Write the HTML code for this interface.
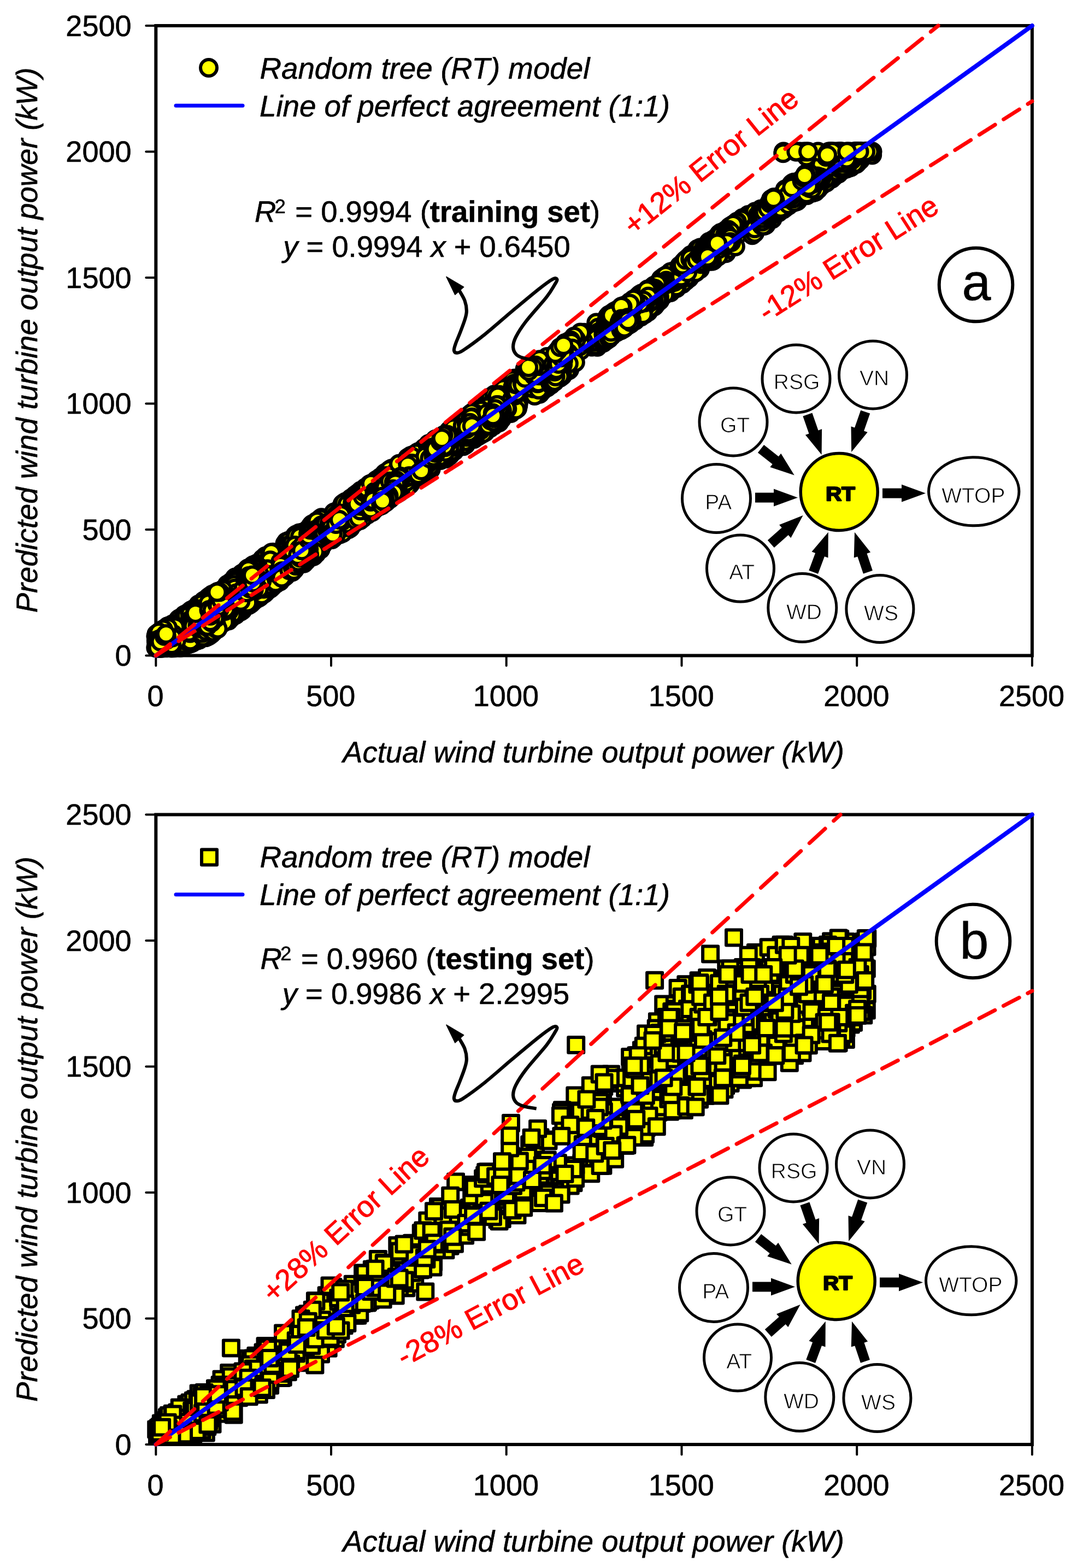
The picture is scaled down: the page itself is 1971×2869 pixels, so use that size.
<!DOCTYPE html><html><head><meta charset="utf-8"><style>html,body{margin:0;padding:0;background:#fff;}svg{display:block;text-rendering:geometricPrecision} .tk{font-family:'Liberation Sans', Arial, sans-serif;font-size:54px;fill:#000;stroke:#000;stroke-width:0.6px;stroke-linejoin:round} .tt{font-family:'Liberation Sans', Arial, sans-serif;font-size:54px;font-style:italic;fill:#000;stroke:#000;stroke-width:0.6px;stroke-linejoin:round} .rt{font-family:'Liberation Sans', Arial, sans-serif;font-size:54px;fill:#f00;stroke:#f00;stroke-width:1px;stroke-linejoin:round} .dg{font-family:'Liberation Sans', Arial, sans-serif;font-size:39px;fill:#000;stroke:#fff;stroke-width:0.8px} .dgb{font-family:'Liberation Sans', Arial, sans-serif;font-size:36px;font-weight:bold;fill:#000;stroke:#000;stroke-width:2.4px;stroke-linejoin:round} .rd{stroke:#f00;stroke-width:6;stroke-dasharray:32.5 17.5;stroke-linecap:round;fill:none} .pt{fill:#ff0;stroke:#000;stroke-width:6} g.pt circle{r:15px} .sq{fill:#ff0;stroke:#000;stroke-width:6;stroke-linejoin:round} g.sq rect{width:28px;height:28px}</style></head><body>
<svg xmlns="http://www.w3.org/2000/svg" width="1971" height="2869" viewBox="0 0 1971 2869">
<rect width="1971" height="2869" fill="#fff"/>
<rect x="285.3" y="47.0" width="1603.6" height="1152.5" fill="none" stroke="#000" stroke-width="6"/>
<line x1="285.3" y1="1199.5" x2="285.3" y2="1218.0" stroke="#000" stroke-width="4" stroke-linecap="round"/>
<line x1="267.3" y1="1199.5" x2="285.3" y2="1199.5" stroke="#000" stroke-width="4" stroke-linecap="round"/>
<text x="284.5" y="1292.2" text-anchor="middle" class="tk">0</text>
<text x="240.5" y="1218.2" text-anchor="end" class="tk">0</text>
<line x1="606.0" y1="1199.5" x2="606.0" y2="1218.0" stroke="#000" stroke-width="4" stroke-linecap="round"/>
<line x1="267.3" y1="969.0" x2="285.3" y2="969.0" stroke="#000" stroke-width="4" stroke-linecap="round"/>
<text x="605.2" y="1292.2" text-anchor="middle" class="tk">500</text>
<text x="240.5" y="987.7" text-anchor="end" class="tk">500</text>
<line x1="926.7" y1="1199.5" x2="926.7" y2="1218.0" stroke="#000" stroke-width="4" stroke-linecap="round"/>
<line x1="267.3" y1="738.5" x2="285.3" y2="738.5" stroke="#000" stroke-width="4" stroke-linecap="round"/>
<text x="925.9" y="1292.2" text-anchor="middle" class="tk">1000</text>
<text x="240.5" y="757.2" text-anchor="end" class="tk">1000</text>
<line x1="1247.5" y1="1199.5" x2="1247.5" y2="1218.0" stroke="#000" stroke-width="4" stroke-linecap="round"/>
<line x1="267.3" y1="508.0" x2="285.3" y2="508.0" stroke="#000" stroke-width="4" stroke-linecap="round"/>
<text x="1246.7" y="1292.2" text-anchor="middle" class="tk">1500</text>
<text x="240.5" y="526.7" text-anchor="end" class="tk">1500</text>
<line x1="1568.2" y1="1199.5" x2="1568.2" y2="1218.0" stroke="#000" stroke-width="4" stroke-linecap="round"/>
<line x1="267.3" y1="277.5" x2="285.3" y2="277.5" stroke="#000" stroke-width="4" stroke-linecap="round"/>
<text x="1567.4" y="1292.2" text-anchor="middle" class="tk">2000</text>
<text x="240.5" y="296.2" text-anchor="end" class="tk">2000</text>
<line x1="1888.9" y1="1199.5" x2="1888.9" y2="1218.0" stroke="#000" stroke-width="4" stroke-linecap="round"/>
<line x1="267.3" y1="47.0" x2="285.3" y2="47.0" stroke="#000" stroke-width="4" stroke-linecap="round"/>
<text x="1888.1" y="1292.2" text-anchor="middle" class="tk">2500</text>
<text x="240.5" y="65.7" text-anchor="end" class="tk">2500</text>
<text x="1086" y="1395.0" text-anchor="middle" class="tt" style="font-size:54.3px">Actual wind turbine output power (kW)</text>
<text transform="translate(68,622.5) rotate(-90)" x="0" y="0" text-anchor="middle" class="tt" style="font-size:54.4px">Predicted wind turbine output power (kW)</text>
<g class="pt"><circle cx="358.0" cy="1157.1"/><circle cx="357.0" cy="1160.2"/><circle cx="355.8" cy="1160.7"/><circle cx="354.2" cy="1163.0"/><circle cx="358.2" cy="1167.0"/><circle cx="359.2" cy="1161.8"/><circle cx="360.3" cy="1170.3"/><circle cx="365.9" cy="1163.4"/><circle cx="356.1" cy="1164.8"/><circle cx="364.6" cy="1167.0"/><circle cx="364.0" cy="1170.0"/><circle cx="366.8" cy="1165.6"/><circle cx="368.0" cy="1158.9"/><circle cx="362.4" cy="1154.1"/><circle cx="358.4" cy="1165.4"/><circle cx="359.9" cy="1166.1"/><circle cx="361.8" cy="1164.2"/><circle cx="358.3" cy="1169.7"/><circle cx="354.0" cy="1165.9"/><circle cx="351.6" cy="1169.2"/><circle cx="350.5" cy="1162.7"/><circle cx="345.6" cy="1159.8"/><circle cx="350.7" cy="1145.8"/><circle cx="347.8" cy="1174.0"/><circle cx="351.2" cy="1173.8"/><circle cx="351.3" cy="1168.1"/><circle cx="350.1" cy="1168.8"/><circle cx="346.3" cy="1156.2"/><circle cx="338.1" cy="1152.2"/><circle cx="335.4" cy="1166.7"/><circle cx="330.5" cy="1162.6"/><circle cx="322.2" cy="1171.6"/><circle cx="327.0" cy="1165.7"/><circle cx="326.2" cy="1163.5"/><circle cx="324.2" cy="1152.9"/><circle cx="332.6" cy="1147.0"/><circle cx="331.6" cy="1156.1"/><circle cx="331.2" cy="1154.8"/><circle cx="328.5" cy="1157.6"/><circle cx="329.7" cy="1159.0"/><circle cx="329.9" cy="1154.2"/><circle cx="330.0" cy="1162.9"/><circle cx="331.3" cy="1159.6"/><circle cx="325.9" cy="1166.0"/><circle cx="332.1" cy="1151.7"/><circle cx="334.5" cy="1144.7"/><circle cx="330.8" cy="1151.3"/><circle cx="339.2" cy="1130.6"/><circle cx="340.9" cy="1134.2"/><circle cx="341.2" cy="1140.8"/><circle cx="1060.9" cy="623.4"/><circle cx="1056.9" cy="634.4"/><circle cx="1063.5" cy="626.0"/><circle cx="1057.3" cy="629.0"/><circle cx="1056.6" cy="626.8"/><circle cx="1062.9" cy="613.7"/><circle cx="1068.6" cy="608.8"/><circle cx="1065.1" cy="616.4"/><circle cx="1070.1" cy="620.4"/><circle cx="1071.7" cy="620.6"/><circle cx="1072.4" cy="625.0"/><circle cx="1071.6" cy="627.8"/><circle cx="1074.1" cy="626.0"/><circle cx="1077.6" cy="628.3"/><circle cx="1086.6" cy="624.3"/><circle cx="1084.7" cy="622.7"/><circle cx="1084.6" cy="630.1"/><circle cx="1083.1" cy="634.4"/><circle cx="1091.4" cy="608.1"/><circle cx="1086.3" cy="613.5"/><circle cx="1088.1" cy="614.1"/><circle cx="1086.2" cy="620.7"/><circle cx="1087.4" cy="615.7"/><circle cx="1098.3" cy="610.7"/><circle cx="1095.9" cy="611.7"/><circle cx="1094.8" cy="611.9"/><circle cx="1082.6" cy="616.7"/><circle cx="1087.1" cy="604.3"/><circle cx="1086.8" cy="612.1"/><circle cx="1090.7" cy="621.0"/><circle cx="1083.0" cy="623.8"/><circle cx="1081.5" cy="630.0"/><circle cx="1086.4" cy="605.0"/><circle cx="1091.3" cy="590.5"/><circle cx="1094.4" cy="599.5"/><circle cx="1095.1" cy="608.1"/><circle cx="1094.5" cy="610.0"/><circle cx="1098.1" cy="608.6"/><circle cx="1097.7" cy="620.5"/><circle cx="1102.4" cy="614.7"/><circle cx="1114.7" cy="597.5"/><circle cx="1118.8" cy="592.7"/><circle cx="1119.4" cy="597.2"/><circle cx="1120.4" cy="600.9"/><circle cx="1113.5" cy="595.3"/><circle cx="1116.3" cy="586.6"/><circle cx="1111.7" cy="579.2"/><circle cx="1117.4" cy="580.9"/><circle cx="1124.0" cy="570.0"/><circle cx="1124.0" cy="577.7"/><circle cx="643.4" cy="914.1"/><circle cx="639.8" cy="922.2"/><circle cx="646.6" cy="912.6"/><circle cx="647.7" cy="915.8"/><circle cx="653.4" cy="927.1"/><circle cx="654.3" cy="921.9"/><circle cx="660.1" cy="900.1"/><circle cx="657.8" cy="904.3"/><circle cx="655.5" cy="904.5"/><circle cx="667.4" cy="897.9"/><circle cx="664.2" cy="898.3"/><circle cx="668.6" cy="892.2"/><circle cx="674.4" cy="898.9"/><circle cx="675.2" cy="904.8"/><circle cx="674.3" cy="911.7"/><circle cx="671.3" cy="910.4"/><circle cx="669.3" cy="914.2"/><circle cx="672.8" cy="907.2"/><circle cx="667.1" cy="914.4"/><circle cx="670.9" cy="906.4"/><circle cx="675.5" cy="897.9"/><circle cx="670.2" cy="899.7"/><circle cx="675.0" cy="897.3"/><circle cx="675.1" cy="897.9"/><circle cx="676.0" cy="892.1"/><circle cx="668.9" cy="899.6"/><circle cx="665.1" cy="899.6"/><circle cx="659.5" cy="902.5"/><circle cx="659.9" cy="898.1"/><circle cx="656.8" cy="902.8"/><circle cx="655.5" cy="918.6"/><circle cx="649.7" cy="922.3"/><circle cx="650.3" cy="907.6"/><circle cx="644.5" cy="916.1"/><circle cx="639.1" cy="919.6"/><circle cx="637.4" cy="917.0"/><circle cx="632.4" cy="918.2"/><circle cx="638.9" cy="917.8"/><circle cx="646.5" cy="918.1"/><circle cx="646.2" cy="929.6"/><circle cx="654.3" cy="917.8"/><circle cx="655.7" cy="920.2"/><circle cx="654.1" cy="922.6"/><circle cx="654.2" cy="925.9"/><circle cx="650.4" cy="915.2"/><circle cx="652.5" cy="910.6"/><circle cx="651.1" cy="909.9"/><circle cx="656.9" cy="920.0"/><circle cx="660.0" cy="916.5"/><circle cx="664.3" cy="910.7"/><circle cx="1583.1" cy="280.5"/><circle cx="1579.0" cy="285.6"/><circle cx="1580.4" cy="282.5"/><circle cx="1580.2" cy="281.9"/><circle cx="1575.6" cy="286.1"/><circle cx="1579.6" cy="281.6"/><circle cx="1575.8" cy="282.7"/><circle cx="1587.8" cy="277.5"/><circle cx="1590.6" cy="277.5"/><circle cx="1593.4" cy="277.5"/><circle cx="1593.1" cy="277.5"/><circle cx="1592.8" cy="277.5"/><circle cx="1584.1" cy="277.5"/><circle cx="1585.5" cy="277.5"/><circle cx="1591.5" cy="277.5"/><circle cx="1585.2" cy="277.5"/><circle cx="1586.5" cy="277.5"/><circle cx="1584.7" cy="277.5"/><circle cx="1594.2" cy="277.5"/><circle cx="1588.9" cy="277.5"/><circle cx="1596.5" cy="277.5"/><circle cx="1589.4" cy="277.5"/><circle cx="1585.5" cy="277.5"/><circle cx="1575.8" cy="287.4"/><circle cx="1575.5" cy="290.1"/><circle cx="1572.3" cy="293.9"/><circle cx="1574.3" cy="292.9"/><circle cx="1577.2" cy="288.4"/><circle cx="1575.7" cy="288.4"/><circle cx="1576.0" cy="284.4"/><circle cx="1573.1" cy="287.8"/><circle cx="1572.7" cy="289.1"/><circle cx="1572.7" cy="290.0"/><circle cx="1572.1" cy="284.5"/><circle cx="1573.9" cy="287.4"/><circle cx="1575.9" cy="284.2"/><circle cx="1577.9" cy="277.9"/><circle cx="1569.4" cy="287.1"/><circle cx="1565.2" cy="293.9"/><circle cx="1560.3" cy="281.9"/><circle cx="1555.7" cy="292.8"/><circle cx="1554.0" cy="286.1"/><circle cx="1550.5" cy="290.6"/><circle cx="1552.8" cy="290.5"/><circle cx="1559.4" cy="291.2"/><circle cx="1559.3" cy="294.5"/><circle cx="1566.8" cy="296.1"/><circle cx="1571.4" cy="286.1"/><circle cx="1570.7" cy="290.5"/><circle cx="1569.4" cy="297.8"/><circle cx="497.2" cy="1020.1"/><circle cx="494.0" cy="1020.0"/><circle cx="497.7" cy="1015.4"/><circle cx="497.6" cy="1015.8"/><circle cx="493.9" cy="1026.7"/><circle cx="490.9" cy="1028.7"/><circle cx="490.4" cy="1029.0"/><circle cx="490.2" cy="1033.8"/><circle cx="489.2" cy="1036.4"/><circle cx="493.0" cy="1035.0"/><circle cx="493.6" cy="1048.7"/><circle cx="486.2" cy="1050.8"/><circle cx="482.3" cy="1039.2"/><circle cx="485.6" cy="1029.5"/><circle cx="479.6" cy="1061.7"/><circle cx="483.8" cy="1072.5"/><circle cx="483.0" cy="1070.6"/><circle cx="487.8" cy="1047.5"/><circle cx="482.8" cy="1038.5"/><circle cx="483.7" cy="1032.4"/><circle cx="478.4" cy="1034.2"/><circle cx="482.6" cy="1024.6"/><circle cx="485.3" cy="1025.2"/><circle cx="490.6" cy="1016.4"/><circle cx="489.5" cy="1019.4"/><circle cx="491.9" cy="1018.8"/><circle cx="490.5" cy="1023.7"/><circle cx="493.4" cy="1014.0"/><circle cx="489.1" cy="1023.7"/><circle cx="486.9" cy="1019.0"/><circle cx="494.9" cy="1013.8"/><circle cx="494.8" cy="1020.7"/><circle cx="488.4" cy="1021.8"/><circle cx="495.1" cy="1024.1"/><circle cx="495.1" cy="1028.3"/><circle cx="494.4" cy="1046.1"/><circle cx="496.4" cy="1061.4"/><circle cx="501.6" cy="1055.7"/><circle cx="497.8" cy="1066.7"/><circle cx="494.7" cy="1052.3"/><circle cx="489.9" cy="1045.5"/><circle cx="492.2" cy="1046.7"/><circle cx="492.0" cy="1064.5"/><circle cx="490.1" cy="1079.1"/><circle cx="491.6" cy="1078.2"/><circle cx="490.8" cy="1067.0"/><circle cx="488.5" cy="1053.7"/><circle cx="487.1" cy="1067.3"/><circle cx="482.2" cy="1073.6"/><circle cx="489.2" cy="1080.5"/><circle cx="729.4" cy="899.9"/><circle cx="734.4" cy="875.4"/><circle cx="731.1" cy="880.0"/><circle cx="733.8" cy="898.6"/><circle cx="735.2" cy="887.5"/><circle cx="738.7" cy="893.3"/><circle cx="741.0" cy="890.3"/><circle cx="743.2" cy="879.3"/><circle cx="748.5" cy="866.8"/><circle cx="749.7" cy="884.2"/><circle cx="748.7" cy="885.1"/><circle cx="753.9" cy="881.6"/><circle cx="750.3" cy="886.4"/><circle cx="752.9" cy="880.0"/><circle cx="749.4" cy="878.1"/><circle cx="756.9" cy="872.9"/><circle cx="758.1" cy="868.4"/><circle cx="764.4" cy="858.0"/><circle cx="767.5" cy="851.8"/><circle cx="764.4" cy="860.0"/><circle cx="770.3" cy="855.7"/><circle cx="767.3" cy="864.7"/><circle cx="767.1" cy="867.4"/><circle cx="773.9" cy="868.0"/><circle cx="771.6" cy="854.6"/><circle cx="771.6" cy="861.1"/><circle cx="768.7" cy="862.8"/><circle cx="760.8" cy="875.4"/><circle cx="767.0" cy="860.8"/><circle cx="760.2" cy="851.9"/><circle cx="765.5" cy="844.4"/><circle cx="765.2" cy="842.0"/><circle cx="764.7" cy="833.2"/><circle cx="764.8" cy="827.2"/><circle cx="764.5" cy="830.0"/><circle cx="766.6" cy="826.7"/><circle cx="762.5" cy="830.7"/><circle cx="760.3" cy="845.3"/><circle cx="763.8" cy="842.0"/><circle cx="761.7" cy="837.5"/><circle cx="757.4" cy="837.3"/><circle cx="758.8" cy="840.8"/><circle cx="761.3" cy="856.8"/><circle cx="758.2" cy="859.1"/><circle cx="770.7" cy="834.9"/><circle cx="768.4" cy="837.9"/><circle cx="769.1" cy="840.8"/><circle cx="768.0" cy="844.6"/><circle cx="768.2" cy="850.9"/><circle cx="759.7" cy="849.3"/><circle cx="821.1" cy="806.4"/><circle cx="820.3" cy="809.3"/><circle cx="818.3" cy="830.5"/><circle cx="822.0" cy="834.2"/><circle cx="815.8" cy="827.5"/><circle cx="816.6" cy="833.0"/><circle cx="816.6" cy="836.8"/><circle cx="806.1" cy="841.9"/><circle cx="811.4" cy="825.2"/><circle cx="812.6" cy="824.7"/><circle cx="810.2" cy="810.4"/><circle cx="804.3" cy="816.1"/><circle cx="808.8" cy="813.1"/><circle cx="816.3" cy="801.6"/><circle cx="823.7" cy="791.5"/><circle cx="823.7" cy="795.2"/><circle cx="826.8" cy="800.7"/><circle cx="822.4" cy="787.2"/><circle cx="821.2" cy="798.3"/><circle cx="821.7" cy="789.6"/><circle cx="820.5" cy="789.7"/><circle cx="821.1" cy="791.6"/><circle cx="826.8" cy="785.4"/><circle cx="826.0" cy="789.7"/><circle cx="825.9" cy="800.5"/><circle cx="825.2" cy="797.5"/><circle cx="830.2" cy="798.1"/><circle cx="826.3" cy="796.9"/><circle cx="827.3" cy="806.4"/><circle cx="831.1" cy="804.2"/><circle cx="820.1" cy="816.5"/><circle cx="814.4" cy="807.8"/><circle cx="811.2" cy="810.9"/><circle cx="811.4" cy="830.5"/><circle cx="810.3" cy="824.9"/><circle cx="815.5" cy="822.5"/><circle cx="813.4" cy="816.8"/><circle cx="813.1" cy="828.5"/><circle cx="815.9" cy="823.9"/><circle cx="819.9" cy="822.6"/><circle cx="814.0" cy="832.4"/><circle cx="816.5" cy="834.1"/><circle cx="816.2" cy="825.2"/><circle cx="819.5" cy="831.0"/><circle cx="816.3" cy="831.5"/><circle cx="816.7" cy="836.6"/><circle cx="816.9" cy="830.0"/><circle cx="822.0" cy="823.8"/><circle cx="823.2" cy="827.9"/><circle cx="817.4" cy="837.7"/><circle cx="479.6" cy="1076.8"/><circle cx="480.6" cy="1078.9"/><circle cx="484.7" cy="1079.7"/><circle cx="492.2" cy="1060.8"/><circle cx="490.5" cy="1025.0"/><circle cx="494.2" cy="1018.4"/><circle cx="498.3" cy="1038.5"/><circle cx="498.3" cy="1035.8"/><circle cx="496.1" cy="1028.5"/><circle cx="493.2" cy="1037.3"/><circle cx="493.4" cy="1037.9"/><circle cx="492.6" cy="1048.3"/><circle cx="494.8" cy="1045.2"/><circle cx="497.8" cy="1041.4"/><circle cx="492.6" cy="1060.8"/><circle cx="494.7" cy="1049.0"/><circle cx="499.6" cy="1049.1"/><circle cx="492.5" cy="1071.5"/><circle cx="494.0" cy="1077.0"/><circle cx="494.9" cy="1074.7"/><circle cx="488.0" cy="1075.7"/><circle cx="488.1" cy="1072.5"/><circle cx="489.7" cy="1072.2"/><circle cx="492.7" cy="1065.9"/><circle cx="492.6" cy="1043.1"/><circle cx="490.7" cy="1051.7"/><circle cx="496.7" cy="1043.4"/><circle cx="496.1" cy="1060.8"/><circle cx="494.7" cy="1069.7"/><circle cx="502.2" cy="1064.5"/><circle cx="507.7" cy="1052.8"/><circle cx="508.6" cy="1051.3"/><circle cx="509.1" cy="1062.9"/><circle cx="519.9" cy="1047.8"/><circle cx="517.3" cy="1054.9"/><circle cx="512.6" cy="1063.7"/><circle cx="515.1" cy="1058.9"/><circle cx="517.5" cy="1040.8"/><circle cx="520.9" cy="1022.2"/><circle cx="517.8" cy="1018.6"/><circle cx="516.0" cy="1028.9"/><circle cx="516.4" cy="1024.5"/><circle cx="518.8" cy="1039.3"/><circle cx="518.8" cy="1043.1"/><circle cx="524.4" cy="1041.7"/><circle cx="518.6" cy="1047.4"/><circle cx="528.5" cy="1019.4"/><circle cx="528.4" cy="1023.9"/><circle cx="532.7" cy="1027.6"/><circle cx="531.5" cy="1017.6"/><circle cx="469.0" cy="1055.3"/><circle cx="472.8" cy="1039.3"/><circle cx="479.1" cy="1049.2"/><circle cx="477.5" cy="1063.9"/><circle cx="472.4" cy="1080.5"/><circle cx="473.4" cy="1087.5"/><circle cx="473.5" cy="1093.8"/><circle cx="477.9" cy="1080.9"/><circle cx="475.8" cy="1092.2"/><circle cx="481.2" cy="1087.5"/><circle cx="482.1" cy="1068.7"/><circle cx="474.3" cy="1047.0"/><circle cx="478.3" cy="1051.5"/><circle cx="482.0" cy="1030.0"/><circle cx="483.1" cy="1027.7"/><circle cx="482.4" cy="1033.4"/><circle cx="486.9" cy="1057.1"/><circle cx="477.9" cy="1051.2"/><circle cx="471.7" cy="1071.5"/><circle cx="468.4" cy="1076.6"/><circle cx="470.3" cy="1049.2"/><circle cx="475.0" cy="1054.8"/><circle cx="472.7" cy="1051.2"/><circle cx="471.0" cy="1056.9"/><circle cx="472.0" cy="1064.2"/><circle cx="466.7" cy="1058.8"/><circle cx="466.9" cy="1060.2"/><circle cx="463.8" cy="1077.2"/><circle cx="465.3" cy="1084.8"/><circle cx="467.6" cy="1095.3"/><circle cx="466.1" cy="1095.3"/><circle cx="469.7" cy="1094.8"/><circle cx="463.6" cy="1094.6"/><circle cx="465.9" cy="1096.5"/><circle cx="464.3" cy="1087.0"/><circle cx="463.5" cy="1096.8"/><circle cx="467.2" cy="1091.3"/><circle cx="463.4" cy="1090.0"/><circle cx="455.6" cy="1106.9"/><circle cx="459.9" cy="1103.4"/><circle cx="462.2" cy="1086.8"/><circle cx="462.4" cy="1087.9"/><circle cx="466.2" cy="1078.3"/><circle cx="468.2" cy="1066.7"/><circle cx="471.9" cy="1055.9"/><circle cx="472.3" cy="1057.2"/><circle cx="466.2" cy="1056.6"/><circle cx="467.8" cy="1052.9"/><circle cx="464.7" cy="1047.7"/><circle cx="462.2" cy="1049.4"/><circle cx="523.3" cy="1053.4"/><circle cx="527.3" cy="1024.9"/><circle cx="528.1" cy="1029.4"/><circle cx="539.5" cy="1011.2"/><circle cx="538.0" cy="1012.6"/><circle cx="542.0" cy="1005.2"/><circle cx="547.2" cy="993.5"/><circle cx="548.4" cy="987.4"/><circle cx="549.1" cy="979.9"/><circle cx="541.9" cy="995.9"/><circle cx="543.3" cy="989.3"/><circle cx="544.2" cy="998.8"/><circle cx="539.8" cy="1000.7"/><circle cx="542.2" cy="1004.4"/><circle cx="540.7" cy="983.9"/><circle cx="546.3" cy="983.4"/><circle cx="546.3" cy="980.5"/><circle cx="547.5" cy="975.4"/><circle cx="542.9" cy="983.9"/><circle cx="540.2" cy="979.4"/><circle cx="535.0" cy="989.6"/><circle cx="529.2" cy="1000.6"/><circle cx="524.6" cy="1007.5"/><circle cx="530.8" cy="1005.2"/><circle cx="527.5" cy="1008.1"/><circle cx="528.2" cy="989.6"/><circle cx="525.4" cy="993.2"/><circle cx="523.3" cy="995.5"/><circle cx="526.6" cy="1001.2"/><circle cx="530.7" cy="1004.4"/><circle cx="529.4" cy="1005.1"/><circle cx="528.2" cy="1002.7"/><circle cx="527.4" cy="991.1"/><circle cx="525.9" cy="991.9"/><circle cx="521.5" cy="994.7"/><circle cx="523.8" cy="991.3"/><circle cx="533.1" cy="1010.5"/><circle cx="532.2" cy="992.3"/><circle cx="536.6" cy="1016.5"/><circle cx="525.4" cy="1026.1"/><circle cx="527.7" cy="1021.2"/><circle cx="530.2" cy="996.2"/><circle cx="534.0" cy="997.3"/><circle cx="534.1" cy="991.2"/><circle cx="537.0" cy="984.2"/><circle cx="538.0" cy="983.4"/><circle cx="527.9" cy="990.2"/><circle cx="528.8" cy="997.3"/><circle cx="524.9" cy="999.8"/><circle cx="527.6" cy="999.3"/><circle cx="707.9" cy="897.2"/><circle cx="708.4" cy="892.6"/><circle cx="702.1" cy="894.7"/><circle cx="696.3" cy="912.7"/><circle cx="690.8" cy="912.9"/><circle cx="692.3" cy="908.9"/><circle cx="698.6" cy="903.8"/><circle cx="692.3" cy="918.1"/><circle cx="691.1" cy="914.9"/><circle cx="687.3" cy="913.8"/><circle cx="687.8" cy="904.0"/><circle cx="691.0" cy="914.6"/><circle cx="699.0" cy="913.7"/><circle cx="698.8" cy="923.0"/><circle cx="704.8" cy="917.5"/><circle cx="702.8" cy="912.4"/><circle cx="703.9" cy="911.6"/><circle cx="707.6" cy="917.8"/><circle cx="702.7" cy="918.0"/><circle cx="704.6" cy="913.7"/><circle cx="705.5" cy="913.8"/><circle cx="705.8" cy="913.7"/><circle cx="704.5" cy="917.9"/><circle cx="702.5" cy="919.6"/><circle cx="697.4" cy="917.5"/><circle cx="699.1" cy="920.9"/><circle cx="696.8" cy="923.3"/><circle cx="699.9" cy="918.5"/><circle cx="701.0" cy="920.9"/><circle cx="695.2" cy="911.5"/><circle cx="696.1" cy="902.1"/><circle cx="696.0" cy="903.5"/><circle cx="692.5" cy="897.1"/><circle cx="688.7" cy="910.2"/><circle cx="678.8" cy="924.6"/><circle cx="678.4" cy="918.2"/><circle cx="679.5" cy="915.9"/><circle cx="675.0" cy="917.4"/><circle cx="675.1" cy="920.3"/><circle cx="675.3" cy="918.9"/><circle cx="665.1" cy="919.7"/><circle cx="667.0" cy="922.9"/><circle cx="662.9" cy="919.4"/><circle cx="657.7" cy="910.6"/><circle cx="659.4" cy="916.1"/><circle cx="659.0" cy="919.0"/><circle cx="665.0" cy="904.8"/><circle cx="664.9" cy="903.9"/><circle cx="669.1" cy="893.9"/><circle cx="661.9" cy="902.3"/><circle cx="581.1" cy="961.0"/><circle cx="577.3" cy="977.5"/><circle cx="574.3" cy="961.8"/><circle cx="573.5" cy="959.1"/><circle cx="569.0" cy="961.4"/><circle cx="570.3" cy="969.4"/><circle cx="569.7" cy="983.8"/><circle cx="572.7" cy="980.2"/><circle cx="573.3" cy="978.6"/><circle cx="573.1" cy="985.9"/><circle cx="572.7" cy="962.7"/><circle cx="572.6" cy="961.2"/><circle cx="575.5" cy="958.1"/><circle cx="576.2" cy="978.8"/><circle cx="571.5" cy="971.1"/><circle cx="565.1" cy="973.5"/><circle cx="556.7" cy="982.9"/><circle cx="553.8" cy="974.2"/><circle cx="547.2" cy="985.0"/><circle cx="543.7" cy="983.6"/><circle cx="545.2" cy="996.4"/><circle cx="553.9" cy="1000.7"/><circle cx="554.5" cy="1002.1"/><circle cx="562.6" cy="1010.5"/><circle cx="561.2" cy="1016.1"/><circle cx="562.5" cy="1015.7"/><circle cx="560.3" cy="1004.1"/><circle cx="557.9" cy="990.4"/><circle cx="563.4" cy="991.9"/><circle cx="558.0" cy="1009.7"/><circle cx="562.0" cy="987.8"/><circle cx="570.2" cy="989.9"/><circle cx="579.5" cy="971.4"/><circle cx="581.9" cy="973.8"/><circle cx="582.8" cy="974.8"/><circle cx="587.5" cy="957.2"/><circle cx="581.9" cy="955.2"/><circle cx="579.4" cy="955.1"/><circle cx="581.1" cy="956.6"/><circle cx="581.2" cy="953.8"/><circle cx="579.2" cy="964.3"/><circle cx="582.7" cy="963.0"/><circle cx="581.2" cy="978.9"/><circle cx="578.5" cy="987.1"/><circle cx="583.7" cy="980.8"/><circle cx="587.4" cy="967.5"/><circle cx="592.0" cy="966.3"/><circle cx="584.9" cy="977.7"/><circle cx="580.9" cy="992.9"/><circle cx="577.8" cy="993.5"/><circle cx="404.3" cy="1134.5"/><circle cx="406.6" cy="1139.0"/><circle cx="407.0" cy="1138.6"/><circle cx="401.8" cy="1143.3"/><circle cx="402.6" cy="1135.7"/><circle cx="398.5" cy="1139.2"/><circle cx="400.2" cy="1130.2"/><circle cx="403.6" cy="1124.3"/><circle cx="405.2" cy="1140.4"/><circle cx="403.0" cy="1142.1"/><circle cx="401.8" cy="1139.5"/><circle cx="403.4" cy="1121.1"/><circle cx="404.9" cy="1104.4"/><circle cx="402.1" cy="1115.6"/><circle cx="394.6" cy="1136.0"/><circle cx="402.7" cy="1142.3"/><circle cx="405.7" cy="1141.2"/><circle cx="404.9" cy="1126.6"/><circle cx="400.5" cy="1129.9"/><circle cx="403.0" cy="1122.5"/><circle cx="397.6" cy="1129.9"/><circle cx="397.8" cy="1110.7"/><circle cx="395.3" cy="1104.1"/><circle cx="394.1" cy="1110.9"/><circle cx="397.7" cy="1094.1"/><circle cx="397.6" cy="1087.3"/><circle cx="390.4" cy="1100.0"/><circle cx="388.4" cy="1098.7"/><circle cx="379.3" cy="1110.9"/><circle cx="379.5" cy="1118.1"/><circle cx="377.3" cy="1136.2"/><circle cx="378.8" cy="1129.9"/><circle cx="380.6" cy="1136.1"/><circle cx="378.1" cy="1149.6"/><circle cx="380.2" cy="1157.3"/><circle cx="384.8" cy="1140.5"/><circle cx="384.5" cy="1135.4"/><circle cx="386.5" cy="1132.6"/><circle cx="376.9" cy="1160.4"/><circle cx="378.9" cy="1141.7"/><circle cx="376.2" cy="1146.1"/><circle cx="374.8" cy="1142.7"/><circle cx="376.0" cy="1152.8"/><circle cx="380.5" cy="1153.2"/><circle cx="382.2" cy="1135.1"/><circle cx="375.9" cy="1138.6"/><circle cx="373.4" cy="1141.3"/><circle cx="369.8" cy="1136.5"/><circle cx="369.3" cy="1113.1"/><circle cx="363.9" cy="1122.6"/><circle cx="834.8" cy="782.7"/><circle cx="835.8" cy="784.4"/><circle cx="839.9" cy="776.0"/><circle cx="836.8" cy="780.9"/><circle cx="834.4" cy="792.8"/><circle cx="838.2" cy="794.5"/><circle cx="839.6" cy="781.4"/><circle cx="837.3" cy="779.0"/><circle cx="832.9" cy="786.5"/><circle cx="829.6" cy="783.6"/><circle cx="824.9" cy="799.5"/><circle cx="827.5" cy="807.8"/><circle cx="828.3" cy="799.9"/><circle cx="816.2" cy="809.4"/><circle cx="821.6" cy="808.0"/><circle cx="825.8" cy="816.4"/><circle cx="830.9" cy="809.5"/><circle cx="835.6" cy="812.0"/><circle cx="828.7" cy="813.8"/><circle cx="822.3" cy="817.5"/><circle cx="824.9" cy="807.5"/><circle cx="815.7" cy="823.9"/><circle cx="817.4" cy="834.0"/><circle cx="811.4" cy="838.6"/><circle cx="820.7" cy="824.3"/><circle cx="819.8" cy="827.1"/><circle cx="819.1" cy="835.2"/><circle cx="823.8" cy="832.5"/><circle cx="817.6" cy="833.4"/><circle cx="815.5" cy="839.3"/><circle cx="816.7" cy="826.4"/><circle cx="821.8" cy="819.4"/><circle cx="823.4" cy="831.7"/><circle cx="821.0" cy="834.4"/><circle cx="826.3" cy="823.3"/><circle cx="828.7" cy="811.7"/><circle cx="823.0" cy="817.5"/><circle cx="824.7" cy="830.1"/><circle cx="820.9" cy="829.8"/><circle cx="824.3" cy="814.6"/><circle cx="820.7" cy="818.5"/><circle cx="818.4" cy="818.8"/><circle cx="820.5" cy="811.2"/><circle cx="822.6" cy="804.9"/><circle cx="820.2" cy="810.6"/><circle cx="817.6" cy="814.6"/><circle cx="824.8" cy="809.9"/><circle cx="824.1" cy="815.9"/><circle cx="822.5" cy="825.3"/><circle cx="816.7" cy="834.2"/><circle cx="760.5" cy="873.6"/><circle cx="765.1" cy="854.2"/><circle cx="765.6" cy="849.4"/><circle cx="768.7" cy="836.9"/><circle cx="769.4" cy="836.6"/><circle cx="775.7" cy="828.8"/><circle cx="775.7" cy="832.6"/><circle cx="777.7" cy="835.9"/><circle cx="778.4" cy="828.0"/><circle cx="784.0" cy="838.7"/><circle cx="784.7" cy="833.5"/><circle cx="789.4" cy="823.2"/><circle cx="790.7" cy="810.6"/><circle cx="797.0" cy="808.8"/><circle cx="798.5" cy="803.3"/><circle cx="796.6" cy="811.8"/><circle cx="796.3" cy="804.1"/><circle cx="800.6" cy="807.4"/><circle cx="800.3" cy="813.4"/><circle cx="803.6" cy="818.2"/><circle cx="808.3" cy="818.2"/><circle cx="811.5" cy="823.1"/><circle cx="806.0" cy="827.1"/><circle cx="806.3" cy="826.2"/><circle cx="809.0" cy="816.9"/><circle cx="802.9" cy="816.6"/><circle cx="805.2" cy="808.6"/><circle cx="795.3" cy="825.2"/><circle cx="800.9" cy="826.4"/><circle cx="800.2" cy="825.5"/><circle cx="795.0" cy="821.4"/><circle cx="798.6" cy="816.0"/><circle cx="804.0" cy="811.3"/><circle cx="794.4" cy="819.3"/><circle cx="801.4" cy="817.3"/><circle cx="798.5" cy="814.1"/><circle cx="801.3" cy="806.5"/><circle cx="795.9" cy="811.6"/><circle cx="796.3" cy="805.9"/><circle cx="792.0" cy="812.1"/><circle cx="784.0" cy="812.2"/><circle cx="781.8" cy="828.4"/><circle cx="777.4" cy="836.9"/><circle cx="776.7" cy="847.1"/><circle cx="783.2" cy="840.7"/><circle cx="784.2" cy="832.9"/><circle cx="782.7" cy="840.3"/><circle cx="777.2" cy="838.0"/><circle cx="777.5" cy="835.5"/><circle cx="775.9" cy="819.7"/><circle cx="353.2" cy="1132.2"/><circle cx="358.7" cy="1122.1"/><circle cx="354.3" cy="1114.6"/><circle cx="359.5" cy="1113.9"/><circle cx="354.9" cy="1116.3"/><circle cx="352.9" cy="1121.9"/><circle cx="351.6" cy="1116.6"/><circle cx="349.1" cy="1123.5"/><circle cx="349.2" cy="1118.8"/><circle cx="349.8" cy="1120.9"/><circle cx="351.3" cy="1131.1"/><circle cx="348.9" cy="1124.8"/><circle cx="352.4" cy="1120.9"/><circle cx="349.2" cy="1120.3"/><circle cx="347.6" cy="1131.0"/><circle cx="345.7" cy="1141.6"/><circle cx="339.1" cy="1128.8"/><circle cx="344.6" cy="1129.1"/><circle cx="346.7" cy="1128.8"/><circle cx="348.9" cy="1117.3"/><circle cx="353.2" cy="1117.6"/><circle cx="357.6" cy="1115.4"/><circle cx="348.7" cy="1123.9"/><circle cx="353.8" cy="1119.0"/><circle cx="352.0" cy="1122.7"/><circle cx="350.1" cy="1118.6"/><circle cx="350.6" cy="1119.7"/><circle cx="357.4" cy="1115.4"/><circle cx="365.8" cy="1128.6"/><circle cx="373.5" cy="1135.7"/><circle cx="374.1" cy="1136.9"/><circle cx="373.5" cy="1129.1"/><circle cx="373.2" cy="1122.2"/><circle cx="380.5" cy="1123.8"/><circle cx="378.5" cy="1103.2"/><circle cx="378.3" cy="1098.6"/><circle cx="373.4" cy="1107.1"/><circle cx="363.3" cy="1120.1"/><circle cx="363.0" cy="1147.5"/><circle cx="362.9" cy="1146.0"/><circle cx="369.4" cy="1144.0"/><circle cx="370.1" cy="1139.6"/><circle cx="367.4" cy="1157.2"/><circle cx="371.9" cy="1162.5"/><circle cx="370.3" cy="1163.5"/><circle cx="366.4" cy="1165.4"/><circle cx="360.1" cy="1172.1"/><circle cx="365.0" cy="1157.0"/><circle cx="360.8" cy="1170.4"/><circle cx="357.6" cy="1163.9"/><circle cx="1315.4" cy="460.3"/><circle cx="1315.0" cy="463.0"/><circle cx="1321.9" cy="456.8"/><circle cx="1323.8" cy="450.0"/><circle cx="1314.0" cy="444.4"/><circle cx="1317.0" cy="434.2"/><circle cx="1315.3" cy="442.2"/><circle cx="1318.6" cy="435.6"/><circle cx="1316.2" cy="428.5"/><circle cx="1322.7" cy="429.5"/><circle cx="1322.6" cy="430.0"/><circle cx="1322.2" cy="437.6"/><circle cx="1315.2" cy="435.6"/><circle cx="1316.2" cy="433.6"/><circle cx="1320.3" cy="429.4"/><circle cx="1324.2" cy="423.9"/><circle cx="1322.9" cy="438.3"/><circle cx="1325.3" cy="426.7"/><circle cx="1328.8" cy="421.0"/><circle cx="1333.7" cy="422.3"/><circle cx="1334.6" cy="417.2"/><circle cx="1334.6" cy="429.2"/><circle cx="1335.2" cy="438.5"/><circle cx="1333.0" cy="432.8"/><circle cx="1334.0" cy="437.4"/><circle cx="1334.0" cy="424.8"/><circle cx="1332.2" cy="426.8"/><circle cx="1334.8" cy="416.1"/><circle cx="1335.5" cy="425.0"/><circle cx="1342.9" cy="411.0"/><circle cx="1337.9" cy="413.3"/><circle cx="1335.4" cy="416.3"/><circle cx="1336.4" cy="419.9"/><circle cx="1335.1" cy="414.9"/><circle cx="1330.9" cy="419.9"/><circle cx="1328.4" cy="421.2"/><circle cx="1343.2" cy="418.1"/><circle cx="1341.7" cy="421.5"/><circle cx="1336.4" cy="415.7"/><circle cx="1339.7" cy="421.5"/><circle cx="1336.7" cy="430.7"/><circle cx="1337.8" cy="430.1"/><circle cx="1346.8" cy="423.3"/><circle cx="1341.0" cy="428.0"/><circle cx="1340.5" cy="440.8"/><circle cx="1330.8" cy="454.7"/><circle cx="1331.7" cy="441.1"/><circle cx="1335.0" cy="437.7"/><circle cx="1337.9" cy="436.9"/><circle cx="1338.7" cy="439.1"/><circle cx="328.4" cy="1184.4"/><circle cx="329.8" cy="1182.1"/><circle cx="326.1" cy="1178.7"/><circle cx="334.4" cy="1176.5"/><circle cx="334.1" cy="1179.0"/><circle cx="327.0" cy="1165.4"/><circle cx="324.8" cy="1159.0"/><circle cx="322.3" cy="1162.1"/><circle cx="335.9" cy="1148.3"/><circle cx="336.1" cy="1150.7"/><circle cx="336.0" cy="1159.3"/><circle cx="343.9" cy="1143.1"/><circle cx="344.7" cy="1140.1"/><circle cx="346.3" cy="1124.3"/><circle cx="338.4" cy="1139.8"/><circle cx="340.7" cy="1140.1"/><circle cx="341.1" cy="1126.6"/><circle cx="339.4" cy="1125.9"/><circle cx="333.0" cy="1133.8"/><circle cx="336.2" cy="1136.5"/><circle cx="336.1" cy="1141.3"/><circle cx="333.4" cy="1143.7"/><circle cx="333.5" cy="1148.6"/><circle cx="333.2" cy="1147.5"/><circle cx="332.6" cy="1142.1"/><circle cx="342.7" cy="1140.4"/><circle cx="344.6" cy="1161.1"/><circle cx="350.9" cy="1142.5"/><circle cx="354.0" cy="1149.1"/><circle cx="362.5" cy="1158.3"/><circle cx="365.9" cy="1144.1"/><circle cx="362.0" cy="1149.0"/><circle cx="364.3" cy="1137.0"/><circle cx="362.6" cy="1133.7"/><circle cx="362.8" cy="1137.1"/><circle cx="361.5" cy="1124.9"/><circle cx="367.1" cy="1138.5"/><circle cx="366.6" cy="1149.8"/><circle cx="368.6" cy="1155.9"/><circle cx="370.8" cy="1146.5"/><circle cx="373.4" cy="1156.4"/><circle cx="369.3" cy="1159.0"/><circle cx="378.7" cy="1155.6"/><circle cx="387.7" cy="1158.2"/><circle cx="386.1" cy="1152.4"/><circle cx="382.5" cy="1156.5"/><circle cx="382.3" cy="1163.1"/><circle cx="373.3" cy="1142.7"/><circle cx="383.5" cy="1136.6"/><circle cx="386.5" cy="1139.7"/><circle cx="357.2" cy="1164.4"/><circle cx="365.3" cy="1162.7"/><circle cx="363.9" cy="1168.2"/><circle cx="372.4" cy="1164.8"/><circle cx="369.6" cy="1164.9"/><circle cx="360.5" cy="1168.0"/><circle cx="361.6" cy="1164.0"/><circle cx="363.5" cy="1168.3"/><circle cx="364.4" cy="1151.3"/><circle cx="365.0" cy="1155.1"/><circle cx="370.2" cy="1160.3"/><circle cx="366.6" cy="1162.2"/><circle cx="368.3" cy="1163.7"/><circle cx="366.2" cy="1145.7"/><circle cx="363.5" cy="1143.6"/><circle cx="370.2" cy="1147.0"/><circle cx="364.2" cy="1159.4"/><circle cx="371.9" cy="1162.6"/><circle cx="367.5" cy="1157.7"/><circle cx="371.0" cy="1146.5"/><circle cx="380.8" cy="1143.9"/><circle cx="371.8" cy="1151.7"/><circle cx="371.5" cy="1158.9"/><circle cx="373.6" cy="1148.7"/><circle cx="375.8" cy="1156.8"/><circle cx="375.5" cy="1156.4"/><circle cx="370.6" cy="1157.1"/><circle cx="368.3" cy="1157.6"/><circle cx="366.5" cy="1139.2"/><circle cx="369.1" cy="1130.6"/><circle cx="368.1" cy="1120.9"/><circle cx="368.1" cy="1117.1"/><circle cx="375.9" cy="1101.1"/><circle cx="370.5" cy="1105.4"/><circle cx="365.0" cy="1106.7"/><circle cx="376.7" cy="1102.1"/><circle cx="377.1" cy="1108.9"/><circle cx="379.9" cy="1112.2"/><circle cx="380.3" cy="1109.4"/><circle cx="386.0" cy="1115.4"/><circle cx="386.3" cy="1117.2"/><circle cx="381.5" cy="1111.9"/><circle cx="374.6" cy="1113.9"/><circle cx="381.8" cy="1123.1"/><circle cx="381.6" cy="1119.9"/><circle cx="385.3" cy="1126.5"/><circle cx="381.7" cy="1129.2"/><circle cx="385.0" cy="1134.8"/><circle cx="388.9" cy="1143.5"/><circle cx="390.5" cy="1137.3"/><circle cx="1267.1" cy="470.6"/><circle cx="1263.5" cy="478.2"/><circle cx="1266.4" cy="468.8"/><circle cx="1258.0" cy="486.0"/><circle cx="1258.6" cy="479.6"/><circle cx="1258.9" cy="485.2"/><circle cx="1247.2" cy="502.6"/><circle cx="1250.6" cy="486.6"/><circle cx="1254.0" cy="479.6"/><circle cx="1259.1" cy="477.4"/><circle cx="1269.3" cy="464.0"/><circle cx="1269.3" cy="470.9"/><circle cx="1266.4" cy="468.9"/><circle cx="1264.7" cy="470.0"/><circle cx="1259.9" cy="477.6"/><circle cx="1262.3" cy="475.8"/><circle cx="1270.0" cy="466.7"/><circle cx="1275.8" cy="457.6"/><circle cx="1279.2" cy="463.0"/><circle cx="1280.1" cy="461.2"/><circle cx="1277.9" cy="459.0"/><circle cx="1276.3" cy="455.6"/><circle cx="1266.5" cy="467.4"/><circle cx="1264.0" cy="466.7"/><circle cx="1259.3" cy="471.6"/><circle cx="1262.8" cy="468.6"/><circle cx="1260.6" cy="479.4"/><circle cx="1265.0" cy="481.4"/><circle cx="1270.1" cy="474.5"/><circle cx="1269.6" cy="482.4"/><circle cx="1267.1" cy="483.8"/><circle cx="1268.8" cy="484.7"/><circle cx="1267.5" cy="492.3"/><circle cx="1266.7" cy="497.7"/><circle cx="1271.5" cy="497.9"/><circle cx="1274.8" cy="487.4"/><circle cx="1268.9" cy="488.5"/><circle cx="1271.1" cy="496.5"/><circle cx="1265.6" cy="503.2"/><circle cx="1261.8" cy="501.7"/><circle cx="1260.5" cy="507.2"/><circle cx="1261.5" cy="504.4"/><circle cx="1257.0" cy="512.0"/><circle cx="1261.2" cy="508.9"/><circle cx="1263.4" cy="503.5"/><circle cx="1258.5" cy="505.1"/><circle cx="1255.6" cy="502.4"/><circle cx="1253.4" cy="514.7"/><circle cx="1254.3" cy="514.5"/><circle cx="1257.6" cy="506.7"/><circle cx="322.4" cy="1154.9"/><circle cx="324.2" cy="1175.1"/><circle cx="324.0" cy="1170.3"/><circle cx="321.8" cy="1178.2"/><circle cx="319.0" cy="1169.4"/><circle cx="323.9" cy="1153.9"/><circle cx="316.6" cy="1156.7"/><circle cx="316.3" cy="1142.8"/><circle cx="308.5" cy="1150.0"/><circle cx="305.9" cy="1158.4"/><circle cx="312.3" cy="1166.4"/><circle cx="319.9" cy="1162.4"/><circle cx="315.4" cy="1160.0"/><circle cx="321.1" cy="1154.1"/><circle cx="314.3" cy="1165.3"/><circle cx="318.5" cy="1154.6"/><circle cx="314.9" cy="1163.0"/><circle cx="308.0" cy="1170.5"/><circle cx="306.8" cy="1179.0"/><circle cx="302.7" cy="1178.6"/><circle cx="299.2" cy="1181.0"/><circle cx="294.3" cy="1184.7"/><circle cx="293.5" cy="1182.5"/><circle cx="291.8" cy="1180.6"/><circle cx="288.0" cy="1181.0"/><circle cx="290.9" cy="1183.3"/><circle cx="291.4" cy="1185.4"/><circle cx="286.6" cy="1180.6"/><circle cx="287.4" cy="1182.6"/><circle cx="292.8" cy="1179.4"/><circle cx="286.1" cy="1182.0"/><circle cx="287.8" cy="1182.4"/><circle cx="289.3" cy="1181.9"/><circle cx="287.3" cy="1183.6"/><circle cx="288.0" cy="1182.5"/><circle cx="296.5" cy="1183.0"/><circle cx="290.6" cy="1180.2"/><circle cx="287.6" cy="1181.2"/><circle cx="289.4" cy="1180.3"/><circle cx="291.9" cy="1185.1"/><circle cx="297.3" cy="1181.4"/><circle cx="303.2" cy="1155.9"/><circle cx="306.8" cy="1148.2"/><circle cx="308.8" cy="1152.5"/><circle cx="303.5" cy="1155.1"/><circle cx="304.6" cy="1159.2"/><circle cx="300.4" cy="1153.8"/><circle cx="291.8" cy="1179.1"/><circle cx="290.9" cy="1177.9"/><circle cx="286.4" cy="1184.0"/><circle cx="293.7" cy="1160.3"/><circle cx="292.2" cy="1156.7"/><circle cx="286.5" cy="1160.5"/><circle cx="285.9" cy="1172.0"/><circle cx="299.8" cy="1158.2"/><circle cx="295.7" cy="1157.1"/><circle cx="297.6" cy="1159.1"/><circle cx="297.7" cy="1155.2"/><circle cx="299.9" cy="1156.7"/><circle cx="291.6" cy="1159.8"/><circle cx="285.5" cy="1164.2"/><circle cx="286.1" cy="1164.2"/><circle cx="286.6" cy="1160.1"/><circle cx="285.7" cy="1164.8"/><circle cx="287.4" cy="1169.0"/><circle cx="295.3" cy="1174.2"/><circle cx="291.7" cy="1172.7"/><circle cx="287.5" cy="1177.6"/><circle cx="296.4" cy="1178.0"/><circle cx="286.5" cy="1173.9"/><circle cx="289.9" cy="1175.9"/><circle cx="289.9" cy="1178.2"/><circle cx="297.9" cy="1167.0"/><circle cx="294.1" cy="1184.7"/><circle cx="295.6" cy="1177.7"/><circle cx="286.5" cy="1171.2"/><circle cx="295.0" cy="1166.6"/><circle cx="295.2" cy="1174.3"/><circle cx="294.6" cy="1169.2"/><circle cx="291.3" cy="1183.0"/><circle cx="292.2" cy="1179.9"/><circle cx="294.1" cy="1185.4"/><circle cx="298.8" cy="1184.1"/><circle cx="296.7" cy="1182.7"/><circle cx="293.3" cy="1185.3"/><circle cx="299.3" cy="1183.7"/><circle cx="299.4" cy="1184.1"/><circle cx="299.5" cy="1182.0"/><circle cx="298.1" cy="1181.8"/><circle cx="301.0" cy="1181.1"/><circle cx="304.4" cy="1181.0"/><circle cx="305.3" cy="1183.7"/><circle cx="304.6" cy="1179.7"/><circle cx="307.5" cy="1176.7"/><circle cx="312.6" cy="1170.8"/><circle cx="313.3" cy="1179.4"/><circle cx="318.1" cy="1184.2"/><circle cx="322.9" cy="1177.3"/><circle cx="320.6" cy="1183.1"/><circle cx="318.2" cy="1180.8"/><circle cx="442.5" cy="1081.2"/><circle cx="443.1" cy="1069.7"/><circle cx="439.9" cy="1060.0"/><circle cx="438.3" cy="1071.6"/><circle cx="440.7" cy="1073.4"/><circle cx="443.0" cy="1063.7"/><circle cx="441.9" cy="1059.9"/><circle cx="438.0" cy="1058.8"/><circle cx="434.2" cy="1061.6"/><circle cx="437.8" cy="1062.8"/><circle cx="438.1" cy="1068.4"/><circle cx="437.3" cy="1060.0"/><circle cx="429.3" cy="1080.0"/><circle cx="430.7" cy="1056.6"/><circle cx="432.3" cy="1059.3"/><circle cx="432.1" cy="1062.2"/><circle cx="429.2" cy="1065.4"/><circle cx="426.5" cy="1076.8"/><circle cx="422.7" cy="1064.8"/><circle cx="422.8" cy="1086.7"/><circle cx="419.0" cy="1102.3"/><circle cx="419.9" cy="1106.7"/><circle cx="426.2" cy="1092.4"/><circle cx="425.9" cy="1089.5"/><circle cx="428.5" cy="1089.2"/><circle cx="429.7" cy="1097.4"/><circle cx="428.8" cy="1100.2"/><circle cx="426.4" cy="1117.0"/><circle cx="430.0" cy="1120.7"/><circle cx="423.6" cy="1118.0"/><circle cx="423.4" cy="1130.2"/><circle cx="421.8" cy="1121.8"/><circle cx="430.3" cy="1115.5"/><circle cx="430.9" cy="1105.9"/><circle cx="439.4" cy="1105.3"/><circle cx="438.3" cy="1104.0"/><circle cx="438.4" cy="1109.4"/><circle cx="439.2" cy="1101.3"/><circle cx="445.6" cy="1086.9"/><circle cx="451.5" cy="1091.4"/><circle cx="445.7" cy="1107.3"/><circle cx="447.4" cy="1098.0"/><circle cx="456.6" cy="1105.5"/><circle cx="447.4" cy="1103.6"/><circle cx="444.7" cy="1088.4"/><circle cx="447.8" cy="1072.4"/><circle cx="446.3" cy="1074.5"/><circle cx="444.8" cy="1064.4"/><circle cx="434.6" cy="1070.1"/><circle cx="439.8" cy="1079.9"/><circle cx="352.5" cy="1175.7"/><circle cx="358.8" cy="1170.4"/><circle cx="355.5" cy="1169.7"/><circle cx="359.5" cy="1171.5"/><circle cx="356.9" cy="1172.5"/><circle cx="356.0" cy="1171.4"/><circle cx="354.2" cy="1157.7"/><circle cx="354.5" cy="1165.1"/><circle cx="349.6" cy="1166.3"/><circle cx="353.5" cy="1160.8"/><circle cx="350.6" cy="1172.1"/><circle cx="354.2" cy="1170.3"/><circle cx="350.1" cy="1166.5"/><circle cx="342.9" cy="1165.1"/><circle cx="346.1" cy="1176.0"/><circle cx="342.0" cy="1171.6"/><circle cx="342.9" cy="1153.4"/><circle cx="345.7" cy="1157.1"/><circle cx="343.7" cy="1163.1"/><circle cx="347.1" cy="1164.3"/><circle cx="349.4" cy="1177.2"/><circle cx="347.3" cy="1177.0"/><circle cx="345.0" cy="1170.8"/><circle cx="343.3" cy="1176.0"/><circle cx="343.8" cy="1176.4"/><circle cx="351.3" cy="1172.4"/><circle cx="357.5" cy="1170.3"/><circle cx="363.2" cy="1166.2"/><circle cx="367.3" cy="1168.0"/><circle cx="364.6" cy="1170.6"/><circle cx="364.0" cy="1170.5"/><circle cx="369.7" cy="1160.6"/><circle cx="362.4" cy="1146.2"/><circle cx="360.4" cy="1140.7"/><circle cx="360.5" cy="1146.4"/><circle cx="368.1" cy="1145.5"/><circle cx="370.1" cy="1136.7"/><circle cx="372.6" cy="1149.8"/><circle cx="378.4" cy="1125.5"/><circle cx="382.3" cy="1140.7"/><circle cx="385.9" cy="1121.4"/><circle cx="384.6" cy="1128.9"/><circle cx="386.3" cy="1118.5"/><circle cx="382.5" cy="1132.1"/><circle cx="376.7" cy="1151.1"/><circle cx="376.8" cy="1154.3"/><circle cx="371.0" cy="1150.7"/><circle cx="374.0" cy="1133.5"/><circle cx="383.0" cy="1112.6"/><circle cx="377.7" cy="1116.6"/><circle cx="425.8" cy="1109.2"/><circle cx="428.3" cy="1117.8"/><circle cx="430.2" cy="1115.4"/><circle cx="434.9" cy="1114.8"/><circle cx="437.5" cy="1113.3"/><circle cx="446.1" cy="1107.2"/><circle cx="451.0" cy="1088.0"/><circle cx="447.7" cy="1094.6"/><circle cx="444.9" cy="1085.3"/><circle cx="441.3" cy="1092.8"/><circle cx="435.1" cy="1103.7"/><circle cx="439.6" cy="1078.7"/><circle cx="441.5" cy="1085.4"/><circle cx="436.1" cy="1094.5"/><circle cx="434.4" cy="1101.9"/><circle cx="437.8" cy="1104.3"/><circle cx="426.2" cy="1120.5"/><circle cx="433.8" cy="1102.5"/><circle cx="445.1" cy="1089.4"/><circle cx="439.1" cy="1079.9"/><circle cx="445.4" cy="1081.4"/><circle cx="442.5" cy="1077.6"/><circle cx="432.4" cy="1073.1"/><circle cx="426.0" cy="1079.8"/><circle cx="424.8" cy="1090.6"/><circle cx="425.6" cy="1088.2"/><circle cx="428.1" cy="1102.1"/><circle cx="426.3" cy="1105.0"/><circle cx="424.0" cy="1097.5"/><circle cx="419.9" cy="1094.9"/><circle cx="414.2" cy="1096.4"/><circle cx="412.5" cy="1101.1"/><circle cx="416.5" cy="1119.7"/><circle cx="414.4" cy="1119.6"/><circle cx="416.6" cy="1111.3"/><circle cx="421.2" cy="1115.7"/><circle cx="421.1" cy="1128.9"/><circle cx="418.1" cy="1128.5"/><circle cx="416.1" cy="1127.5"/><circle cx="410.1" cy="1130.8"/><circle cx="414.2" cy="1133.4"/><circle cx="418.5" cy="1135.5"/><circle cx="422.2" cy="1121.9"/><circle cx="420.5" cy="1104.5"/><circle cx="430.9" cy="1119.5"/><circle cx="430.5" cy="1114.6"/><circle cx="432.7" cy="1103.2"/><circle cx="438.1" cy="1118.0"/><circle cx="430.9" cy="1115.9"/><circle cx="436.0" cy="1118.5"/><circle cx="314.1" cy="1161.4"/><circle cx="315.0" cy="1167.7"/><circle cx="313.7" cy="1160.0"/><circle cx="318.5" cy="1149.6"/><circle cx="322.5" cy="1139.4"/><circle cx="330.4" cy="1135.0"/><circle cx="334.1" cy="1145.4"/><circle cx="329.9" cy="1160.5"/><circle cx="326.4" cy="1147.9"/><circle cx="329.5" cy="1151.8"/><circle cx="328.6" cy="1131.4"/><circle cx="328.4" cy="1133.9"/><circle cx="326.7" cy="1132.7"/><circle cx="319.0" cy="1142.4"/><circle cx="326.8" cy="1150.1"/><circle cx="325.2" cy="1145.3"/><circle cx="326.9" cy="1153.0"/><circle cx="330.0" cy="1141.2"/><circle cx="330.7" cy="1141.9"/><circle cx="336.9" cy="1148.3"/><circle cx="339.2" cy="1157.8"/><circle cx="337.5" cy="1172.3"/><circle cx="335.7" cy="1176.6"/><circle cx="339.6" cy="1166.7"/><circle cx="336.6" cy="1152.7"/><circle cx="337.3" cy="1151.8"/><circle cx="335.9" cy="1157.0"/><circle cx="326.8" cy="1161.9"/><circle cx="327.2" cy="1159.5"/><circle cx="330.6" cy="1172.4"/><circle cx="328.7" cy="1165.4"/><circle cx="326.0" cy="1167.6"/><circle cx="328.6" cy="1159.0"/><circle cx="332.9" cy="1147.8"/><circle cx="336.4" cy="1149.3"/><circle cx="338.4" cy="1167.3"/><circle cx="337.3" cy="1166.4"/><circle cx="339.4" cy="1173.1"/><circle cx="333.6" cy="1178.1"/><circle cx="330.4" cy="1184.8"/><circle cx="336.3" cy="1182.7"/><circle cx="335.8" cy="1181.4"/><circle cx="323.1" cy="1183.3"/><circle cx="325.5" cy="1183.6"/><circle cx="323.8" cy="1178.4"/><circle cx="323.0" cy="1184.2"/><circle cx="318.0" cy="1180.4"/><circle cx="319.2" cy="1185.3"/><circle cx="312.1" cy="1183.8"/><circle cx="317.5" cy="1170.6"/><circle cx="1114.2" cy="604.5"/><circle cx="1121.5" cy="587.5"/><circle cx="1120.0" cy="583.3"/><circle cx="1120.6" cy="572.8"/><circle cx="1114.2" cy="576.3"/><circle cx="1110.8" cy="585.6"/><circle cx="1109.5" cy="587.9"/><circle cx="1107.5" cy="594.7"/><circle cx="1112.6" cy="590.7"/><circle cx="1110.3" cy="596.1"/><circle cx="1110.7" cy="602.5"/><circle cx="1111.1" cy="602.9"/><circle cx="1114.5" cy="594.8"/><circle cx="1109.0" cy="601.8"/><circle cx="1108.1" cy="606.6"/><circle cx="1111.6" cy="606.5"/><circle cx="1109.0" cy="619.2"/><circle cx="1099.0" cy="621.5"/><circle cx="1093.5" cy="633.7"/><circle cx="1091.9" cy="633.4"/><circle cx="1094.5" cy="632.0"/><circle cx="1098.7" cy="628.1"/><circle cx="1099.4" cy="619.6"/><circle cx="1100.6" cy="616.7"/><circle cx="1091.0" cy="625.5"/><circle cx="1090.4" cy="631.9"/><circle cx="1093.1" cy="630.5"/><circle cx="1092.3" cy="632.9"/><circle cx="1093.2" cy="634.7"/><circle cx="1095.1" cy="628.4"/><circle cx="1099.3" cy="616.9"/><circle cx="1101.7" cy="626.5"/><circle cx="1107.7" cy="619.6"/><circle cx="1114.9" cy="619.4"/><circle cx="1117.8" cy="612.6"/><circle cx="1119.7" cy="614.5"/><circle cx="1110.7" cy="618.3"/><circle cx="1104.3" cy="610.5"/><circle cx="1105.2" cy="616.2"/><circle cx="1105.2" cy="605.6"/><circle cx="1099.6" cy="616.0"/><circle cx="1098.8" cy="618.8"/><circle cx="1097.6" cy="620.8"/><circle cx="1094.7" cy="618.1"/><circle cx="1088.7" cy="622.9"/><circle cx="1088.5" cy="631.8"/><circle cx="1098.6" cy="625.4"/><circle cx="1086.4" cy="625.7"/><circle cx="1092.2" cy="625.1"/><circle cx="1091.6" cy="618.7"/><circle cx="355.6" cy="1116.1"/><circle cx="357.5" cy="1115.2"/><circle cx="351.7" cy="1116.1"/><circle cx="345.5" cy="1121.9"/><circle cx="342.3" cy="1123.3"/><circle cx="342.1" cy="1126.6"/><circle cx="340.2" cy="1133.0"/><circle cx="340.9" cy="1124.6"/><circle cx="342.6" cy="1144.4"/><circle cx="339.1" cy="1148.7"/><circle cx="328.6" cy="1151.9"/><circle cx="329.0" cy="1152.5"/><circle cx="322.5" cy="1158.3"/><circle cx="323.2" cy="1150.0"/><circle cx="326.4" cy="1147.5"/><circle cx="326.5" cy="1143.8"/><circle cx="328.8" cy="1143.0"/><circle cx="333.8" cy="1143.6"/><circle cx="331.1" cy="1143.4"/><circle cx="335.1" cy="1137.6"/><circle cx="336.7" cy="1141.1"/><circle cx="335.9" cy="1130.6"/><circle cx="336.5" cy="1132.1"/><circle cx="337.1" cy="1125.1"/><circle cx="342.4" cy="1122.3"/><circle cx="339.6" cy="1128.5"/><circle cx="341.2" cy="1126.6"/><circle cx="336.9" cy="1147.4"/><circle cx="342.5" cy="1153.6"/><circle cx="348.5" cy="1155.9"/><circle cx="341.2" cy="1170.6"/><circle cx="346.5" cy="1172.7"/><circle cx="338.0" cy="1176.5"/><circle cx="344.0" cy="1169.4"/><circle cx="344.5" cy="1176.3"/><circle cx="344.2" cy="1172.5"/><circle cx="344.5" cy="1178.7"/><circle cx="344.9" cy="1164.8"/><circle cx="340.6" cy="1166.4"/><circle cx="341.8" cy="1177.8"/><circle cx="346.7" cy="1165.2"/><circle cx="349.1" cy="1158.4"/><circle cx="349.2" cy="1140.1"/><circle cx="348.4" cy="1149.2"/><circle cx="339.0" cy="1156.3"/><circle cx="342.6" cy="1166.5"/><circle cx="338.5" cy="1162.6"/><circle cx="330.4" cy="1158.1"/><circle cx="332.7" cy="1174.7"/><circle cx="327.7" cy="1183.9"/><circle cx="527.6" cy="1043.8"/><circle cx="529.8" cy="1043.0"/><circle cx="530.4" cy="1042.3"/><circle cx="532.6" cy="1037.5"/><circle cx="532.4" cy="1033.0"/><circle cx="535.7" cy="1044.1"/><circle cx="539.2" cy="1041.8"/><circle cx="545.4" cy="1029.1"/><circle cx="554.6" cy="1003.3"/><circle cx="557.8" cy="1002.5"/><circle cx="559.6" cy="986.5"/><circle cx="564.8" cy="985.7"/><circle cx="565.3" cy="995.7"/><circle cx="566.1" cy="996.4"/><circle cx="570.0" cy="993.1"/><circle cx="571.6" cy="988.5"/><circle cx="569.2" cy="990.6"/><circle cx="566.7" cy="995.1"/><circle cx="565.7" cy="990.7"/><circle cx="565.3" cy="979.4"/><circle cx="568.5" cy="983.1"/><circle cx="558.4" cy="990.7"/><circle cx="556.6" cy="997.6"/><circle cx="565.7" cy="987.0"/><circle cx="565.3" cy="979.5"/><circle cx="566.8" cy="985.3"/><circle cx="568.0" cy="985.7"/><circle cx="563.4" cy="988.4"/><circle cx="559.4" cy="987.9"/><circle cx="566.3" cy="984.1"/><circle cx="563.1" cy="976.2"/><circle cx="556.5" cy="976.0"/><circle cx="565.6" cy="967.6"/><circle cx="564.7" cy="967.3"/><circle cx="562.7" cy="978.1"/><circle cx="567.1" cy="973.4"/><circle cx="563.6" cy="982.5"/><circle cx="573.7" cy="1002.9"/><circle cx="579.8" cy="998.8"/><circle cx="582.9" cy="993.2"/><circle cx="579.5" cy="989.6"/><circle cx="579.7" cy="995.9"/><circle cx="586.1" cy="1003.5"/><circle cx="588.2" cy="981.5"/><circle cx="594.8" cy="981.2"/><circle cx="591.9" cy="995.6"/><circle cx="588.2" cy="995.8"/><circle cx="588.3" cy="995.6"/><circle cx="588.1" cy="977.1"/><circle cx="582.1" cy="980.5"/><circle cx="591.9" cy="972.8"/><circle cx="590.8" cy="964.4"/><circle cx="584.7" cy="966.4"/><circle cx="583.0" cy="960.0"/><circle cx="579.1" cy="953.9"/><circle cx="580.1" cy="966.3"/><circle cx="579.2" cy="988.1"/><circle cx="572.1" cy="995.8"/><circle cx="567.1" cy="997.9"/><circle cx="567.5" cy="1002.9"/><circle cx="572.5" cy="994.0"/><circle cx="567.0" cy="996.2"/><circle cx="568.3" cy="988.5"/><circle cx="572.2" cy="1001.8"/><circle cx="566.0" cy="1009.9"/><circle cx="570.4" cy="988.2"/><circle cx="571.3" cy="985.4"/><circle cx="565.1" cy="1002.5"/><circle cx="566.1" cy="997.2"/><circle cx="568.0" cy="1002.0"/><circle cx="571.4" cy="1005.1"/><circle cx="573.2" cy="992.5"/><circle cx="571.3" cy="995.1"/><circle cx="559.2" cy="1024.6"/><circle cx="557.6" cy="1015.5"/><circle cx="549.6" cy="1023.9"/><circle cx="549.7" cy="1018.0"/><circle cx="547.9" cy="1010.6"/><circle cx="544.6" cy="1012.0"/><circle cx="541.8" cy="1020.8"/><circle cx="541.2" cy="1022.5"/><circle cx="543.0" cy="1033.9"/><circle cx="545.6" cy="1034.2"/><circle cx="544.9" cy="1026.7"/><circle cx="543.4" cy="1034.6"/><circle cx="544.4" cy="1030.0"/><circle cx="538.5" cy="1019.0"/><circle cx="540.0" cy="1028.3"/><circle cx="541.6" cy="1013.3"/><circle cx="540.7" cy="1016.2"/><circle cx="536.6" cy="1022.7"/><circle cx="535.8" cy="1014.9"/><circle cx="530.3" cy="1027.1"/><circle cx="531.9" cy="1017.0"/><circle cx="527.5" cy="1029.2"/><circle cx="530.1" cy="1024.2"/><circle cx="537.0" cy="1016.2"/><circle cx="532.4" cy="1030.6"/><circle cx="531.6" cy="1034.7"/><circle cx="531.8" cy="1024.5"/><circle cx="935.2" cy="750.7"/><circle cx="931.0" cy="747.4"/><circle cx="922.6" cy="757.8"/><circle cx="918.3" cy="766.5"/><circle cx="922.0" cy="757.2"/><circle cx="916.6" cy="761.5"/><circle cx="919.6" cy="746.4"/><circle cx="919.4" cy="736.6"/><circle cx="925.9" cy="735.5"/><circle cx="918.7" cy="735.3"/><circle cx="919.0" cy="730.2"/><circle cx="919.3" cy="733.8"/><circle cx="920.1" cy="729.0"/><circle cx="926.5" cy="732.9"/><circle cx="925.1" cy="732.6"/><circle cx="922.2" cy="720.7"/><circle cx="920.7" cy="722.2"/><circle cx="919.0" cy="714.0"/><circle cx="905.2" cy="731.8"/><circle cx="909.0" cy="722.7"/><circle cx="911.4" cy="727.6"/><circle cx="910.9" cy="727.9"/><circle cx="914.5" cy="724.5"/><circle cx="914.2" cy="733.2"/><circle cx="914.0" cy="752.6"/><circle cx="908.9" cy="752.3"/><circle cx="907.6" cy="754.7"/><circle cx="904.6" cy="774.9"/><circle cx="907.4" cy="755.1"/><circle cx="907.3" cy="761.6"/><circle cx="912.6" cy="761.7"/><circle cx="909.1" cy="771.8"/><circle cx="903.1" cy="776.8"/><circle cx="897.8" cy="776.0"/><circle cx="900.9" cy="770.8"/><circle cx="899.5" cy="770.8"/><circle cx="897.3" cy="782.9"/><circle cx="892.4" cy="783.4"/><circle cx="890.8" cy="787.0"/><circle cx="891.9" cy="779.0"/><circle cx="889.9" cy="764.4"/><circle cx="885.8" cy="762.0"/><circle cx="890.3" cy="754.7"/><circle cx="891.4" cy="751.6"/><circle cx="885.5" cy="761.4"/><circle cx="894.0" cy="760.5"/><circle cx="899.5" cy="762.1"/><circle cx="903.8" cy="778.4"/><circle cx="896.3" cy="777.2"/><circle cx="889.6" cy="781.9"/><circle cx="672.5" cy="896.3"/><circle cx="675.2" cy="891.4"/><circle cx="676.8" cy="892.5"/><circle cx="679.1" cy="898.3"/><circle cx="673.5" cy="909.1"/><circle cx="673.0" cy="928.5"/><circle cx="672.0" cy="924.6"/><circle cx="678.5" cy="924.6"/><circle cx="686.7" cy="922.9"/><circle cx="685.8" cy="929.7"/><circle cx="682.4" cy="928.4"/><circle cx="680.0" cy="928.3"/><circle cx="683.4" cy="921.7"/><circle cx="684.8" cy="916.4"/><circle cx="688.6" cy="890.2"/><circle cx="687.7" cy="892.3"/><circle cx="683.0" cy="904.3"/><circle cx="684.0" cy="914.5"/><circle cx="688.2" cy="916.9"/><circle cx="687.5" cy="908.2"/><circle cx="686.6" cy="905.0"/><circle cx="687.6" cy="900.2"/><circle cx="700.9" cy="876.9"/><circle cx="706.0" cy="869.2"/><circle cx="704.9" cy="877.9"/><circle cx="705.0" cy="867.6"/><circle cx="706.8" cy="864.6"/><circle cx="697.8" cy="872.8"/><circle cx="693.2" cy="877.7"/><circle cx="695.3" cy="878.7"/><circle cx="694.1" cy="898.1"/><circle cx="695.9" cy="891.5"/><circle cx="696.9" cy="889.7"/><circle cx="687.4" cy="883.3"/><circle cx="681.3" cy="905.3"/><circle cx="680.5" cy="903.5"/><circle cx="678.1" cy="913.6"/><circle cx="678.2" cy="928.0"/><circle cx="681.6" cy="934.9"/><circle cx="681.1" cy="936.7"/><circle cx="679.2" cy="936.6"/><circle cx="671.8" cy="937.2"/><circle cx="667.6" cy="934.6"/><circle cx="672.9" cy="933.0"/><circle cx="678.2" cy="936.4"/><circle cx="682.2" cy="931.6"/><circle cx="679.6" cy="937.1"/><circle cx="678.2" cy="933.7"/><circle cx="683.3" cy="923.7"/><circle cx="679.1" cy="936.6"/><circle cx="921.4" cy="727.4"/><circle cx="925.3" cy="732.2"/><circle cx="923.1" cy="732.7"/><circle cx="920.5" cy="735.9"/><circle cx="915.3" cy="737.2"/><circle cx="913.3" cy="743.5"/><circle cx="910.8" cy="749.1"/><circle cx="913.1" cy="752.5"/><circle cx="916.8" cy="741.5"/><circle cx="917.4" cy="740.0"/><circle cx="922.2" cy="732.4"/><circle cx="923.7" cy="718.8"/><circle cx="922.5" cy="713.1"/><circle cx="922.5" cy="707.4"/><circle cx="922.4" cy="709.9"/><circle cx="918.2" cy="720.7"/><circle cx="915.7" cy="742.4"/><circle cx="920.8" cy="745.2"/><circle cx="921.4" cy="758.0"/><circle cx="922.9" cy="741.7"/><circle cx="926.0" cy="742.3"/><circle cx="915.6" cy="733.6"/><circle cx="921.6" cy="732.5"/><circle cx="918.7" cy="717.9"/><circle cx="914.2" cy="736.3"/><circle cx="904.4" cy="748.8"/><circle cx="915.0" cy="742.4"/><circle cx="911.1" cy="750.5"/><circle cx="914.0" cy="752.2"/><circle cx="913.3" cy="738.2"/><circle cx="915.7" cy="743.7"/><circle cx="917.6" cy="747.3"/><circle cx="918.4" cy="755.4"/><circle cx="933.6" cy="739.3"/><circle cx="934.9" cy="727.1"/><circle cx="927.1" cy="733.2"/><circle cx="933.4" cy="719.3"/><circle cx="931.5" cy="715.7"/><circle cx="925.3" cy="706.8"/><circle cx="925.8" cy="704.4"/><circle cx="924.9" cy="711.9"/><circle cx="931.0" cy="729.4"/><circle cx="927.6" cy="717.3"/><circle cx="933.2" cy="727.3"/><circle cx="942.1" cy="711.9"/><circle cx="941.9" cy="692.6"/><circle cx="943.8" cy="699.4"/><circle cx="936.1" cy="713.0"/><circle cx="938.0" cy="695.4"/><circle cx="934.6" cy="722.9"/><circle cx="1530.8" cy="287.4"/><circle cx="1530.7" cy="298.5"/><circle cx="1531.1" cy="302.2"/><circle cx="1527.9" cy="305.3"/><circle cx="1518.1" cy="312.1"/><circle cx="1515.3" cy="304.5"/><circle cx="1509.2" cy="315.4"/><circle cx="1511.0" cy="304.6"/><circle cx="1518.9" cy="296.0"/><circle cx="1517.3" cy="298.3"/><circle cx="1512.3" cy="298.0"/><circle cx="1509.1" cy="307.4"/><circle cx="1513.2" cy="295.0"/><circle cx="1518.4" cy="292.6"/><circle cx="1520.6" cy="291.8"/><circle cx="1522.4" cy="293.7"/><circle cx="1518.5" cy="291.5"/><circle cx="1516.9" cy="296.1"/><circle cx="1511.6" cy="309.1"/><circle cx="1508.9" cy="306.8"/><circle cx="1511.9" cy="307.9"/><circle cx="1510.5" cy="301.9"/><circle cx="1506.1" cy="301.2"/><circle cx="1511.1" cy="305.6"/><circle cx="1519.1" cy="304.1"/><circle cx="1520.6" cy="307.8"/><circle cx="1524.7" cy="303.8"/><circle cx="1526.2" cy="315.3"/><circle cx="1518.9" cy="311.8"/><circle cx="1514.7" cy="319.2"/><circle cx="1519.9" cy="313.7"/><circle cx="1522.8" cy="311.6"/><circle cx="1524.1" cy="307.5"/><circle cx="1524.0" cy="307.6"/><circle cx="1528.8" cy="317.2"/><circle cx="1521.0" cy="326.1"/><circle cx="1521.0" cy="326.3"/><circle cx="1525.6" cy="323.8"/><circle cx="1529.1" cy="315.7"/><circle cx="1521.7" cy="326.1"/><circle cx="1526.9" cy="316.7"/><circle cx="1532.5" cy="316.5"/><circle cx="1521.9" cy="327.2"/><circle cx="1517.6" cy="325.8"/><circle cx="1514.7" cy="323.2"/><circle cx="1508.0" cy="326.5"/><circle cx="1512.4" cy="319.2"/><circle cx="1504.3" cy="338.8"/><circle cx="1512.3" cy="334.1"/><circle cx="1510.0" cy="328.0"/><circle cx="1267.1" cy="489.2"/><circle cx="1271.0" cy="487.1"/><circle cx="1278.2" cy="493.3"/><circle cx="1280.2" cy="489.4"/><circle cx="1275.2" cy="489.0"/><circle cx="1279.5" cy="487.2"/><circle cx="1279.4" cy="477.7"/><circle cx="1277.9" cy="490.1"/><circle cx="1276.4" cy="493.7"/><circle cx="1265.5" cy="500.0"/><circle cx="1260.7" cy="494.7"/><circle cx="1258.8" cy="490.8"/><circle cx="1265.6" cy="482.4"/><circle cx="1264.3" cy="478.7"/><circle cx="1267.4" cy="483.1"/><circle cx="1271.1" cy="469.5"/><circle cx="1269.7" cy="473.7"/><circle cx="1260.5" cy="480.7"/><circle cx="1264.4" cy="486.2"/><circle cx="1266.2" cy="489.5"/><circle cx="1269.8" cy="488.2"/><circle cx="1261.1" cy="507.1"/><circle cx="1263.9" cy="503.8"/><circle cx="1260.0" cy="499.5"/><circle cx="1261.2" cy="503.7"/><circle cx="1259.3" cy="506.6"/><circle cx="1259.0" cy="509.4"/><circle cx="1250.3" cy="509.9"/><circle cx="1249.9" cy="514.4"/><circle cx="1254.1" cy="507.1"/><circle cx="1257.4" cy="496.4"/><circle cx="1258.1" cy="490.3"/><circle cx="1262.5" cy="495.3"/><circle cx="1256.8" cy="501.8"/><circle cx="1253.2" cy="495.6"/><circle cx="1252.6" cy="502.1"/><circle cx="1257.3" cy="494.0"/><circle cx="1255.8" cy="504.1"/><circle cx="1255.4" cy="513.3"/><circle cx="1263.5" cy="505.5"/><circle cx="1259.6" cy="506.3"/><circle cx="1262.9" cy="501.6"/><circle cx="1263.0" cy="504.0"/><circle cx="1255.8" cy="506.9"/><circle cx="1253.8" cy="502.8"/><circle cx="1254.6" cy="499.2"/><circle cx="1252.3" cy="509.7"/><circle cx="1258.5" cy="502.5"/><circle cx="1255.8" cy="494.6"/><circle cx="1247.4" cy="511.2"/><circle cx="733.9" cy="858.0"/><circle cx="737.5" cy="871.9"/><circle cx="732.1" cy="873.6"/><circle cx="727.5" cy="860.4"/><circle cx="730.2" cy="864.4"/><circle cx="734.4" cy="865.0"/><circle cx="725.7" cy="871.1"/><circle cx="722.7" cy="863.2"/><circle cx="717.9" cy="873.2"/><circle cx="716.6" cy="891.0"/><circle cx="718.7" cy="873.2"/><circle cx="722.6" cy="881.0"/><circle cx="722.7" cy="870.5"/><circle cx="730.4" cy="853.7"/><circle cx="730.1" cy="856.1"/><circle cx="724.6" cy="856.2"/><circle cx="729.3" cy="862.8"/><circle cx="727.6" cy="852.5"/><circle cx="727.3" cy="855.9"/><circle cx="720.6" cy="856.7"/><circle cx="720.2" cy="863.0"/><circle cx="720.5" cy="866.6"/><circle cx="715.1" cy="866.4"/><circle cx="716.4" cy="857.5"/><circle cx="715.9" cy="859.8"/><circle cx="718.0" cy="859.8"/><circle cx="724.3" cy="855.4"/><circle cx="726.6" cy="859.2"/><circle cx="731.2" cy="859.3"/><circle cx="723.5" cy="859.5"/><circle cx="731.7" cy="857.6"/><circle cx="734.1" cy="859.8"/><circle cx="731.3" cy="856.1"/><circle cx="728.5" cy="868.1"/><circle cx="730.1" cy="882.2"/><circle cx="732.3" cy="896.9"/><circle cx="734.3" cy="885.3"/><circle cx="741.9" cy="882.7"/><circle cx="747.2" cy="880.8"/><circle cx="745.7" cy="883.3"/><circle cx="740.8" cy="876.6"/><circle cx="736.9" cy="874.8"/><circle cx="730.9" cy="878.2"/><circle cx="732.2" cy="894.7"/><circle cx="740.4" cy="888.5"/><circle cx="744.2" cy="883.8"/><circle cx="746.0" cy="882.3"/><circle cx="743.6" cy="884.6"/><circle cx="737.1" cy="893.1"/><circle cx="735.8" cy="884.7"/><circle cx="370.0" cy="1135.3"/><circle cx="369.5" cy="1122.5"/><circle cx="366.7" cy="1127.0"/><circle cx="365.9" cy="1120.7"/><circle cx="365.3" cy="1134.7"/><circle cx="361.7" cy="1110.0"/><circle cx="361.5" cy="1129.5"/><circle cx="367.8" cy="1117.3"/><circle cx="367.5" cy="1113.6"/><circle cx="367.7" cy="1115.2"/><circle cx="372.4" cy="1099.4"/><circle cx="370.0" cy="1106.7"/><circle cx="368.4" cy="1112.9"/><circle cx="359.0" cy="1122.1"/><circle cx="358.6" cy="1125.3"/><circle cx="360.5" cy="1132.7"/><circle cx="367.0" cy="1117.2"/><circle cx="365.0" cy="1119.9"/><circle cx="367.0" cy="1122.5"/><circle cx="367.9" cy="1109.9"/><circle cx="377.8" cy="1101.5"/><circle cx="379.2" cy="1100.1"/><circle cx="380.2" cy="1094.0"/><circle cx="384.7" cy="1100.0"/><circle cx="381.6" cy="1101.9"/><circle cx="381.6" cy="1104.3"/><circle cx="387.5" cy="1090.1"/><circle cx="399.4" cy="1087.8"/><circle cx="392.7" cy="1100.0"/><circle cx="386.6" cy="1118.5"/><circle cx="387.9" cy="1112.4"/><circle cx="391.0" cy="1110.7"/><circle cx="387.2" cy="1107.8"/><circle cx="395.7" cy="1102.8"/><circle cx="396.8" cy="1089.5"/><circle cx="405.8" cy="1089.2"/><circle cx="404.2" cy="1089.5"/><circle cx="401.4" cy="1105.9"/><circle cx="405.3" cy="1094.3"/><circle cx="403.3" cy="1089.8"/><circle cx="403.7" cy="1114.3"/><circle cx="402.1" cy="1119.1"/><circle cx="400.2" cy="1117.3"/><circle cx="401.7" cy="1128.2"/><circle cx="396.2" cy="1124.0"/><circle cx="394.9" cy="1113.1"/><circle cx="401.5" cy="1115.7"/><circle cx="406.3" cy="1116.4"/><circle cx="400.9" cy="1130.5"/><circle cx="400.1" cy="1122.8"/><circle cx="1197.0" cy="551.0"/><circle cx="1195.7" cy="550.6"/><circle cx="1196.7" cy="554.5"/><circle cx="1197.3" cy="560.8"/><circle cx="1199.2" cy="546.8"/><circle cx="1194.3" cy="542.3"/><circle cx="1196.3" cy="541.5"/><circle cx="1204.3" cy="533.5"/><circle cx="1205.6" cy="532.9"/><circle cx="1206.3" cy="548.0"/><circle cx="1207.5" cy="550.0"/><circle cx="1213.3" cy="541.3"/><circle cx="1216.4" cy="536.3"/><circle cx="1216.9" cy="537.0"/><circle cx="1217.0" cy="533.8"/><circle cx="1223.9" cy="526.6"/><circle cx="1227.1" cy="535.0"/><circle cx="1229.9" cy="531.2"/><circle cx="1236.1" cy="527.3"/><circle cx="1243.8" cy="512.2"/><circle cx="1252.6" cy="505.0"/><circle cx="1244.7" cy="507.6"/><circle cx="1238.5" cy="512.3"/><circle cx="1231.8" cy="511.1"/><circle cx="1233.2" cy="511.1"/><circle cx="1229.6" cy="512.3"/><circle cx="1229.1" cy="513.1"/><circle cx="1229.1" cy="511.7"/><circle cx="1233.0" cy="498.4"/><circle cx="1230.8" cy="500.9"/><circle cx="1229.0" cy="498.7"/><circle cx="1227.1" cy="501.5"/><circle cx="1232.7" cy="496.2"/><circle cx="1231.5" cy="499.3"/><circle cx="1230.4" cy="501.4"/><circle cx="1231.6" cy="498.1"/><circle cx="1229.0" cy="504.1"/><circle cx="1229.2" cy="500.3"/><circle cx="1219.4" cy="509.0"/><circle cx="1219.5" cy="508.1"/><circle cx="1221.5" cy="508.1"/><circle cx="1219.3" cy="503.9"/><circle cx="1214.4" cy="506.6"/><circle cx="1209.3" cy="515.5"/><circle cx="1203.3" cy="521.1"/><circle cx="1202.4" cy="520.4"/><circle cx="1209.7" cy="511.1"/><circle cx="1209.5" cy="510.2"/><circle cx="1205.8" cy="524.2"/><circle cx="1197.5" cy="536.5"/><circle cx="707.7" cy="881.0"/><circle cx="706.4" cy="889.7"/><circle cx="705.5" cy="893.9"/><circle cx="693.6" cy="911.2"/><circle cx="687.7" cy="898.7"/><circle cx="688.4" cy="881.5"/><circle cx="695.9" cy="875.5"/><circle cx="695.4" cy="882.5"/><circle cx="694.6" cy="884.0"/><circle cx="695.7" cy="901.4"/><circle cx="699.3" cy="895.1"/><circle cx="700.2" cy="879.3"/><circle cx="706.4" cy="864.8"/><circle cx="704.3" cy="865.8"/><circle cx="706.1" cy="871.0"/><circle cx="703.1" cy="867.2"/><circle cx="691.8" cy="879.5"/><circle cx="694.7" cy="886.6"/><circle cx="691.4" cy="880.1"/><circle cx="695.7" cy="873.6"/><circle cx="701.5" cy="873.0"/><circle cx="703.4" cy="870.9"/><circle cx="704.3" cy="877.3"/><circle cx="704.9" cy="876.0"/><circle cx="704.5" cy="890.3"/><circle cx="707.3" cy="887.9"/><circle cx="700.9" cy="897.6"/><circle cx="698.2" cy="886.0"/><circle cx="698.3" cy="879.3"/><circle cx="698.2" cy="881.4"/><circle cx="697.1" cy="876.6"/><circle cx="696.4" cy="899.8"/><circle cx="692.7" cy="893.3"/><circle cx="689.3" cy="885.9"/><circle cx="688.0" cy="879.8"/><circle cx="689.6" cy="879.9"/><circle cx="693.8" cy="877.6"/><circle cx="695.2" cy="880.0"/><circle cx="683.3" cy="889.5"/><circle cx="682.0" cy="884.0"/><circle cx="682.3" cy="885.1"/><circle cx="685.4" cy="887.3"/><circle cx="679.6" cy="898.8"/><circle cx="672.8" cy="908.6"/><circle cx="681.4" cy="913.7"/><circle cx="676.8" cy="931.0"/><circle cx="685.1" cy="928.2"/><circle cx="686.4" cy="923.2"/><circle cx="688.5" cy="909.2"/><circle cx="688.4" cy="910.5"/><circle cx="688.4" cy="878.4"/><circle cx="686.9" cy="881.9"/><circle cx="688.1" cy="884.1"/><circle cx="692.5" cy="880.0"/><circle cx="689.2" cy="880.3"/><circle cx="689.4" cy="883.3"/><circle cx="698.2" cy="878.5"/><circle cx="706.1" cy="889.2"/><circle cx="701.4" cy="903.3"/><circle cx="706.5" cy="911.4"/><circle cx="706.4" cy="918.4"/><circle cx="704.3" cy="919.3"/><circle cx="704.4" cy="906.3"/><circle cx="703.4" cy="915.4"/><circle cx="703.7" cy="909.0"/><circle cx="704.8" cy="914.0"/><circle cx="701.6" cy="921.9"/><circle cx="698.4" cy="916.5"/><circle cx="699.4" cy="913.7"/><circle cx="695.0" cy="902.6"/><circle cx="695.1" cy="904.7"/><circle cx="693.0" cy="907.8"/><circle cx="686.1" cy="916.3"/><circle cx="688.0" cy="917.4"/><circle cx="685.3" cy="920.1"/><circle cx="685.8" cy="929.1"/><circle cx="687.1" cy="930.4"/><circle cx="683.8" cy="930.9"/><circle cx="689.1" cy="922.7"/><circle cx="692.0" cy="923.3"/><circle cx="691.8" cy="912.2"/><circle cx="699.6" cy="890.0"/><circle cx="701.0" cy="885.7"/><circle cx="706.1" cy="878.2"/><circle cx="706.3" cy="883.5"/><circle cx="708.4" cy="877.4"/><circle cx="711.4" cy="878.6"/><circle cx="715.9" cy="870.9"/><circle cx="715.6" cy="867.6"/><circle cx="711.9" cy="872.6"/><circle cx="713.7" cy="883.7"/><circle cx="712.3" cy="888.2"/><circle cx="717.4" cy="883.4"/><circle cx="717.7" cy="884.4"/><circle cx="714.6" cy="878.0"/><circle cx="719.6" cy="875.9"/><circle cx="719.2" cy="865.2"/><circle cx="719.8" cy="875.1"/><circle cx="714.6" cy="871.1"/><circle cx="719.6" cy="880.0"/><circle cx="1247.6" cy="516.5"/><circle cx="1248.9" cy="519.5"/><circle cx="1241.0" cy="518.1"/><circle cx="1243.8" cy="518.0"/><circle cx="1248.5" cy="515.7"/><circle cx="1250.3" cy="517.3"/><circle cx="1250.3" cy="509.0"/><circle cx="1254.5" cy="503.0"/><circle cx="1254.2" cy="502.3"/><circle cx="1257.3" cy="498.1"/><circle cx="1252.0" cy="503.9"/><circle cx="1256.9" cy="497.2"/><circle cx="1263.2" cy="491.2"/><circle cx="1265.0" cy="501.7"/><circle cx="1270.2" cy="481.6"/><circle cx="1267.1" cy="485.6"/><circle cx="1271.0" cy="480.8"/><circle cx="1267.5" cy="487.2"/><circle cx="1267.1" cy="486.4"/><circle cx="1265.2" cy="490.8"/><circle cx="1265.2" cy="490.7"/><circle cx="1262.5" cy="489.9"/><circle cx="1257.0" cy="497.1"/><circle cx="1256.4" cy="494.3"/><circle cx="1256.5" cy="497.4"/><circle cx="1259.0" cy="494.3"/><circle cx="1262.6" cy="497.1"/><circle cx="1254.4" cy="497.7"/><circle cx="1257.5" cy="496.7"/><circle cx="1260.4" cy="501.5"/><circle cx="1256.0" cy="507.2"/><circle cx="1261.1" cy="496.7"/><circle cx="1268.3" cy="477.8"/><circle cx="1267.0" cy="494.4"/><circle cx="1265.8" cy="496.7"/><circle cx="1267.6" cy="493.5"/><circle cx="1271.3" cy="490.9"/><circle cx="1268.4" cy="496.6"/><circle cx="1271.7" cy="488.8"/><circle cx="1263.1" cy="494.0"/><circle cx="1265.4" cy="483.1"/><circle cx="1263.1" cy="484.9"/><circle cx="1263.4" cy="494.1"/><circle cx="1256.5" cy="494.2"/><circle cx="1265.7" cy="476.1"/><circle cx="1266.4" cy="478.0"/><circle cx="1271.0" cy="468.6"/><circle cx="1273.9" cy="475.2"/><circle cx="1273.8" cy="480.2"/><circle cx="1270.1" cy="489.4"/><circle cx="377.8" cy="1138.6"/><circle cx="374.0" cy="1123.0"/><circle cx="379.1" cy="1120.6"/><circle cx="376.0" cy="1106.6"/><circle cx="374.3" cy="1102.2"/><circle cx="381.9" cy="1092.6"/><circle cx="382.4" cy="1104.4"/><circle cx="385.4" cy="1100.1"/><circle cx="375.7" cy="1122.4"/><circle cx="378.4" cy="1116.0"/><circle cx="378.0" cy="1105.6"/><circle cx="374.0" cy="1103.7"/><circle cx="376.2" cy="1107.9"/><circle cx="377.0" cy="1116.0"/><circle cx="379.4" cy="1115.9"/><circle cx="375.5" cy="1124.8"/><circle cx="380.7" cy="1128.8"/><circle cx="386.2" cy="1119.5"/><circle cx="381.9" cy="1136.9"/><circle cx="379.3" cy="1141.0"/><circle cx="378.5" cy="1141.7"/><circle cx="377.3" cy="1136.4"/><circle cx="369.4" cy="1161.0"/><circle cx="370.3" cy="1139.9"/><circle cx="366.3" cy="1130.3"/><circle cx="363.1" cy="1106.0"/><circle cx="365.6" cy="1121.3"/><circle cx="364.5" cy="1129.8"/><circle cx="367.2" cy="1115.0"/><circle cx="372.5" cy="1104.8"/><circle cx="370.0" cy="1102.8"/><circle cx="375.5" cy="1100.1"/><circle cx="375.0" cy="1102.7"/><circle cx="375.4" cy="1102.9"/><circle cx="378.6" cy="1116.1"/><circle cx="381.8" cy="1114.2"/><circle cx="381.2" cy="1132.7"/><circle cx="382.0" cy="1132.0"/><circle cx="389.9" cy="1143.7"/><circle cx="392.4" cy="1140.5"/><circle cx="389.7" cy="1154.6"/><circle cx="387.7" cy="1152.3"/><circle cx="384.2" cy="1156.1"/><circle cx="386.0" cy="1156.4"/><circle cx="387.0" cy="1159.9"/><circle cx="382.1" cy="1151.2"/><circle cx="381.4" cy="1156.8"/><circle cx="380.9" cy="1146.6"/><circle cx="378.0" cy="1148.4"/><circle cx="383.2" cy="1139.0"/><circle cx="294.8" cy="1184.4"/><circle cx="297.1" cy="1180.9"/><circle cx="302.1" cy="1184.1"/><circle cx="304.6" cy="1181.2"/><circle cx="305.4" cy="1185.2"/><circle cx="302.4" cy="1181.1"/><circle cx="304.3" cy="1184.1"/><circle cx="302.5" cy="1183.2"/><circle cx="300.3" cy="1180.0"/><circle cx="300.0" cy="1182.7"/><circle cx="299.8" cy="1181.7"/><circle cx="300.5" cy="1182.1"/><circle cx="298.3" cy="1183.7"/><circle cx="300.7" cy="1179.2"/><circle cx="298.3" cy="1184.2"/><circle cx="300.0" cy="1181.4"/><circle cx="303.3" cy="1182.3"/><circle cx="311.1" cy="1174.3"/><circle cx="309.6" cy="1181.7"/><circle cx="309.3" cy="1179.1"/><circle cx="307.8" cy="1177.7"/><circle cx="313.0" cy="1177.9"/><circle cx="319.0" cy="1180.8"/><circle cx="316.1" cy="1185.0"/><circle cx="310.7" cy="1183.7"/><circle cx="309.5" cy="1183.6"/><circle cx="309.9" cy="1179.6"/><circle cx="313.9" cy="1180.9"/><circle cx="310.5" cy="1183.4"/><circle cx="308.9" cy="1179.2"/><circle cx="306.8" cy="1181.7"/><circle cx="307.4" cy="1180.7"/><circle cx="297.6" cy="1180.5"/><circle cx="296.1" cy="1183.1"/><circle cx="293.7" cy="1185.5"/><circle cx="303.5" cy="1179.3"/><circle cx="307.0" cy="1183.9"/><circle cx="304.2" cy="1180.8"/><circle cx="311.0" cy="1182.7"/><circle cx="311.6" cy="1173.7"/><circle cx="315.5" cy="1175.8"/><circle cx="325.1" cy="1182.8"/><circle cx="328.6" cy="1183.5"/><circle cx="328.8" cy="1178.7"/><circle cx="330.2" cy="1180.2"/><circle cx="333.0" cy="1179.7"/><circle cx="334.4" cy="1174.4"/><circle cx="337.9" cy="1177.5"/><circle cx="334.3" cy="1182.8"/><circle cx="336.7" cy="1178.6"/><circle cx="437.8" cy="1056.4"/><circle cx="442.0" cy="1049.7"/><circle cx="447.9" cy="1046.0"/><circle cx="446.7" cy="1059.0"/><circle cx="445.1" cy="1048.9"/><circle cx="447.2" cy="1052.8"/><circle cx="449.2" cy="1050.0"/><circle cx="450.8" cy="1043.8"/><circle cx="450.8" cy="1052.3"/><circle cx="437.4" cy="1068.7"/><circle cx="442.6" cy="1082.5"/><circle cx="441.4" cy="1089.6"/><circle cx="441.3" cy="1079.5"/><circle cx="443.1" cy="1088.9"/><circle cx="447.0" cy="1065.9"/><circle cx="446.4" cy="1065.6"/><circle cx="446.9" cy="1050.0"/><circle cx="455.9" cy="1048.7"/><circle cx="451.8" cy="1070.7"/><circle cx="453.3" cy="1061.7"/><circle cx="450.4" cy="1071.8"/><circle cx="447.7" cy="1082.5"/><circle cx="450.2" cy="1085.8"/><circle cx="454.1" cy="1076.7"/><circle cx="448.0" cy="1063.7"/><circle cx="448.1" cy="1055.2"/><circle cx="455.2" cy="1040.5"/><circle cx="462.4" cy="1034.4"/><circle cx="462.6" cy="1052.8"/><circle cx="462.5" cy="1069.0"/><circle cx="456.2" cy="1088.1"/><circle cx="460.0" cy="1095.5"/><circle cx="455.7" cy="1098.9"/><circle cx="450.8" cy="1102.4"/><circle cx="456.1" cy="1079.7"/><circle cx="462.9" cy="1094.7"/><circle cx="462.7" cy="1078.3"/><circle cx="461.9" cy="1076.1"/><circle cx="465.7" cy="1063.1"/><circle cx="461.8" cy="1068.8"/><circle cx="463.4" cy="1048.7"/><circle cx="465.5" cy="1041.7"/><circle cx="463.7" cy="1050.0"/><circle cx="466.9" cy="1053.4"/><circle cx="474.8" cy="1050.9"/><circle cx="475.1" cy="1054.9"/><circle cx="481.8" cy="1057.4"/><circle cx="483.4" cy="1067.6"/><circle cx="476.8" cy="1083.9"/><circle cx="480.5" cy="1078.4"/><circle cx="1462.0" cy="339.3"/><circle cx="1458.5" cy="353.7"/><circle cx="1456.6" cy="353.5"/><circle cx="1449.4" cy="351.9"/><circle cx="1444.3" cy="354.5"/><circle cx="1436.3" cy="366.2"/><circle cx="1434.8" cy="364.0"/><circle cx="1432.0" cy="370.6"/><circle cx="1438.7" cy="362.8"/><circle cx="1445.7" cy="367.5"/><circle cx="1451.6" cy="365.9"/><circle cx="1445.1" cy="373.5"/><circle cx="1443.3" cy="375.5"/><circle cx="1435.1" cy="380.0"/><circle cx="1436.1" cy="373.8"/><circle cx="1437.4" cy="379.8"/><circle cx="1438.4" cy="375.0"/><circle cx="1448.8" cy="356.0"/><circle cx="1444.8" cy="360.9"/><circle cx="1442.2" cy="349.5"/><circle cx="1443.3" cy="353.4"/><circle cx="1439.9" cy="364.0"/><circle cx="1442.0" cy="369.4"/><circle cx="1435.4" cy="374.5"/><circle cx="1442.4" cy="374.2"/><circle cx="1448.1" cy="371.0"/><circle cx="1448.9" cy="366.9"/><circle cx="1453.7" cy="359.9"/><circle cx="1454.3" cy="347.1"/><circle cx="1447.7" cy="361.8"/><circle cx="1448.0" cy="362.9"/><circle cx="1438.3" cy="368.8"/><circle cx="1447.4" cy="354.3"/><circle cx="1437.0" cy="360.5"/><circle cx="1434.7" cy="361.2"/><circle cx="1429.2" cy="357.5"/><circle cx="1423.8" cy="365.5"/><circle cx="1423.6" cy="370.6"/><circle cx="1418.8" cy="378.1"/><circle cx="1416.9" cy="380.2"/><circle cx="1421.0" cy="377.1"/><circle cx="1419.4" cy="368.0"/><circle cx="1419.7" cy="372.6"/><circle cx="1417.0" cy="374.4"/><circle cx="1409.2" cy="371.8"/><circle cx="1411.0" cy="378.9"/><circle cx="1409.6" cy="369.1"/><circle cx="1407.9" cy="371.3"/><circle cx="1406.7" cy="384.9"/><circle cx="1408.0" cy="382.9"/><circle cx="871.8" cy="758.7"/><circle cx="870.7" cy="755.3"/><circle cx="864.5" cy="763.3"/><circle cx="868.5" cy="760.0"/><circle cx="868.9" cy="753.3"/><circle cx="869.7" cy="757.4"/><circle cx="864.4" cy="767.9"/><circle cx="863.6" cy="773.3"/><circle cx="863.9" cy="776.5"/><circle cx="865.3" cy="782.4"/><circle cx="862.5" cy="784.4"/><circle cx="857.7" cy="789.0"/><circle cx="862.8" cy="783.7"/><circle cx="867.5" cy="776.9"/><circle cx="869.5" cy="786.3"/><circle cx="871.1" cy="789.3"/><circle cx="877.4" cy="791.0"/><circle cx="881.9" cy="786.1"/><circle cx="879.0" cy="795.5"/><circle cx="874.9" cy="790.2"/><circle cx="872.9" cy="794.7"/><circle cx="876.7" cy="783.4"/><circle cx="885.5" cy="778.0"/><circle cx="884.9" cy="770.1"/><circle cx="878.0" cy="760.6"/><circle cx="874.1" cy="769.0"/><circle cx="872.4" cy="780.8"/><circle cx="868.6" cy="771.6"/><circle cx="870.9" cy="768.3"/><circle cx="865.1" cy="785.1"/><circle cx="866.6" cy="773.0"/><circle cx="864.8" cy="767.5"/><circle cx="870.2" cy="759.6"/><circle cx="867.8" cy="764.6"/><circle cx="875.0" cy="771.3"/><circle cx="875.3" cy="769.2"/><circle cx="873.1" cy="779.8"/><circle cx="868.8" cy="783.1"/><circle cx="872.1" cy="775.8"/><circle cx="862.0" cy="779.4"/><circle cx="858.7" cy="774.6"/><circle cx="856.5" cy="783.4"/><circle cx="850.4" cy="779.0"/><circle cx="850.1" cy="787.0"/><circle cx="846.8" cy="794.3"/><circle cx="851.6" cy="785.5"/><circle cx="851.0" cy="793.2"/><circle cx="852.1" cy="788.0"/><circle cx="851.8" cy="786.7"/><circle cx="852.3" cy="789.0"/><circle cx="480.8" cy="1039.2"/><circle cx="480.1" cy="1022.5"/><circle cx="489.3" cy="1027.5"/><circle cx="479.6" cy="1026.6"/><circle cx="488.3" cy="1033.7"/><circle cx="485.6" cy="1038.4"/><circle cx="485.5" cy="1017.8"/><circle cx="484.0" cy="1022.0"/><circle cx="489.2" cy="1024.3"/><circle cx="479.1" cy="1029.4"/><circle cx="480.6" cy="1029.2"/><circle cx="481.3" cy="1030.4"/><circle cx="479.6" cy="1026.3"/><circle cx="481.7" cy="1029.1"/><circle cx="484.2" cy="1040.7"/><circle cx="478.7" cy="1025.1"/><circle cx="470.7" cy="1054.0"/><circle cx="466.6" cy="1061.4"/><circle cx="466.5" cy="1069.4"/><circle cx="480.9" cy="1053.3"/><circle cx="480.2" cy="1047.3"/><circle cx="481.3" cy="1052.2"/><circle cx="476.9" cy="1069.7"/><circle cx="482.1" cy="1070.7"/><circle cx="481.6" cy="1068.5"/><circle cx="474.2" cy="1081.1"/><circle cx="469.8" cy="1078.9"/><circle cx="474.3" cy="1065.5"/><circle cx="471.9" cy="1076.7"/><circle cx="480.3" cy="1063.0"/><circle cx="485.2" cy="1052.2"/><circle cx="487.0" cy="1056.2"/><circle cx="481.9" cy="1071.1"/><circle cx="489.9" cy="1065.6"/><circle cx="491.2" cy="1052.1"/><circle cx="499.2" cy="1046.9"/><circle cx="493.5" cy="1059.3"/><circle cx="486.9" cy="1056.8"/><circle cx="477.3" cy="1078.8"/><circle cx="487.2" cy="1064.5"/><circle cx="484.3" cy="1060.4"/><circle cx="481.8" cy="1068.3"/><circle cx="488.3" cy="1052.6"/><circle cx="490.3" cy="1031.7"/><circle cx="497.1" cy="1025.9"/><circle cx="494.0" cy="1044.6"/><circle cx="493.5" cy="1059.6"/><circle cx="498.3" cy="1073.7"/><circle cx="494.8" cy="1077.0"/><circle cx="496.4" cy="1073.7"/><circle cx="1276.2" cy="457.5"/><circle cx="1281.2" cy="453.3"/><circle cx="1271.8" cy="468.4"/><circle cx="1278.4" cy="468.3"/><circle cx="1281.3" cy="469.4"/><circle cx="1288.2" cy="474.0"/><circle cx="1281.4" cy="482.2"/><circle cx="1281.1" cy="492.6"/><circle cx="1279.9" cy="490.9"/><circle cx="1272.8" cy="497.4"/><circle cx="1274.2" cy="491.3"/><circle cx="1273.5" cy="498.2"/><circle cx="1282.9" cy="483.2"/><circle cx="1287.6" cy="480.1"/><circle cx="1280.3" cy="479.5"/><circle cx="1280.5" cy="471.9"/><circle cx="1283.5" cy="464.8"/><circle cx="1288.3" cy="459.2"/><circle cx="1293.8" cy="463.3"/><circle cx="1298.0" cy="468.8"/><circle cx="1310.6" cy="467.6"/><circle cx="1303.5" cy="469.2"/><circle cx="1307.8" cy="473.7"/><circle cx="1305.4" cy="476.7"/><circle cx="1305.9" cy="474.7"/><circle cx="1304.0" cy="476.3"/><circle cx="1309.6" cy="461.0"/><circle cx="1314.5" cy="459.5"/><circle cx="1307.5" cy="466.1"/><circle cx="1307.0" cy="460.2"/><circle cx="1309.6" cy="456.7"/><circle cx="1315.0" cy="462.9"/><circle cx="1317.1" cy="464.7"/><circle cx="1313.0" cy="467.2"/><circle cx="1318.3" cy="461.7"/><circle cx="1310.6" cy="468.6"/><circle cx="1310.6" cy="465.2"/><circle cx="1312.3" cy="468.0"/><circle cx="1303.2" cy="461.7"/><circle cx="1304.1" cy="451.5"/><circle cx="1295.5" cy="454.4"/><circle cx="1293.5" cy="456.7"/><circle cx="1300.5" cy="445.8"/><circle cx="1297.4" cy="442.4"/><circle cx="1298.0" cy="449.6"/><circle cx="1303.1" cy="441.9"/><circle cx="1305.4" cy="438.4"/><circle cx="1303.1" cy="440.3"/><circle cx="1300.9" cy="444.1"/><circle cx="1304.2" cy="447.8"/><circle cx="628.6" cy="935.8"/><circle cx="626.4" cy="934.5"/><circle cx="629.6" cy="926.7"/><circle cx="641.9" cy="911.9"/><circle cx="645.7" cy="918.1"/><circle cx="650.0" cy="913.2"/><circle cx="646.3" cy="913.6"/><circle cx="649.3" cy="912.5"/><circle cx="651.9" cy="915.7"/><circle cx="647.9" cy="910.3"/><circle cx="654.4" cy="902.8"/><circle cx="647.3" cy="924.4"/><circle cx="643.5" cy="918.9"/><circle cx="647.9" cy="907.9"/><circle cx="643.9" cy="920.0"/><circle cx="640.3" cy="944.7"/><circle cx="640.7" cy="966.0"/><circle cx="641.3" cy="966.1"/><circle cx="638.4" cy="966.2"/><circle cx="636.2" cy="967.7"/><circle cx="639.6" cy="954.0"/><circle cx="635.5" cy="938.5"/><circle cx="642.3" cy="933.0"/><circle cx="642.2" cy="932.5"/><circle cx="646.7" cy="932.0"/><circle cx="650.5" cy="927.8"/><circle cx="650.0" cy="927.7"/><circle cx="641.6" cy="943.4"/><circle cx="634.5" cy="939.7"/><circle cx="637.5" cy="938.1"/><circle cx="641.2" cy="950.4"/><circle cx="649.6" cy="956.5"/><circle cx="648.5" cy="947.4"/><circle cx="644.6" cy="949.5"/><circle cx="649.1" cy="944.4"/><circle cx="648.5" cy="941.7"/><circle cx="654.6" cy="915.5"/><circle cx="660.4" cy="920.6"/><circle cx="660.0" cy="925.8"/><circle cx="655.7" cy="938.7"/><circle cx="669.4" cy="920.6"/><circle cx="675.7" cy="915.6"/><circle cx="674.2" cy="912.4"/><circle cx="673.3" cy="902.0"/><circle cx="667.2" cy="921.1"/><circle cx="667.2" cy="926.0"/><circle cx="668.5" cy="929.2"/><circle cx="661.7" cy="925.8"/><circle cx="664.5" cy="932.5"/><circle cx="659.4" cy="931.2"/><circle cx="1001.0" cy="653.0"/><circle cx="1001.6" cy="669.2"/><circle cx="1002.1" cy="687.4"/><circle cx="1002.2" cy="691.7"/><circle cx="997.8" cy="696.4"/><circle cx="993.8" cy="714.1"/><circle cx="995.0" cy="702.5"/><circle cx="997.5" cy="691.1"/><circle cx="987.3" cy="698.2"/><circle cx="985.1" cy="695.9"/><circle cx="986.8" cy="696.5"/><circle cx="985.8" cy="701.0"/><circle cx="983.0" cy="694.4"/><circle cx="981.1" cy="707.3"/><circle cx="984.2" cy="702.1"/><circle cx="986.3" cy="707.7"/><circle cx="981.9" cy="719.7"/><circle cx="980.6" cy="710.1"/><circle cx="981.3" cy="712.3"/><circle cx="987.6" cy="720.7"/><circle cx="986.0" cy="717.1"/><circle cx="984.9" cy="715.4"/><circle cx="980.8" cy="718.1"/><circle cx="986.7" cy="719.6"/><circle cx="985.6" cy="708.5"/><circle cx="988.9" cy="719.2"/><circle cx="982.9" cy="719.3"/><circle cx="991.0" cy="711.7"/><circle cx="994.2" cy="709.4"/><circle cx="991.8" cy="715.3"/><circle cx="997.6" cy="707.5"/><circle cx="1001.7" cy="704.0"/><circle cx="1001.0" cy="701.7"/><circle cx="1001.8" cy="708.8"/><circle cx="1000.0" cy="700.4"/><circle cx="1001.0" cy="702.8"/><circle cx="987.7" cy="704.6"/><circle cx="989.5" cy="701.0"/><circle cx="984.3" cy="704.7"/><circle cx="986.6" cy="717.3"/><circle cx="978.5" cy="724.1"/><circle cx="975.8" cy="710.8"/><circle cx="977.8" cy="698.5"/><circle cx="981.0" cy="705.3"/><circle cx="985.8" cy="712.9"/><circle cx="983.9" cy="701.6"/><circle cx="985.2" cy="700.1"/><circle cx="983.5" cy="683.4"/><circle cx="986.5" cy="687.2"/><circle cx="992.1" cy="687.6"/><circle cx="735.9" cy="891.2"/><circle cx="733.8" cy="881.6"/><circle cx="733.5" cy="882.2"/><circle cx="739.5" cy="885.5"/><circle cx="743.7" cy="873.2"/><circle cx="748.8" cy="884.1"/><circle cx="748.4" cy="880.3"/><circle cx="743.5" cy="891.6"/><circle cx="744.8" cy="890.7"/><circle cx="739.2" cy="881.5"/><circle cx="743.2" cy="878.5"/><circle cx="749.8" cy="865.6"/><circle cx="753.8" cy="854.4"/><circle cx="760.1" cy="847.7"/><circle cx="765.6" cy="840.5"/><circle cx="767.4" cy="848.8"/><circle cx="763.3" cy="852.4"/><circle cx="759.6" cy="862.3"/><circle cx="756.9" cy="861.0"/><circle cx="755.9" cy="871.5"/><circle cx="751.3" cy="874.6"/><circle cx="749.8" cy="871.0"/><circle cx="746.3" cy="872.1"/><circle cx="747.1" cy="858.1"/><circle cx="748.2" cy="847.2"/><circle cx="748.3" cy="866.8"/><circle cx="743.9" cy="869.2"/><circle cx="742.8" cy="878.6"/><circle cx="740.6" cy="864.5"/><circle cx="733.4" cy="871.0"/><circle cx="734.5" cy="879.6"/><circle cx="732.1" cy="887.2"/><circle cx="727.4" cy="902.1"/><circle cx="727.0" cy="896.4"/><circle cx="727.8" cy="895.9"/><circle cx="724.0" cy="887.8"/><circle cx="719.5" cy="880.9"/><circle cx="719.2" cy="884.2"/><circle cx="718.5" cy="886.5"/><circle cx="723.8" cy="880.0"/><circle cx="718.2" cy="864.0"/><circle cx="719.3" cy="857.3"/><circle cx="718.2" cy="861.7"/><circle cx="720.2" cy="861.7"/><circle cx="715.9" cy="865.5"/><circle cx="715.3" cy="876.1"/><circle cx="713.0" cy="859.6"/><circle cx="718.3" cy="869.6"/><circle cx="713.9" cy="876.2"/><circle cx="709.2" cy="901.6"/><circle cx="363.9" cy="1114.2"/><circle cx="359.6" cy="1134.8"/><circle cx="363.3" cy="1125.5"/><circle cx="366.0" cy="1141.0"/><circle cx="364.4" cy="1145.7"/><circle cx="368.4" cy="1136.9"/><circle cx="363.5" cy="1148.1"/><circle cx="363.5" cy="1150.3"/><circle cx="360.1" cy="1158.5"/><circle cx="364.5" cy="1157.1"/><circle cx="364.7" cy="1147.5"/><circle cx="362.1" cy="1135.6"/><circle cx="362.4" cy="1137.4"/><circle cx="359.6" cy="1126.3"/><circle cx="358.8" cy="1133.5"/><circle cx="364.8" cy="1111.4"/><circle cx="365.4" cy="1125.1"/><circle cx="361.9" cy="1123.1"/><circle cx="365.8" cy="1122.8"/><circle cx="362.0" cy="1113.9"/><circle cx="359.7" cy="1115.2"/><circle cx="360.6" cy="1123.3"/><circle cx="356.9" cy="1130.6"/><circle cx="358.8" cy="1126.5"/><circle cx="362.1" cy="1123.7"/><circle cx="364.2" cy="1116.1"/><circle cx="360.4" cy="1113.4"/><circle cx="368.2" cy="1112.5"/><circle cx="369.5" cy="1103.5"/><circle cx="370.4" cy="1110.5"/><circle cx="371.9" cy="1109.2"/><circle cx="369.5" cy="1116.1"/><circle cx="364.0" cy="1106.8"/><circle cx="367.1" cy="1112.7"/><circle cx="361.0" cy="1129.1"/><circle cx="363.7" cy="1132.4"/><circle cx="363.8" cy="1121.0"/><circle cx="365.8" cy="1119.5"/><circle cx="362.8" cy="1123.2"/><circle cx="364.8" cy="1122.0"/><circle cx="368.4" cy="1125.2"/><circle cx="363.5" cy="1133.4"/><circle cx="361.8" cy="1150.3"/><circle cx="349.2" cy="1154.0"/><circle cx="351.8" cy="1163.0"/><circle cx="347.4" cy="1165.5"/><circle cx="349.4" cy="1159.4"/><circle cx="352.5" cy="1151.3"/><circle cx="349.3" cy="1164.6"/><circle cx="345.9" cy="1163.2"/><circle cx="719.1" cy="883.6"/><circle cx="715.2" cy="884.9"/><circle cx="711.1" cy="902.9"/><circle cx="708.7" cy="912.5"/><circle cx="712.7" cy="907.2"/><circle cx="710.6" cy="911.9"/><circle cx="707.1" cy="903.3"/><circle cx="702.8" cy="909.4"/><circle cx="703.6" cy="918.1"/><circle cx="695.5" cy="925.8"/><circle cx="690.3" cy="922.1"/><circle cx="693.4" cy="920.9"/><circle cx="700.0" cy="912.9"/><circle cx="697.6" cy="905.4"/><circle cx="694.7" cy="908.5"/><circle cx="697.7" cy="917.5"/><circle cx="696.5" cy="912.0"/><circle cx="695.0" cy="909.4"/><circle cx="692.9" cy="907.4"/><circle cx="689.0" cy="909.8"/><circle cx="686.7" cy="909.9"/><circle cx="680.6" cy="915.7"/><circle cx="683.1" cy="919.5"/><circle cx="680.7" cy="911.3"/><circle cx="674.9" cy="905.3"/><circle cx="672.0" cy="904.7"/><circle cx="664.1" cy="916.3"/><circle cx="657.2" cy="915.3"/><circle cx="654.0" cy="924.9"/><circle cx="662.2" cy="915.9"/><circle cx="661.0" cy="913.3"/><circle cx="660.1" cy="912.5"/><circle cx="671.1" cy="895.0"/><circle cx="670.6" cy="892.0"/><circle cx="672.2" cy="891.8"/><circle cx="674.7" cy="893.9"/><circle cx="684.1" cy="888.9"/><circle cx="676.3" cy="900.7"/><circle cx="674.2" cy="892.2"/><circle cx="676.1" cy="886.2"/><circle cx="679.4" cy="888.5"/><circle cx="683.4" cy="886.9"/><circle cx="685.0" cy="887.1"/><circle cx="683.4" cy="885.2"/><circle cx="685.4" cy="889.9"/><circle cx="683.6" cy="910.7"/><circle cx="691.1" cy="895.2"/><circle cx="696.0" cy="891.1"/><circle cx="697.0" cy="883.5"/><circle cx="704.3" cy="871.0"/><circle cx="588.3" cy="947.2"/><circle cx="581.5" cy="964.1"/><circle cx="585.8" cy="972.8"/><circle cx="578.1" cy="982.0"/><circle cx="575.2" cy="985.8"/><circle cx="578.8" cy="981.2"/><circle cx="578.5" cy="963.1"/><circle cx="578.6" cy="978.0"/><circle cx="576.0" cy="984.0"/><circle cx="578.3" cy="1005.9"/><circle cx="574.7" cy="1017.1"/><circle cx="573.6" cy="1017.9"/><circle cx="573.8" cy="1001.6"/><circle cx="576.8" cy="993.0"/><circle cx="577.9" cy="1000.9"/><circle cx="577.1" cy="987.3"/><circle cx="572.6" cy="997.2"/><circle cx="578.3" cy="1010.9"/><circle cx="573.0" cy="1017.0"/><circle cx="573.7" cy="1010.1"/><circle cx="573.0" cy="1001.7"/><circle cx="573.7" cy="997.1"/><circle cx="572.7" cy="1011.6"/><circle cx="568.4" cy="1015.9"/><circle cx="565.6" cy="1014.7"/><circle cx="565.3" cy="1015.1"/><circle cx="566.4" cy="1007.1"/><circle cx="569.1" cy="994.2"/><circle cx="564.1" cy="989.6"/><circle cx="569.6" cy="997.8"/><circle cx="567.2" cy="1018.4"/><circle cx="568.8" cy="1002.8"/><circle cx="570.7" cy="991.8"/><circle cx="565.5" cy="973.8"/><circle cx="566.3" cy="977.5"/><circle cx="561.7" cy="986.9"/><circle cx="563.6" cy="991.2"/><circle cx="566.6" cy="981.9"/><circle cx="568.3" cy="985.7"/><circle cx="565.7" cy="984.5"/><circle cx="560.2" cy="990.3"/><circle cx="555.3" cy="998.2"/><circle cx="555.7" cy="996.3"/><circle cx="558.4" cy="991.6"/><circle cx="565.9" cy="990.3"/><circle cx="560.8" cy="988.7"/><circle cx="562.4" cy="1004.5"/><circle cx="559.9" cy="1021.4"/><circle cx="560.7" cy="1021.9"/><circle cx="558.1" cy="1016.1"/><circle cx="369.7" cy="1139.0"/><circle cx="362.8" cy="1137.5"/><circle cx="369.7" cy="1145.8"/><circle cx="370.7" cy="1142.7"/><circle cx="370.7" cy="1147.3"/><circle cx="370.7" cy="1152.0"/><circle cx="367.3" cy="1154.2"/><circle cx="365.7" cy="1166.2"/><circle cx="360.3" cy="1164.2"/><circle cx="359.9" cy="1159.3"/><circle cx="360.0" cy="1160.6"/><circle cx="359.0" cy="1165.4"/><circle cx="356.4" cy="1149.8"/><circle cx="359.5" cy="1147.9"/><circle cx="366.8" cy="1148.1"/><circle cx="358.0" cy="1165.2"/><circle cx="355.0" cy="1172.0"/><circle cx="364.8" cy="1163.0"/><circle cx="359.9" cy="1164.3"/><circle cx="352.9" cy="1174.1"/><circle cx="355.3" cy="1163.0"/><circle cx="357.3" cy="1171.5"/><circle cx="360.9" cy="1163.3"/><circle cx="357.8" cy="1153.5"/><circle cx="352.1" cy="1159.6"/><circle cx="352.3" cy="1172.2"/><circle cx="353.5" cy="1168.6"/><circle cx="347.2" cy="1170.5"/><circle cx="348.0" cy="1169.9"/><circle cx="343.5" cy="1162.3"/><circle cx="346.3" cy="1151.8"/><circle cx="348.9" cy="1156.5"/><circle cx="347.2" cy="1142.1"/><circle cx="349.0" cy="1154.5"/><circle cx="345.4" cy="1144.7"/><circle cx="350.2" cy="1143.3"/><circle cx="347.5" cy="1156.6"/><circle cx="346.2" cy="1161.6"/><circle cx="344.5" cy="1155.5"/><circle cx="345.4" cy="1147.1"/><circle cx="337.6" cy="1146.9"/><circle cx="343.1" cy="1153.8"/><circle cx="352.6" cy="1158.2"/><circle cx="359.8" cy="1157.3"/><circle cx="357.8" cy="1163.0"/><circle cx="353.7" cy="1172.2"/><circle cx="351.7" cy="1175.6"/><circle cx="347.9" cy="1176.0"/><circle cx="352.2" cy="1172.2"/><circle cx="349.3" cy="1176.2"/><circle cx="708.6" cy="890.5"/><circle cx="708.7" cy="883.3"/><circle cx="709.7" cy="884.2"/><circle cx="701.0" cy="896.1"/><circle cx="702.5" cy="904.2"/><circle cx="702.7" cy="896.9"/><circle cx="705.9" cy="903.4"/><circle cx="696.4" cy="919.7"/><circle cx="699.0" cy="913.8"/><circle cx="694.7" cy="913.6"/><circle cx="699.5" cy="912.1"/><circle cx="702.8" cy="905.9"/><circle cx="696.7" cy="903.2"/><circle cx="706.1" cy="904.1"/><circle cx="709.1" cy="906.6"/><circle cx="708.9" cy="905.1"/><circle cx="707.2" cy="909.5"/><circle cx="706.4" cy="910.4"/><circle cx="708.3" cy="914.1"/><circle cx="710.0" cy="914.7"/><circle cx="711.8" cy="907.0"/><circle cx="717.3" cy="907.0"/><circle cx="714.3" cy="912.5"/><circle cx="714.8" cy="897.1"/><circle cx="721.9" cy="896.1"/><circle cx="730.7" cy="901.0"/><circle cx="725.6" cy="899.1"/><circle cx="727.0" cy="895.0"/><circle cx="733.3" cy="895.7"/><circle cx="727.2" cy="892.8"/><circle cx="726.3" cy="903.6"/><circle cx="728.2" cy="895.6"/><circle cx="727.0" cy="900.4"/><circle cx="725.9" cy="902.0"/><circle cx="724.7" cy="899.9"/><circle cx="726.4" cy="888.9"/><circle cx="726.7" cy="893.0"/><circle cx="721.4" cy="896.3"/><circle cx="720.5" cy="888.6"/><circle cx="712.4" cy="904.2"/><circle cx="710.6" cy="902.1"/><circle cx="721.2" cy="877.6"/><circle cx="724.5" cy="872.9"/><circle cx="726.9" cy="860.0"/><circle cx="731.3" cy="886.0"/><circle cx="726.4" cy="876.7"/><circle cx="724.7" cy="876.7"/><circle cx="726.5" cy="871.2"/><circle cx="726.2" cy="883.6"/><circle cx="727.9" cy="891.6"/><circle cx="414.9" cy="1122.6"/><circle cx="410.9" cy="1111.6"/><circle cx="413.7" cy="1111.5"/><circle cx="418.0" cy="1105.4"/><circle cx="414.2" cy="1113.4"/><circle cx="411.7" cy="1097.6"/><circle cx="409.0" cy="1090.2"/><circle cx="404.1" cy="1088.1"/><circle cx="408.3" cy="1110.7"/><circle cx="415.9" cy="1100.7"/><circle cx="420.9" cy="1096.3"/><circle cx="422.7" cy="1087.9"/><circle cx="422.4" cy="1070.2"/><circle cx="430.3" cy="1056.7"/><circle cx="432.8" cy="1060.6"/><circle cx="434.0" cy="1060.3"/><circle cx="432.4" cy="1071.5"/><circle cx="435.0" cy="1057.3"/><circle cx="438.7" cy="1060.0"/><circle cx="440.0" cy="1064.8"/><circle cx="437.2" cy="1063.7"/><circle cx="436.1" cy="1069.0"/><circle cx="440.1" cy="1080.7"/><circle cx="441.5" cy="1101.2"/><circle cx="437.4" cy="1119.7"/><circle cx="436.2" cy="1116.0"/><circle cx="435.7" cy="1117.5"/><circle cx="431.6" cy="1124.9"/><circle cx="440.5" cy="1118.5"/><circle cx="440.4" cy="1118.8"/><circle cx="443.6" cy="1114.4"/><circle cx="443.6" cy="1116.8"/><circle cx="449.3" cy="1102.2"/><circle cx="444.7" cy="1099.2"/><circle cx="444.7" cy="1108.3"/><circle cx="449.0" cy="1103.1"/><circle cx="458.4" cy="1094.5"/><circle cx="464.5" cy="1096.8"/><circle cx="471.5" cy="1093.8"/><circle cx="474.1" cy="1076.2"/><circle cx="466.3" cy="1075.8"/><circle cx="469.4" cy="1084.8"/><circle cx="469.0" cy="1096.1"/><circle cx="471.5" cy="1081.0"/><circle cx="464.5" cy="1077.7"/><circle cx="460.3" cy="1070.1"/><circle cx="467.6" cy="1055.3"/><circle cx="463.9" cy="1053.9"/><circle cx="467.8" cy="1046.5"/><circle cx="471.0" cy="1050.1"/><circle cx="1498.4" cy="315.9"/><circle cx="1499.3" cy="307.7"/><circle cx="1491.9" cy="314.7"/><circle cx="1491.0" cy="318.5"/><circle cx="1485.1" cy="313.4"/><circle cx="1485.1" cy="324.5"/><circle cx="1487.0" cy="320.8"/><circle cx="1490.4" cy="325.1"/><circle cx="1484.9" cy="344.1"/><circle cx="1489.7" cy="341.1"/><circle cx="1491.4" cy="329.9"/><circle cx="1497.0" cy="343.5"/><circle cx="1497.8" cy="345.5"/><circle cx="1497.0" cy="346.5"/><circle cx="1492.4" cy="350.9"/><circle cx="1496.8" cy="345.4"/><circle cx="1501.4" cy="332.0"/><circle cx="1498.6" cy="331.2"/><circle cx="1496.8" cy="340.3"/><circle cx="1491.7" cy="350.6"/><circle cx="1487.7" cy="352.6"/><circle cx="1475.9" cy="344.2"/><circle cx="1477.1" cy="349.6"/><circle cx="1479.1" cy="348.7"/><circle cx="1483.5" cy="348.8"/><circle cx="1487.1" cy="337.0"/><circle cx="1495.5" cy="328.8"/><circle cx="1490.4" cy="326.9"/><circle cx="1494.8" cy="324.8"/><circle cx="1494.3" cy="335.3"/><circle cx="1499.5" cy="335.4"/><circle cx="1495.8" cy="344.0"/><circle cx="1494.1" cy="347.2"/><circle cx="1493.1" cy="334.7"/><circle cx="1491.3" cy="333.7"/><circle cx="1483.9" cy="329.6"/><circle cx="1491.5" cy="323.7"/><circle cx="1500.3" cy="322.5"/><circle cx="1498.5" cy="318.7"/><circle cx="1505.8" cy="308.0"/><circle cx="1508.5" cy="303.4"/><circle cx="1504.6" cy="302.4"/><circle cx="1502.5" cy="314.9"/><circle cx="1499.5" cy="312.4"/><circle cx="1489.5" cy="313.6"/><circle cx="1480.5" cy="313.6"/><circle cx="1467.6" cy="329.9"/><circle cx="1472.5" cy="327.9"/><circle cx="1465.7" cy="329.1"/><circle cx="1471.9" cy="322.9"/><circle cx="1112.2" cy="584.6"/><circle cx="1116.1" cy="582.6"/><circle cx="1117.3" cy="580.2"/><circle cx="1117.5" cy="578.3"/><circle cx="1112.7" cy="583.1"/><circle cx="1113.1" cy="589.8"/><circle cx="1114.1" cy="600.0"/><circle cx="1108.1" cy="602.6"/><circle cx="1105.3" cy="613.2"/><circle cx="1112.8" cy="604.1"/><circle cx="1116.1" cy="600.1"/><circle cx="1111.6" cy="602.6"/><circle cx="1107.1" cy="616.8"/><circle cx="1109.7" cy="622.9"/><circle cx="1111.2" cy="605.1"/><circle cx="1114.8" cy="603.2"/><circle cx="1104.3" cy="611.7"/><circle cx="1108.7" cy="620.2"/><circle cx="1104.2" cy="627.3"/><circle cx="1105.7" cy="625.0"/><circle cx="1104.4" cy="626.6"/><circle cx="1107.0" cy="623.0"/><circle cx="1105.2" cy="615.3"/><circle cx="1111.0" cy="619.7"/><circle cx="1108.5" cy="621.6"/><circle cx="1112.1" cy="606.8"/><circle cx="1114.3" cy="618.9"/><circle cx="1115.5" cy="613.2"/><circle cx="1124.5" cy="606.8"/><circle cx="1125.4" cy="603.4"/><circle cx="1126.2" cy="591.1"/><circle cx="1120.6" cy="585.2"/><circle cx="1124.6" cy="581.9"/><circle cx="1129.6" cy="567.0"/><circle cx="1127.0" cy="578.5"/><circle cx="1123.5" cy="571.9"/><circle cx="1120.2" cy="573.1"/><circle cx="1120.1" cy="581.8"/><circle cx="1126.0" cy="588.0"/><circle cx="1128.6" cy="583.0"/><circle cx="1126.4" cy="574.7"/><circle cx="1132.0" cy="579.2"/><circle cx="1132.4" cy="573.0"/><circle cx="1135.4" cy="574.2"/><circle cx="1136.1" cy="566.1"/><circle cx="1137.1" cy="561.6"/><circle cx="1140.4" cy="563.4"/><circle cx="1142.3" cy="559.2"/><circle cx="1149.1" cy="559.8"/><circle cx="1154.7" cy="561.5"/><circle cx="399.4" cy="1118.3"/><circle cx="398.3" cy="1120.0"/><circle cx="396.5" cy="1128.5"/><circle cx="398.2" cy="1109.7"/><circle cx="399.4" cy="1095.0"/><circle cx="398.7" cy="1089.9"/><circle cx="395.8" cy="1098.3"/><circle cx="394.4" cy="1117.8"/><circle cx="395.3" cy="1127.0"/><circle cx="393.4" cy="1150.8"/><circle cx="390.1" cy="1143.3"/><circle cx="382.8" cy="1160.1"/><circle cx="387.3" cy="1152.0"/><circle cx="379.1" cy="1148.2"/><circle cx="379.0" cy="1157.1"/><circle cx="383.2" cy="1162.8"/><circle cx="383.5" cy="1155.9"/><circle cx="371.0" cy="1161.4"/><circle cx="366.6" cy="1164.5"/><circle cx="371.7" cy="1142.7"/><circle cx="370.1" cy="1147.5"/><circle cx="365.2" cy="1136.7"/><circle cx="371.1" cy="1125.9"/><circle cx="369.2" cy="1139.3"/><circle cx="368.0" cy="1151.3"/><circle cx="358.3" cy="1160.7"/><circle cx="366.8" cy="1142.9"/><circle cx="355.3" cy="1152.8"/><circle cx="361.8" cy="1167.5"/><circle cx="356.0" cy="1154.0"/><circle cx="344.3" cy="1175.3"/><circle cx="352.9" cy="1174.6"/><circle cx="354.7" cy="1165.0"/><circle cx="356.2" cy="1158.1"/><circle cx="356.3" cy="1146.6"/><circle cx="353.7" cy="1151.5"/><circle cx="356.0" cy="1134.6"/><circle cx="366.5" cy="1143.9"/><circle cx="367.3" cy="1153.7"/><circle cx="362.2" cy="1163.2"/><circle cx="370.6" cy="1142.7"/><circle cx="367.7" cy="1136.6"/><circle cx="369.0" cy="1138.4"/><circle cx="363.1" cy="1140.0"/><circle cx="351.1" cy="1156.0"/><circle cx="347.5" cy="1162.5"/><circle cx="345.1" cy="1166.6"/><circle cx="350.7" cy="1159.0"/><circle cx="346.1" cy="1158.6"/><circle cx="346.1" cy="1167.0"/><circle cx="866.4" cy="801.7"/><circle cx="868.9" cy="801.7"/><circle cx="864.5" cy="795.8"/><circle cx="867.0" cy="790.1"/><circle cx="868.0" cy="780.4"/><circle cx="862.6" cy="781.9"/><circle cx="864.2" cy="781.5"/><circle cx="860.8" cy="773.0"/><circle cx="853.4" cy="791.1"/><circle cx="855.0" cy="783.7"/><circle cx="860.2" cy="784.1"/><circle cx="858.4" cy="780.5"/><circle cx="863.4" cy="779.4"/><circle cx="870.6" cy="777.1"/><circle cx="868.0" cy="774.0"/><circle cx="864.9" cy="778.4"/><circle cx="866.1" cy="782.5"/><circle cx="868.0" cy="772.5"/><circle cx="867.1" cy="765.5"/><circle cx="869.3" cy="753.0"/><circle cx="866.7" cy="755.3"/><circle cx="864.0" cy="755.4"/><circle cx="870.6" cy="749.0"/><circle cx="864.4" cy="755.5"/><circle cx="867.6" cy="757.4"/><circle cx="868.7" cy="772.9"/><circle cx="873.5" cy="770.0"/><circle cx="878.8" cy="754.6"/><circle cx="878.1" cy="747.9"/><circle cx="878.9" cy="761.0"/><circle cx="876.7" cy="776.1"/><circle cx="872.3" cy="791.2"/><circle cx="864.9" cy="789.4"/><circle cx="869.2" cy="785.5"/><circle cx="869.9" cy="785.0"/><circle cx="870.6" cy="782.9"/><circle cx="866.4" cy="783.6"/><circle cx="866.9" cy="775.9"/><circle cx="868.9" cy="788.9"/><circle cx="861.7" cy="789.6"/><circle cx="860.5" cy="790.6"/><circle cx="860.9" cy="784.5"/><circle cx="860.8" cy="784.6"/><circle cx="860.4" cy="797.2"/><circle cx="861.0" cy="785.0"/><circle cx="854.1" cy="794.6"/><circle cx="852.6" cy="790.9"/><circle cx="846.7" cy="792.9"/><circle cx="846.3" cy="788.0"/><circle cx="844.8" cy="795.8"/><circle cx="439.3" cy="1097.9"/><circle cx="439.1" cy="1092.5"/><circle cx="439.1" cy="1086.1"/><circle cx="441.9" cy="1088.9"/><circle cx="438.4" cy="1090.7"/><circle cx="446.3" cy="1067.2"/><circle cx="444.7" cy="1086.6"/><circle cx="442.8" cy="1074.5"/><circle cx="442.4" cy="1102.1"/><circle cx="443.1" cy="1101.1"/><circle cx="441.2" cy="1111.2"/><circle cx="442.7" cy="1113.6"/><circle cx="443.5" cy="1111.6"/><circle cx="445.5" cy="1101.8"/><circle cx="455.1" cy="1096.6"/><circle cx="454.7" cy="1104.5"/><circle cx="457.9" cy="1102.7"/><circle cx="459.9" cy="1102.9"/><circle cx="459.9" cy="1091.4"/><circle cx="456.3" cy="1097.2"/><circle cx="448.7" cy="1099.8"/><circle cx="448.0" cy="1090.2"/><circle cx="454.9" cy="1075.4"/><circle cx="450.2" cy="1074.1"/><circle cx="449.0" cy="1080.2"/><circle cx="453.7" cy="1066.7"/><circle cx="462.0" cy="1075.3"/><circle cx="462.9" cy="1072.8"/><circle cx="461.9" cy="1065.8"/><circle cx="453.6" cy="1067.1"/><circle cx="450.5" cy="1080.0"/><circle cx="449.0" cy="1074.8"/><circle cx="445.7" cy="1068.8"/><circle cx="448.5" cy="1065.9"/><circle cx="448.2" cy="1063.0"/><circle cx="447.9" cy="1068.8"/><circle cx="451.2" cy="1077.4"/><circle cx="454.8" cy="1092.3"/><circle cx="460.0" cy="1097.3"/><circle cx="461.5" cy="1091.7"/><circle cx="463.0" cy="1095.2"/><circle cx="452.8" cy="1107.7"/><circle cx="450.4" cy="1104.2"/><circle cx="454.4" cy="1098.5"/><circle cx="463.6" cy="1086.7"/><circle cx="465.4" cy="1098.6"/><circle cx="467.5" cy="1095.0"/><circle cx="472.0" cy="1076.3"/><circle cx="471.9" cy="1061.5"/><circle cx="481.1" cy="1070.8"/><circle cx="634.3" cy="968.8"/><circle cx="628.0" cy="971.8"/><circle cx="638.1" cy="968.2"/><circle cx="632.0" cy="963.7"/><circle cx="623.9" cy="972.6"/><circle cx="622.1" cy="977.4"/><circle cx="627.3" cy="975.2"/><circle cx="635.1" cy="964.8"/><circle cx="633.0" cy="958.0"/><circle cx="643.7" cy="946.7"/><circle cx="645.5" cy="944.4"/><circle cx="643.5" cy="932.3"/><circle cx="642.8" cy="931.8"/><circle cx="647.1" cy="924.3"/><circle cx="640.3" cy="920.2"/><circle cx="640.1" cy="922.5"/><circle cx="643.3" cy="916.9"/><circle cx="645.7" cy="916.4"/><circle cx="653.0" cy="910.6"/><circle cx="653.6" cy="914.9"/><circle cx="659.0" cy="903.2"/><circle cx="656.9" cy="902.4"/><circle cx="647.6" cy="920.2"/><circle cx="652.3" cy="917.0"/><circle cx="667.0" cy="917.1"/><circle cx="675.8" cy="924.0"/><circle cx="679.7" cy="909.1"/><circle cx="686.4" cy="907.8"/><circle cx="681.2" cy="912.0"/><circle cx="684.5" cy="918.0"/><circle cx="685.3" cy="913.0"/><circle cx="688.6" cy="904.1"/><circle cx="688.3" cy="910.8"/><circle cx="682.0" cy="918.6"/><circle cx="673.4" cy="916.9"/><circle cx="668.1" cy="920.1"/><circle cx="671.2" cy="917.4"/><circle cx="675.2" cy="915.3"/><circle cx="674.3" cy="920.1"/><circle cx="673.2" cy="922.0"/><circle cx="677.8" cy="913.9"/><circle cx="682.8" cy="900.8"/><circle cx="681.9" cy="886.8"/><circle cx="679.5" cy="902.0"/><circle cx="681.1" cy="911.6"/><circle cx="674.7" cy="907.7"/><circle cx="676.7" cy="913.3"/><circle cx="680.4" cy="896.4"/><circle cx="682.6" cy="894.2"/><circle cx="683.1" cy="897.8"/><circle cx="1261.7" cy="487.1"/><circle cx="1252.4" cy="490.1"/><circle cx="1248.5" cy="486.3"/><circle cx="1244.0" cy="485.9"/><circle cx="1244.3" cy="491.2"/><circle cx="1247.5" cy="493.5"/><circle cx="1243.3" cy="499.8"/><circle cx="1239.4" cy="500.6"/><circle cx="1235.7" cy="507.7"/><circle cx="1227.4" cy="526.6"/><circle cx="1228.1" cy="526.6"/><circle cx="1227.3" cy="520.9"/><circle cx="1221.6" cy="528.1"/><circle cx="1219.4" cy="533.5"/><circle cx="1228.5" cy="527.5"/><circle cx="1231.9" cy="522.8"/><circle cx="1228.0" cy="527.1"/><circle cx="1236.9" cy="524.9"/><circle cx="1238.6" cy="519.5"/><circle cx="1238.4" cy="527.2"/><circle cx="1239.8" cy="519.2"/><circle cx="1237.4" cy="524.2"/><circle cx="1240.0" cy="510.0"/><circle cx="1241.4" cy="506.5"/><circle cx="1230.6" cy="504.5"/><circle cx="1229.5" cy="498.3"/><circle cx="1230.5" cy="499.4"/><circle cx="1230.3" cy="497.1"/><circle cx="1232.7" cy="499.2"/><circle cx="1223.4" cy="508.5"/><circle cx="1229.0" cy="500.5"/><circle cx="1233.9" cy="501.9"/><circle cx="1230.9" cy="506.5"/><circle cx="1237.4" cy="497.1"/><circle cx="1239.8" cy="498.5"/><circle cx="1236.5" cy="507.9"/><circle cx="1234.4" cy="515.7"/><circle cx="1235.5" cy="511.1"/><circle cx="1234.7" cy="506.1"/><circle cx="1245.1" cy="492.9"/><circle cx="1242.2" cy="502.6"/><circle cx="1245.8" cy="504.1"/><circle cx="1241.2" cy="501.3"/><circle cx="1240.6" cy="503.2"/><circle cx="1244.7" cy="505.7"/><circle cx="1246.5" cy="509.0"/><circle cx="1239.4" cy="505.4"/><circle cx="1235.9" cy="507.5"/><circle cx="1232.9" cy="507.2"/><circle cx="1233.4" cy="503.2"/><circle cx="483.7" cy="1086.2"/><circle cx="485.8" cy="1079.3"/><circle cx="483.6" cy="1082.4"/><circle cx="483.9" cy="1071.2"/><circle cx="479.4" cy="1076.2"/><circle cx="480.9" cy="1051.9"/><circle cx="471.9" cy="1069.6"/><circle cx="471.8" cy="1090.9"/><circle cx="465.1" cy="1093.3"/><circle cx="462.5" cy="1101.2"/><circle cx="468.7" cy="1081.8"/><circle cx="464.2" cy="1098.3"/><circle cx="458.9" cy="1104.7"/><circle cx="459.7" cy="1098.4"/><circle cx="456.2" cy="1099.1"/><circle cx="455.9" cy="1099.1"/><circle cx="454.7" cy="1088.5"/><circle cx="457.9" cy="1089.8"/><circle cx="459.9" cy="1100.7"/><circle cx="456.1" cy="1100.5"/><circle cx="456.1" cy="1105.0"/><circle cx="455.3" cy="1100.2"/><circle cx="457.3" cy="1079.8"/><circle cx="454.3" cy="1060.1"/><circle cx="453.1" cy="1056.5"/><circle cx="455.7" cy="1056.5"/><circle cx="455.4" cy="1070.3"/><circle cx="458.0" cy="1055.2"/><circle cx="455.0" cy="1060.9"/><circle cx="462.4" cy="1053.4"/><circle cx="461.7" cy="1056.8"/><circle cx="465.1" cy="1053.3"/><circle cx="466.4" cy="1047.9"/><circle cx="464.0" cy="1041.2"/><circle cx="466.9" cy="1033.2"/><circle cx="469.3" cy="1035.8"/><circle cx="473.6" cy="1047.2"/><circle cx="469.3" cy="1037.2"/><circle cx="468.6" cy="1046.3"/><circle cx="479.7" cy="1054.7"/><circle cx="485.7" cy="1054.3"/><circle cx="484.0" cy="1061.2"/><circle cx="474.4" cy="1078.1"/><circle cx="474.5" cy="1084.6"/><circle cx="470.0" cy="1076.4"/><circle cx="467.1" cy="1078.0"/><circle cx="468.7" cy="1073.1"/><circle cx="470.2" cy="1079.2"/><circle cx="465.1" cy="1081.9"/><circle cx="458.3" cy="1081.1"/><circle cx="898.5" cy="726.3"/><circle cx="897.5" cy="731.8"/><circle cx="891.2" cy="735.5"/><circle cx="893.8" cy="739.0"/><circle cx="897.9" cy="727.6"/><circle cx="903.2" cy="732.4"/><circle cx="904.5" cy="722.1"/><circle cx="908.1" cy="730.7"/><circle cx="907.1" cy="736.2"/><circle cx="909.5" cy="742.7"/><circle cx="912.6" cy="747.3"/><circle cx="907.2" cy="747.4"/><circle cx="900.5" cy="761.9"/><circle cx="903.9" cy="763.9"/><circle cx="912.1" cy="750.2"/><circle cx="918.9" cy="737.3"/><circle cx="911.2" cy="739.3"/><circle cx="909.1" cy="738.7"/><circle cx="909.1" cy="743.1"/><circle cx="911.9" cy="735.0"/><circle cx="907.2" cy="745.1"/><circle cx="912.9" cy="749.8"/><circle cx="915.1" cy="731.5"/><circle cx="918.0" cy="723.5"/><circle cx="922.7" cy="733.1"/><circle cx="921.1" cy="725.4"/><circle cx="919.7" cy="731.2"/><circle cx="922.2" cy="719.8"/><circle cx="923.7" cy="710.2"/><circle cx="921.4" cy="722.7"/><circle cx="921.1" cy="711.6"/><circle cx="917.0" cy="727.0"/><circle cx="909.6" cy="743.5"/><circle cx="910.0" cy="731.0"/><circle cx="907.6" cy="738.7"/><circle cx="913.7" cy="722.5"/><circle cx="913.1" cy="726.8"/><circle cx="917.0" cy="747.5"/><circle cx="924.9" cy="746.2"/><circle cx="919.3" cy="748.0"/><circle cx="914.8" cy="748.7"/><circle cx="913.0" cy="748.6"/><circle cx="914.8" cy="745.0"/><circle cx="919.1" cy="753.1"/><circle cx="914.0" cy="743.1"/><circle cx="910.3" cy="725.0"/><circle cx="911.0" cy="725.0"/><circle cx="911.6" cy="741.2"/><circle cx="914.8" cy="748.6"/><circle cx="915.1" cy="742.8"/><circle cx="1459.9" cy="362.5"/><circle cx="1457.9" cy="359.0"/><circle cx="1459.3" cy="348.7"/><circle cx="1456.8" cy="360.0"/><circle cx="1448.8" cy="365.5"/><circle cx="1442.7" cy="376.3"/><circle cx="1440.8" cy="371.6"/><circle cx="1433.3" cy="373.7"/><circle cx="1422.1" cy="380.3"/><circle cx="1431.6" cy="372.9"/><circle cx="1430.5" cy="367.0"/><circle cx="1432.0" cy="363.1"/><circle cx="1428.2" cy="374.3"/><circle cx="1430.2" cy="367.4"/><circle cx="1436.7" cy="361.9"/><circle cx="1438.9" cy="360.9"/><circle cx="1444.0" cy="361.0"/><circle cx="1442.5" cy="366.0"/><circle cx="1440.8" cy="367.8"/><circle cx="1448.0" cy="357.3"/><circle cx="1443.5" cy="357.9"/><circle cx="1441.3" cy="366.6"/><circle cx="1434.3" cy="382.1"/><circle cx="1441.3" cy="373.8"/><circle cx="1442.1" cy="371.3"/><circle cx="1445.0" cy="373.5"/><circle cx="1448.3" cy="372.3"/><circle cx="1456.8" cy="366.7"/><circle cx="1459.9" cy="363.9"/><circle cx="1460.0" cy="365.2"/><circle cx="1459.8" cy="367.5"/><circle cx="1456.1" cy="368.5"/><circle cx="1453.4" cy="362.9"/><circle cx="1450.3" cy="361.7"/><circle cx="1449.7" cy="352.8"/><circle cx="1448.5" cy="346.8"/><circle cx="1445.0" cy="350.4"/><circle cx="1449.8" cy="348.8"/><circle cx="1447.7" cy="347.6"/><circle cx="1453.6" cy="333.8"/><circle cx="1458.6" cy="337.1"/><circle cx="1455.8" cy="339.3"/><circle cx="1454.8" cy="350.1"/><circle cx="1457.0" cy="348.5"/><circle cx="1461.2" cy="346.0"/><circle cx="1457.6" cy="355.3"/><circle cx="1464.2" cy="359.5"/><circle cx="1459.1" cy="363.0"/><circle cx="1457.2" cy="368.7"/><circle cx="1462.5" cy="352.6"/><circle cx="1358.6" cy="399.1"/><circle cx="1369.1" cy="393.2"/><circle cx="1372.5" cy="394.9"/><circle cx="1378.1" cy="391.1"/><circle cx="1381.4" cy="387.5"/><circle cx="1392.1" cy="382.8"/><circle cx="1391.6" cy="391.9"/><circle cx="1387.9" cy="401.5"/><circle cx="1397.8" cy="387.9"/><circle cx="1400.3" cy="382.5"/><circle cx="1400.7" cy="381.1"/><circle cx="1391.3" cy="395.7"/><circle cx="1391.2" cy="402.3"/><circle cx="1388.3" cy="401.9"/><circle cx="1386.6" cy="393.4"/><circle cx="1395.0" cy="396.3"/><circle cx="1401.2" cy="396.5"/><circle cx="1399.8" cy="400.6"/><circle cx="1413.6" cy="400.7"/><circle cx="1415.1" cy="392.5"/><circle cx="1418.4" cy="373.4"/><circle cx="1423.4" cy="366.0"/><circle cx="1422.5" cy="374.2"/><circle cx="1429.8" cy="367.2"/><circle cx="1425.6" cy="360.1"/><circle cx="1420.8" cy="368.2"/><circle cx="1422.5" cy="363.4"/><circle cx="1423.1" cy="361.8"/><circle cx="1417.4" cy="364.2"/><circle cx="1423.6" cy="370.8"/><circle cx="1420.9" cy="374.5"/><circle cx="1415.8" cy="383.2"/><circle cx="1415.5" cy="383.6"/><circle cx="1421.4" cy="384.2"/><circle cx="1423.7" cy="385.7"/><circle cx="1426.9" cy="371.6"/><circle cx="1429.0" cy="367.3"/><circle cx="1436.5" cy="361.6"/><circle cx="1433.0" cy="361.1"/><circle cx="1437.7" cy="358.1"/><circle cx="1438.2" cy="365.4"/><circle cx="1441.3" cy="362.7"/><circle cx="1447.4" cy="363.2"/><circle cx="1449.9" cy="364.4"/><circle cx="1437.7" cy="378.4"/><circle cx="1436.0" cy="380.0"/><circle cx="1433.3" cy="382.9"/><circle cx="1427.6" cy="386.1"/><circle cx="1424.0" cy="386.9"/><circle cx="1424.9" cy="388.8"/><circle cx="883.8" cy="789.1"/><circle cx="881.8" cy="783.0"/><circle cx="886.0" cy="789.0"/><circle cx="886.3" cy="778.6"/><circle cx="879.6" cy="785.6"/><circle cx="875.9" cy="782.3"/><circle cx="877.9" cy="790.0"/><circle cx="868.8" cy="790.5"/><circle cx="874.5" cy="786.2"/><circle cx="873.0" cy="792.7"/><circle cx="868.0" cy="785.9"/><circle cx="868.1" cy="798.9"/><circle cx="872.6" cy="795.8"/><circle cx="877.0" cy="789.3"/><circle cx="871.8" cy="778.7"/><circle cx="873.0" cy="785.4"/><circle cx="874.6" cy="784.0"/><circle cx="872.9" cy="794.5"/><circle cx="872.7" cy="782.4"/><circle cx="878.7" cy="772.4"/><circle cx="880.4" cy="771.2"/><circle cx="885.1" cy="770.0"/><circle cx="890.5" cy="768.0"/><circle cx="888.5" cy="764.9"/><circle cx="891.3" cy="755.3"/><circle cx="895.4" cy="750.1"/><circle cx="891.3" cy="745.3"/><circle cx="890.7" cy="761.7"/><circle cx="894.1" cy="759.4"/><circle cx="890.1" cy="779.4"/><circle cx="888.9" cy="780.3"/><circle cx="887.0" cy="789.7"/><circle cx="887.8" cy="785.2"/><circle cx="888.6" cy="775.7"/><circle cx="884.0" cy="777.5"/><circle cx="871.3" cy="796.4"/><circle cx="880.1" cy="780.8"/><circle cx="879.4" cy="767.6"/><circle cx="880.2" cy="768.9"/><circle cx="883.5" cy="754.7"/><circle cx="880.8" cy="751.1"/><circle cx="879.7" cy="771.9"/><circle cx="878.8" cy="772.2"/><circle cx="876.6" cy="780.7"/><circle cx="887.9" cy="783.0"/><circle cx="894.7" cy="768.6"/><circle cx="899.3" cy="765.5"/><circle cx="904.9" cy="771.5"/><circle cx="907.7" cy="753.7"/><circle cx="908.3" cy="748.6"/><circle cx="296.8" cy="1185.4"/><circle cx="297.7" cy="1185.0"/><circle cx="297.5" cy="1180.2"/><circle cx="290.9" cy="1181.2"/><circle cx="291.2" cy="1181.4"/><circle cx="301.6" cy="1171.7"/><circle cx="308.1" cy="1174.7"/><circle cx="308.7" cy="1181.5"/><circle cx="301.4" cy="1185.3"/><circle cx="299.2" cy="1180.2"/><circle cx="292.3" cy="1182.8"/><circle cx="292.7" cy="1183.4"/><circle cx="292.5" cy="1180.4"/><circle cx="295.4" cy="1174.3"/><circle cx="299.6" cy="1161.2"/><circle cx="295.5" cy="1160.1"/><circle cx="293.9" cy="1159.9"/><circle cx="297.1" cy="1161.8"/><circle cx="298.1" cy="1162.9"/><circle cx="296.6" cy="1153.3"/><circle cx="294.3" cy="1156.3"/><circle cx="292.8" cy="1166.6"/><circle cx="290.5" cy="1164.2"/><circle cx="286.3" cy="1163.7"/><circle cx="286.0" cy="1168.2"/><circle cx="290.2" cy="1157.4"/><circle cx="292.7" cy="1155.7"/><circle cx="292.3" cy="1165.3"/><circle cx="295.8" cy="1165.5"/><circle cx="290.8" cy="1166.3"/><circle cx="295.8" cy="1157.7"/><circle cx="291.9" cy="1158.3"/><circle cx="292.9" cy="1159.0"/><circle cx="305.5" cy="1151.1"/><circle cx="306.1" cy="1146.6"/><circle cx="308.5" cy="1148.8"/><circle cx="307.2" cy="1146.0"/><circle cx="312.4" cy="1143.9"/><circle cx="315.9" cy="1142.0"/><circle cx="313.6" cy="1147.2"/><circle cx="317.1" cy="1145.1"/><circle cx="317.3" cy="1152.4"/><circle cx="313.6" cy="1158.6"/><circle cx="313.2" cy="1160.3"/><circle cx="317.1" cy="1146.3"/><circle cx="316.7" cy="1146.6"/><circle cx="317.7" cy="1163.8"/><circle cx="314.8" cy="1167.0"/><circle cx="318.8" cy="1148.7"/><circle cx="322.6" cy="1153.3"/><circle cx="433.9" cy="1065.0"/><circle cx="429.5" cy="1057.3"/><circle cx="428.3" cy="1061.2"/><circle cx="436.8" cy="1057.1"/><circle cx="443.3" cy="1059.9"/><circle cx="450.1" cy="1063.8"/><circle cx="452.1" cy="1071.4"/><circle cx="454.8" cy="1090.4"/><circle cx="458.4" cy="1068.8"/><circle cx="450.6" cy="1092.1"/><circle cx="450.2" cy="1106.9"/><circle cx="448.7" cy="1100.9"/><circle cx="447.2" cy="1105.5"/><circle cx="448.0" cy="1098.0"/><circle cx="450.4" cy="1103.0"/><circle cx="446.4" cy="1093.8"/><circle cx="437.7" cy="1097.0"/><circle cx="437.7" cy="1089.2"/><circle cx="435.0" cy="1089.8"/><circle cx="435.2" cy="1096.0"/><circle cx="438.9" cy="1098.1"/><circle cx="443.8" cy="1083.6"/><circle cx="446.5" cy="1085.7"/><circle cx="441.9" cy="1081.7"/><circle cx="443.8" cy="1081.0"/><circle cx="438.3" cy="1079.1"/><circle cx="445.0" cy="1083.4"/><circle cx="445.4" cy="1098.0"/><circle cx="441.4" cy="1099.2"/><circle cx="445.6" cy="1092.2"/><circle cx="440.7" cy="1102.5"/><circle cx="447.8" cy="1069.1"/><circle cx="448.5" cy="1054.8"/><circle cx="447.1" cy="1048.3"/><circle cx="458.7" cy="1039.6"/><circle cx="458.9" cy="1040.4"/><circle cx="454.5" cy="1039.7"/><circle cx="455.4" cy="1058.3"/><circle cx="456.7" cy="1074.6"/><circle cx="451.9" cy="1078.8"/><circle cx="450.0" cy="1063.0"/><circle cx="466.6" cy="1048.5"/><circle cx="467.6" cy="1039.5"/><circle cx="465.1" cy="1033.3"/><circle cx="469.6" cy="1031.3"/><circle cx="469.0" cy="1033.7"/><circle cx="463.5" cy="1040.0"/><circle cx="462.8" cy="1045.4"/><circle cx="461.1" cy="1047.1"/><circle cx="463.4" cy="1056.0"/><circle cx="508.0" cy="1040.4"/><circle cx="513.7" cy="1037.8"/><circle cx="517.3" cy="1033.6"/><circle cx="515.0" cy="1042.7"/><circle cx="514.7" cy="1030.6"/><circle cx="514.8" cy="1029.5"/><circle cx="516.9" cy="1033.3"/><circle cx="513.8" cy="1043.3"/><circle cx="505.0" cy="1068.0"/><circle cx="499.6" cy="1071.2"/><circle cx="505.9" cy="1062.9"/><circle cx="498.9" cy="1057.0"/><circle cx="498.3" cy="1059.9"/><circle cx="503.6" cy="1052.5"/><circle cx="502.2" cy="1051.6"/><circle cx="502.0" cy="1041.4"/><circle cx="499.7" cy="1036.3"/><circle cx="503.5" cy="1028.6"/><circle cx="502.0" cy="1051.9"/><circle cx="502.6" cy="1059.8"/><circle cx="490.0" cy="1071.7"/><circle cx="492.3" cy="1074.8"/><circle cx="492.8" cy="1070.4"/><circle cx="486.1" cy="1083.9"/><circle cx="484.2" cy="1066.7"/><circle cx="491.2" cy="1076.6"/><circle cx="486.1" cy="1073.0"/><circle cx="476.8" cy="1084.1"/><circle cx="473.3" cy="1087.8"/><circle cx="476.4" cy="1087.9"/><circle cx="479.0" cy="1088.0"/><circle cx="483.1" cy="1074.8"/><circle cx="484.8" cy="1068.9"/><circle cx="479.8" cy="1074.1"/><circle cx="482.5" cy="1077.4"/><circle cx="488.8" cy="1064.5"/><circle cx="482.7" cy="1068.2"/><circle cx="489.8" cy="1042.4"/><circle cx="488.6" cy="1041.3"/><circle cx="490.5" cy="1035.3"/><circle cx="490.7" cy="1041.1"/><circle cx="484.7" cy="1044.2"/><circle cx="479.8" cy="1050.8"/><circle cx="484.4" cy="1060.9"/><circle cx="480.6" cy="1061.4"/><circle cx="485.9" cy="1035.4"/><circle cx="497.4" cy="1012.7"/><circle cx="501.5" cy="1014.3"/><circle cx="498.2" cy="1019.2"/><circle cx="497.8" cy="1021.4"/><circle cx="516.3" cy="1052.0"/><circle cx="520.3" cy="1056.1"/><circle cx="512.4" cy="1060.0"/><circle cx="513.8" cy="1060.1"/><circle cx="514.5" cy="1059.4"/><circle cx="513.0" cy="1057.5"/><circle cx="513.0" cy="1046.5"/><circle cx="515.9" cy="1041.0"/><circle cx="518.2" cy="1034.0"/><circle cx="520.0" cy="1034.0"/><circle cx="524.0" cy="1035.8"/><circle cx="528.1" cy="1031.1"/><circle cx="527.8" cy="1028.6"/><circle cx="522.3" cy="1031.4"/><circle cx="527.1" cy="1035.7"/><circle cx="523.3" cy="1041.6"/><circle cx="526.7" cy="1025.2"/><circle cx="528.2" cy="1027.4"/><circle cx="531.5" cy="1027.6"/><circle cx="523.8" cy="1012.6"/><circle cx="532.6" cy="1002.2"/><circle cx="538.3" cy="1011.0"/><circle cx="538.7" cy="999.1"/><circle cx="544.7" cy="994.5"/><circle cx="547.0" cy="997.7"/><circle cx="551.3" cy="1004.8"/><circle cx="545.0" cy="995.1"/><circle cx="545.6" cy="994.8"/><circle cx="549.0" cy="991.1"/><circle cx="548.2" cy="1011.9"/><circle cx="554.3" cy="1019.0"/><circle cx="558.9" cy="1007.8"/><circle cx="558.5" cy="1007.4"/><circle cx="553.7" cy="1002.3"/><circle cx="554.4" cy="989.8"/><circle cx="556.8" cy="992.8"/><circle cx="555.8" cy="990.2"/><circle cx="558.4" cy="993.0"/><circle cx="560.1" cy="979.9"/><circle cx="552.9" cy="1005.1"/><circle cx="550.0" cy="1003.6"/><circle cx="541.9" cy="1001.3"/><circle cx="538.6" cy="1011.7"/><circle cx="526.9" cy="1005.9"/><circle cx="525.1" cy="1002.2"/><circle cx="521.6" cy="1000.1"/><circle cx="514.6" cy="1007.8"/><circle cx="519.9" cy="1005.6"/><circle cx="517.6" cy="1020.3"/><circle cx="519.7" cy="1008.2"/><circle cx="657.6" cy="913.1"/><circle cx="658.9" cy="927.0"/><circle cx="654.6" cy="930.1"/><circle cx="654.4" cy="947.0"/><circle cx="663.1" cy="928.7"/><circle cx="663.1" cy="932.0"/><circle cx="662.4" cy="931.1"/><circle cx="666.6" cy="917.6"/><circle cx="664.1" cy="927.6"/><circle cx="663.0" cy="923.6"/><circle cx="657.8" cy="939.0"/><circle cx="655.3" cy="930.3"/><circle cx="657.8" cy="932.2"/><circle cx="657.8" cy="934.4"/><circle cx="654.0" cy="928.3"/><circle cx="659.1" cy="919.5"/><circle cx="663.5" cy="911.4"/><circle cx="659.9" cy="913.3"/><circle cx="649.6" cy="925.4"/><circle cx="649.3" cy="925.6"/><circle cx="647.5" cy="931.6"/><circle cx="643.7" cy="927.0"/><circle cx="633.5" cy="937.4"/><circle cx="633.6" cy="933.5"/><circle cx="640.5" cy="931.3"/><circle cx="635.1" cy="927.7"/><circle cx="633.9" cy="928.6"/><circle cx="625.8" cy="939.2"/><circle cx="624.7" cy="938.4"/><circle cx="631.6" cy="947.2"/><circle cx="629.0" cy="947.5"/><circle cx="626.3" cy="929.8"/><circle cx="630.6" cy="920.6"/><circle cx="631.2" cy="920.4"/><circle cx="623.3" cy="929.5"/><circle cx="621.9" cy="934.7"/><circle cx="626.6" cy="922.3"/><circle cx="628.2" cy="921.3"/><circle cx="617.8" cy="934.7"/><circle cx="611.0" cy="937.5"/><circle cx="615.6" cy="941.7"/><circle cx="617.3" cy="948.0"/><circle cx="620.3" cy="954.1"/><circle cx="626.6" cy="953.3"/><circle cx="620.7" cy="941.9"/><circle cx="620.9" cy="938.2"/><circle cx="624.7" cy="927.3"/><circle cx="629.5" cy="920.0"/><circle cx="635.6" cy="922.7"/><circle cx="641.6" cy="940.9"/><circle cx="1462.9" cy="354.4"/><circle cx="1461.6" cy="348.2"/><circle cx="1460.9" cy="355.3"/><circle cx="1460.2" cy="351.2"/><circle cx="1463.0" cy="355.8"/><circle cx="1462.1" cy="354.3"/><circle cx="1460.5" cy="363.5"/><circle cx="1459.7" cy="361.8"/><circle cx="1459.0" cy="364.7"/><circle cx="1450.0" cy="370.7"/><circle cx="1450.2" cy="368.6"/><circle cx="1448.4" cy="361.6"/><circle cx="1441.8" cy="366.4"/><circle cx="1439.0" cy="367.8"/><circle cx="1438.2" cy="365.6"/><circle cx="1435.0" cy="379.0"/><circle cx="1430.1" cy="380.4"/><circle cx="1428.8" cy="374.6"/><circle cx="1424.5" cy="383.4"/><circle cx="1428.7" cy="380.6"/><circle cx="1443.1" cy="373.9"/><circle cx="1448.5" cy="366.1"/><circle cx="1453.3" cy="369.7"/><circle cx="1451.7" cy="363.6"/><circle cx="1448.1" cy="358.9"/><circle cx="1447.9" cy="354.3"/><circle cx="1450.8" cy="345.8"/><circle cx="1451.1" cy="335.0"/><circle cx="1451.0" cy="341.4"/><circle cx="1449.8" cy="344.0"/><circle cx="1454.7" cy="334.0"/><circle cx="1449.1" cy="338.6"/><circle cx="1450.3" cy="336.1"/><circle cx="1446.0" cy="346.3"/><circle cx="1440.9" cy="348.4"/><circle cx="1440.7" cy="352.6"/><circle cx="1438.7" cy="349.4"/><circle cx="1447.7" cy="338.1"/><circle cx="1451.2" cy="334.6"/><circle cx="1449.1" cy="335.9"/><circle cx="1448.0" cy="338.6"/><circle cx="1436.7" cy="346.6"/><circle cx="1437.1" cy="348.6"/><circle cx="1435.4" cy="363.3"/><circle cx="1443.6" cy="361.0"/><circle cx="1444.6" cy="358.6"/><circle cx="1450.8" cy="352.1"/><circle cx="1447.2" cy="358.5"/><circle cx="1442.9" cy="356.6"/><circle cx="1449.3" cy="342.9"/><circle cx="285.3" cy="1185.3"/><circle cx="293.9" cy="1183.7"/><circle cx="288.7" cy="1184.6"/><circle cx="287.6" cy="1182.6"/><circle cx="287.4" cy="1181.5"/><circle cx="295.6" cy="1183.8"/><circle cx="298.4" cy="1163.6"/><circle cx="297.2" cy="1154.6"/><circle cx="300.9" cy="1159.7"/><circle cx="296.3" cy="1154.0"/><circle cx="298.1" cy="1159.4"/><circle cx="294.0" cy="1175.8"/><circle cx="294.7" cy="1168.9"/><circle cx="296.3" cy="1167.9"/><circle cx="300.0" cy="1168.3"/><circle cx="309.7" cy="1171.9"/><circle cx="306.9" cy="1179.8"/><circle cx="310.3" cy="1169.9"/><circle cx="307.0" cy="1165.4"/><circle cx="296.1" cy="1176.8"/><circle cx="295.2" cy="1183.0"/><circle cx="296.8" cy="1182.9"/><circle cx="298.2" cy="1180.5"/><circle cx="308.0" cy="1181.9"/><circle cx="314.0" cy="1185.4"/><circle cx="312.6" cy="1184.2"/><circle cx="305.9" cy="1183.3"/><circle cx="301.9" cy="1182.8"/><circle cx="299.8" cy="1183.1"/><circle cx="300.7" cy="1182.6"/><circle cx="296.4" cy="1185.5"/><circle cx="294.5" cy="1180.5"/><circle cx="293.0" cy="1183.9"/><circle cx="289.5" cy="1182.0"/><circle cx="287.1" cy="1184.1"/><circle cx="289.0" cy="1181.7"/><circle cx="286.3" cy="1185.2"/><circle cx="288.2" cy="1184.7"/><circle cx="290.9" cy="1183.8"/><circle cx="293.6" cy="1184.3"/><circle cx="294.7" cy="1181.9"/><circle cx="291.6" cy="1181.2"/><circle cx="289.5" cy="1182.3"/><circle cx="286.8" cy="1185.1"/><circle cx="290.4" cy="1180.4"/><circle cx="285.9" cy="1185.2"/><circle cx="287.3" cy="1181.4"/><circle cx="286.4" cy="1182.8"/><circle cx="286.3" cy="1185.0"/><circle cx="286.4" cy="1184.1"/><circle cx="1552.8" cy="301.3"/><circle cx="1555.1" cy="300.6"/><circle cx="1564.1" cy="294.4"/><circle cx="1559.5" cy="291.7"/><circle cx="1555.1" cy="296.0"/><circle cx="1558.6" cy="299.8"/><circle cx="1558.2" cy="302.8"/><circle cx="1562.3" cy="295.6"/><circle cx="1564.9" cy="291.1"/><circle cx="1561.7" cy="290.6"/><circle cx="1563.2" cy="286.6"/><circle cx="1559.8" cy="282.7"/><circle cx="1559.0" cy="285.1"/><circle cx="1553.5" cy="288.2"/><circle cx="1554.8" cy="284.3"/><circle cx="1556.3" cy="287.8"/><circle cx="1557.3" cy="283.6"/><circle cx="1556.6" cy="282.9"/><circle cx="1562.7" cy="284.2"/><circle cx="1560.5" cy="285.3"/><circle cx="1550.0" cy="292.6"/><circle cx="1545.6" cy="299.2"/><circle cx="1540.9" cy="304.7"/><circle cx="1549.8" cy="303.3"/><circle cx="1546.2" cy="302.7"/><circle cx="1545.6" cy="306.5"/><circle cx="1553.5" cy="298.3"/><circle cx="1549.0" cy="305.7"/><circle cx="1546.2" cy="305.9"/><circle cx="1553.4" cy="304.2"/><circle cx="1556.4" cy="306.0"/><circle cx="1557.3" cy="305.7"/><circle cx="1560.7" cy="299.6"/><circle cx="1550.2" cy="293.8"/><circle cx="1547.3" cy="289.5"/><circle cx="1558.6" cy="285.2"/><circle cx="1549.7" cy="290.2"/><circle cx="1557.9" cy="289.0"/><circle cx="1554.8" cy="291.1"/><circle cx="1553.4" cy="293.0"/><circle cx="1550.6" cy="292.5"/><circle cx="1549.8" cy="289.6"/><circle cx="1547.5" cy="283.6"/><circle cx="1544.9" cy="285.3"/><circle cx="1542.9" cy="294.3"/><circle cx="1535.3" cy="305.3"/><circle cx="1538.8" cy="295.0"/><circle cx="1536.0" cy="293.8"/><circle cx="1545.9" cy="281.0"/><circle cx="1549.8" cy="277.7"/><circle cx="1175.2" cy="564.2"/><circle cx="1168.9" cy="576.1"/><circle cx="1165.7" cy="571.0"/><circle cx="1166.5" cy="569.2"/><circle cx="1171.6" cy="566.5"/><circle cx="1178.6" cy="569.5"/><circle cx="1186.5" cy="569.7"/><circle cx="1186.9" cy="567.3"/><circle cx="1187.0" cy="556.7"/><circle cx="1181.9" cy="565.6"/><circle cx="1171.6" cy="567.0"/><circle cx="1166.0" cy="570.4"/><circle cx="1161.5" cy="575.1"/><circle cx="1160.7" cy="572.5"/><circle cx="1157.1" cy="560.0"/><circle cx="1157.4" cy="551.0"/><circle cx="1156.2" cy="554.4"/><circle cx="1160.9" cy="556.0"/><circle cx="1167.5" cy="541.9"/><circle cx="1170.5" cy="550.4"/><circle cx="1172.3" cy="541.7"/><circle cx="1174.1" cy="536.9"/><circle cx="1171.4" cy="546.1"/><circle cx="1170.6" cy="539.0"/><circle cx="1167.7" cy="554.3"/><circle cx="1164.1" cy="561.4"/><circle cx="1164.9" cy="568.7"/><circle cx="1163.8" cy="563.1"/><circle cx="1161.0" cy="558.1"/><circle cx="1172.5" cy="551.6"/><circle cx="1171.2" cy="561.0"/><circle cx="1174.1" cy="557.8"/><circle cx="1176.9" cy="557.8"/><circle cx="1181.9" cy="565.6"/><circle cx="1180.6" cy="566.3"/><circle cx="1179.9" cy="575.1"/><circle cx="1181.7" cy="569.1"/><circle cx="1185.7" cy="561.8"/><circle cx="1186.3" cy="570.6"/><circle cx="1190.5" cy="561.9"/><circle cx="1189.3" cy="560.4"/><circle cx="1185.6" cy="561.5"/><circle cx="1185.4" cy="552.0"/><circle cx="1190.6" cy="542.9"/><circle cx="1191.8" cy="546.0"/><circle cx="1189.4" cy="535.7"/><circle cx="1193.7" cy="535.2"/><circle cx="1192.7" cy="543.6"/><circle cx="1196.7" cy="534.2"/><circle cx="1196.4" cy="522.7"/><circle cx="557.7" cy="993.0"/><circle cx="556.3" cy="988.7"/><circle cx="557.7" cy="982.7"/><circle cx="554.3" cy="1003.0"/><circle cx="558.6" cy="999.1"/><circle cx="559.8" cy="997.4"/><circle cx="562.7" cy="993.5"/><circle cx="570.1" cy="991.9"/><circle cx="574.1" cy="1002.9"/><circle cx="576.4" cy="1001.4"/><circle cx="575.2" cy="1005.5"/><circle cx="571.1" cy="1010.1"/><circle cx="570.7" cy="999.0"/><circle cx="579.2" cy="988.8"/><circle cx="584.0" cy="1004.2"/><circle cx="588.5" cy="993.2"/><circle cx="585.8" cy="994.3"/><circle cx="584.5" cy="1001.4"/><circle cx="586.5" cy="1004.0"/><circle cx="583.1" cy="1000.3"/><circle cx="575.5" cy="997.8"/><circle cx="582.9" cy="1002.1"/><circle cx="576.6" cy="1006.2"/><circle cx="577.1" cy="1009.9"/><circle cx="571.1" cy="1016.6"/><circle cx="569.0" cy="1015.5"/><circle cx="566.7" cy="1013.6"/><circle cx="573.0" cy="1010.3"/><circle cx="566.2" cy="1011.0"/><circle cx="563.7" cy="1022.7"/><circle cx="556.3" cy="1030.7"/><circle cx="561.1" cy="1022.6"/><circle cx="560.8" cy="1019.3"/><circle cx="560.6" cy="1026.2"/><circle cx="561.7" cy="1007.7"/><circle cx="555.6" cy="1027.8"/><circle cx="555.3" cy="1020.1"/><circle cx="554.8" cy="1020.1"/><circle cx="560.5" cy="1010.0"/><circle cx="564.7" cy="1014.8"/><circle cx="558.0" cy="1020.2"/><circle cx="555.6" cy="1020.0"/><circle cx="554.3" cy="1018.2"/><circle cx="558.2" cy="996.5"/><circle cx="555.9" cy="1013.1"/><circle cx="561.8" cy="992.9"/><circle cx="569.5" cy="995.4"/><circle cx="569.6" cy="1013.1"/><circle cx="567.6" cy="1004.3"/><circle cx="574.3" cy="989.3"/><circle cx="1539.2" cy="292.8"/><circle cx="1534.9" cy="298.9"/><circle cx="1531.8" cy="300.6"/><circle cx="1531.2" cy="312.2"/><circle cx="1535.1" cy="302.3"/><circle cx="1533.1" cy="297.2"/><circle cx="1527.1" cy="296.8"/><circle cx="1532.0" cy="294.4"/><circle cx="1535.0" cy="291.9"/><circle cx="1533.2" cy="293.4"/><circle cx="1532.9" cy="304.2"/><circle cx="1540.8" cy="302.0"/><circle cx="1543.5" cy="289.9"/><circle cx="1543.0" cy="303.0"/><circle cx="1539.6" cy="309.1"/><circle cx="1545.0" cy="304.3"/><circle cx="1544.1" cy="302.4"/><circle cx="1547.6" cy="300.8"/><circle cx="1554.2" cy="303.9"/><circle cx="1554.2" cy="299.3"/><circle cx="1552.9" cy="296.7"/><circle cx="1552.0" cy="292.5"/><circle cx="1550.2" cy="292.9"/><circle cx="1554.1" cy="282.6"/><circle cx="1548.1" cy="281.4"/><circle cx="1546.9" cy="284.4"/><circle cx="1543.5" cy="294.1"/><circle cx="1541.3" cy="294.0"/><circle cx="1541.6" cy="300.2"/><circle cx="1543.0" cy="299.7"/><circle cx="1540.7" cy="301.8"/><circle cx="1542.5" cy="299.0"/><circle cx="1542.4" cy="289.1"/><circle cx="1540.2" cy="296.6"/><circle cx="1546.4" cy="293.2"/><circle cx="1537.1" cy="307.6"/><circle cx="1536.4" cy="312.9"/><circle cx="1534.7" cy="317.7"/><circle cx="1532.1" cy="313.9"/><circle cx="1537.2" cy="304.8"/><circle cx="1542.8" cy="311.0"/><circle cx="1541.9" cy="304.9"/><circle cx="1543.2" cy="302.1"/><circle cx="1536.7" cy="299.6"/><circle cx="1537.8" cy="290.8"/><circle cx="1542.6" cy="291.0"/><circle cx="1541.9" cy="298.9"/><circle cx="1537.9" cy="304.5"/><circle cx="1532.1" cy="306.3"/><circle cx="1534.9" cy="301.5"/><circle cx="374.0" cy="1110.3"/><circle cx="377.0" cy="1115.9"/><circle cx="384.4" cy="1097.8"/><circle cx="398.3" cy="1082.7"/><circle cx="397.8" cy="1087.1"/><circle cx="397.8" cy="1100.6"/><circle cx="401.2" cy="1098.9"/><circle cx="394.5" cy="1106.9"/><circle cx="395.8" cy="1110.7"/><circle cx="394.8" cy="1115.8"/><circle cx="396.3" cy="1118.4"/><circle cx="399.2" cy="1093.9"/><circle cx="407.0" cy="1093.6"/><circle cx="410.6" cy="1077.1"/><circle cx="408.1" cy="1099.1"/><circle cx="409.3" cy="1099.9"/><circle cx="412.3" cy="1095.4"/><circle cx="418.8" cy="1080.9"/><circle cx="420.7" cy="1081.0"/><circle cx="419.2" cy="1077.0"/><circle cx="415.8" cy="1069.5"/><circle cx="416.4" cy="1081.9"/><circle cx="418.5" cy="1102.6"/><circle cx="413.9" cy="1093.4"/><circle cx="412.7" cy="1091.4"/><circle cx="418.6" cy="1074.1"/><circle cx="412.6" cy="1077.1"/><circle cx="405.1" cy="1083.6"/><circle cx="401.6" cy="1084.3"/><circle cx="398.5" cy="1085.8"/><circle cx="403.9" cy="1082.2"/><circle cx="408.8" cy="1079.3"/><circle cx="410.2" cy="1091.4"/><circle cx="405.1" cy="1087.7"/><circle cx="399.9" cy="1094.9"/><circle cx="396.4" cy="1087.3"/><circle cx="388.5" cy="1091.1"/><circle cx="387.6" cy="1089.3"/><circle cx="387.3" cy="1099.4"/><circle cx="384.2" cy="1112.3"/><circle cx="379.8" cy="1153.9"/><circle cx="379.4" cy="1143.1"/><circle cx="376.2" cy="1120.4"/><circle cx="379.6" cy="1131.9"/><circle cx="383.9" cy="1126.2"/><circle cx="389.7" cy="1107.4"/><circle cx="388.6" cy="1114.0"/><circle cx="390.2" cy="1101.7"/><circle cx="387.3" cy="1114.2"/><circle cx="386.0" cy="1091.1"/><circle cx="1287.8" cy="454.5"/><circle cx="1289.0" cy="459.5"/><circle cx="1291.3" cy="465.0"/><circle cx="1295.7" cy="469.5"/><circle cx="1292.8" cy="474.0"/><circle cx="1291.2" cy="469.4"/><circle cx="1299.7" cy="465.9"/><circle cx="1300.0" cy="451.7"/><circle cx="1299.0" cy="457.5"/><circle cx="1298.2" cy="454.4"/><circle cx="1304.6" cy="448.1"/><circle cx="1303.2" cy="448.3"/><circle cx="1302.2" cy="456.1"/><circle cx="1304.7" cy="454.0"/><circle cx="1303.2" cy="453.4"/><circle cx="1310.5" cy="446.6"/><circle cx="1313.3" cy="434.0"/><circle cx="1314.8" cy="437.7"/><circle cx="1320.3" cy="436.3"/><circle cx="1322.8" cy="436.8"/><circle cx="1327.5" cy="447.9"/><circle cx="1328.4" cy="441.7"/><circle cx="1331.0" cy="439.2"/><circle cx="1333.8" cy="442.8"/><circle cx="1334.5" cy="439.3"/><circle cx="1335.8" cy="429.8"/><circle cx="1337.0" cy="422.8"/><circle cx="1339.0" cy="422.3"/><circle cx="1338.1" cy="414.5"/><circle cx="1338.4" cy="415.2"/><circle cx="1337.8" cy="420.5"/><circle cx="1341.9" cy="411.3"/><circle cx="1346.0" cy="418.2"/><circle cx="1350.9" cy="416.8"/><circle cx="1350.6" cy="429.1"/><circle cx="1349.2" cy="419.4"/><circle cx="1349.7" cy="421.1"/><circle cx="1345.2" cy="415.6"/><circle cx="1353.8" cy="410.6"/><circle cx="1357.2" cy="404.2"/><circle cx="1350.7" cy="407.4"/><circle cx="1356.5" cy="401.6"/><circle cx="1348.9" cy="405.5"/><circle cx="1347.7" cy="406.4"/><circle cx="1343.3" cy="411.0"/><circle cx="1341.0" cy="418.7"/><circle cx="1341.7" cy="424.4"/><circle cx="1341.5" cy="411.1"/><circle cx="1333.2" cy="420.4"/><circle cx="1337.0" cy="424.0"/><circle cx="1313.0" cy="461.7"/><circle cx="1308.0" cy="458.6"/><circle cx="1306.7" cy="462.2"/><circle cx="1302.6" cy="461.8"/><circle cx="1307.7" cy="452.0"/><circle cx="1307.9" cy="442.9"/><circle cx="1308.0" cy="439.1"/><circle cx="1313.9" cy="435.0"/><circle cx="1311.5" cy="434.0"/><circle cx="1317.4" cy="436.0"/><circle cx="1316.4" cy="428.0"/><circle cx="1316.3" cy="436.2"/><circle cx="1317.0" cy="427.8"/><circle cx="1318.6" cy="426.3"/><circle cx="1318.7" cy="426.2"/><circle cx="1314.8" cy="433.8"/><circle cx="1319.0" cy="434.3"/><circle cx="1314.5" cy="431.8"/><circle cx="1319.3" cy="432.5"/><circle cx="1319.9" cy="428.8"/><circle cx="1328.2" cy="425.7"/><circle cx="1326.5" cy="430.9"/><circle cx="1328.4" cy="433.6"/><circle cx="1322.3" cy="443.0"/><circle cx="1327.6" cy="436.0"/><circle cx="1332.1" cy="430.9"/><circle cx="1332.1" cy="430.8"/><circle cx="1331.3" cy="432.1"/><circle cx="1336.8" cy="438.1"/><circle cx="1339.6" cy="440.2"/><circle cx="1334.2" cy="442.3"/><circle cx="1336.3" cy="441.6"/><circle cx="1334.3" cy="436.4"/><circle cx="1338.6" cy="438.1"/><circle cx="1326.3" cy="463.5"/><circle cx="1329.0" cy="462.9"/><circle cx="1334.1" cy="455.9"/><circle cx="1341.7" cy="448.0"/><circle cx="1345.9" cy="451.0"/><circle cx="1338.2" cy="443.2"/><circle cx="1336.5" cy="434.9"/><circle cx="1336.3" cy="442.7"/><circle cx="1332.0" cy="444.3"/><circle cx="1330.2" cy="444.2"/><circle cx="1318.6" cy="461.6"/><circle cx="1314.3" cy="469.2"/><circle cx="1314.5" cy="456.3"/><circle cx="1314.1" cy="449.7"/><circle cx="1313.4" cy="445.7"/><circle cx="1312.8" cy="445.2"/><circle cx="363.8" cy="1126.5"/><circle cx="365.2" cy="1122.3"/><circle cx="375.7" cy="1107.2"/><circle cx="369.2" cy="1104.9"/><circle cx="373.8" cy="1098.9"/><circle cx="374.5" cy="1099.0"/><circle cx="375.7" cy="1111.0"/><circle cx="376.2" cy="1104.4"/><circle cx="380.9" cy="1108.1"/><circle cx="375.5" cy="1101.1"/><circle cx="378.0" cy="1112.5"/><circle cx="381.4" cy="1108.6"/><circle cx="386.2" cy="1099.2"/><circle cx="384.0" cy="1091.1"/><circle cx="379.6" cy="1100.7"/><circle cx="380.8" cy="1103.0"/><circle cx="380.3" cy="1110.3"/><circle cx="383.8" cy="1101.4"/><circle cx="387.9" cy="1087.9"/><circle cx="395.5" cy="1096.4"/><circle cx="394.4" cy="1085.1"/><circle cx="394.6" cy="1099.7"/><circle cx="391.4" cy="1122.0"/><circle cx="397.6" cy="1121.7"/><circle cx="395.1" cy="1133.7"/><circle cx="382.8" cy="1134.4"/><circle cx="387.0" cy="1130.8"/><circle cx="397.8" cy="1115.1"/><circle cx="392.1" cy="1117.0"/><circle cx="394.6" cy="1134.2"/><circle cx="387.1" cy="1141.7"/><circle cx="392.6" cy="1129.9"/><circle cx="390.7" cy="1117.8"/><circle cx="394.1" cy="1124.6"/><circle cx="396.7" cy="1125.3"/><circle cx="401.1" cy="1120.7"/><circle cx="404.2" cy="1127.5"/><circle cx="409.9" cy="1128.9"/><circle cx="410.4" cy="1136.4"/><circle cx="403.7" cy="1121.8"/><circle cx="410.8" cy="1118.0"/><circle cx="406.3" cy="1114.9"/><circle cx="405.7" cy="1116.2"/><circle cx="402.4" cy="1129.8"/><circle cx="395.1" cy="1141.1"/><circle cx="390.4" cy="1151.7"/><circle cx="393.4" cy="1130.5"/><circle cx="388.1" cy="1135.2"/><circle cx="389.3" cy="1129.5"/><circle cx="389.4" cy="1131.2"/><circle cx="882.7" cy="788.1"/><circle cx="880.6" cy="789.6"/><circle cx="880.7" cy="778.8"/><circle cx="885.2" cy="791.6"/><circle cx="888.1" cy="790.4"/><circle cx="872.9" cy="797.0"/><circle cx="875.2" cy="797.9"/><circle cx="876.2" cy="789.5"/><circle cx="877.0" cy="788.2"/><circle cx="877.3" cy="795.6"/><circle cx="878.5" cy="791.5"/><circle cx="874.2" cy="778.2"/><circle cx="882.2" cy="769.8"/><circle cx="887.1" cy="769.4"/><circle cx="887.6" cy="773.7"/><circle cx="887.9" cy="788.2"/><circle cx="885.8" cy="787.5"/><circle cx="885.4" cy="791.0"/><circle cx="892.2" cy="779.6"/><circle cx="880.9" cy="791.2"/><circle cx="883.9" cy="788.4"/><circle cx="883.8" cy="793.0"/><circle cx="879.6" cy="787.2"/><circle cx="872.0" cy="790.8"/><circle cx="868.1" cy="792.0"/><circle cx="862.8" cy="777.9"/><circle cx="867.7" cy="777.2"/><circle cx="872.4" cy="784.7"/><circle cx="864.7" cy="797.0"/><circle cx="859.2" cy="782.4"/><circle cx="853.9" cy="781.1"/><circle cx="861.8" cy="772.5"/><circle cx="860.7" cy="776.7"/><circle cx="862.2" cy="774.2"/><circle cx="871.4" cy="757.7"/><circle cx="865.7" cy="760.4"/><circle cx="859.9" cy="758.3"/><circle cx="857.2" cy="761.9"/><circle cx="863.7" cy="763.2"/><circle cx="861.5" cy="766.3"/><circle cx="858.2" cy="766.5"/><circle cx="857.5" cy="783.9"/><circle cx="852.0" cy="778.9"/><circle cx="854.0" cy="769.4"/><circle cx="849.5" cy="775.6"/><circle cx="844.6" cy="790.2"/><circle cx="847.4" cy="783.6"/><circle cx="846.7" cy="778.8"/><circle cx="853.5" cy="774.0"/><circle cx="854.1" cy="766.3"/><circle cx="1226.8" cy="497.7"/><circle cx="1233.0" cy="504.0"/><circle cx="1229.8" cy="508.6"/><circle cx="1225.8" cy="517.2"/><circle cx="1222.1" cy="519.1"/><circle cx="1228.0" cy="517.9"/><circle cx="1226.6" cy="509.2"/><circle cx="1219.5" cy="522.4"/><circle cx="1221.9" cy="521.0"/><circle cx="1227.6" cy="517.5"/><circle cx="1224.4" cy="519.3"/><circle cx="1224.0" cy="519.5"/><circle cx="1235.2" cy="514.6"/><circle cx="1236.5" cy="512.0"/><circle cx="1233.5" cy="507.9"/><circle cx="1225.1" cy="511.4"/><circle cx="1218.4" cy="504.3"/><circle cx="1214.2" cy="518.9"/><circle cx="1220.5" cy="522.3"/><circle cx="1216.2" cy="539.2"/><circle cx="1219.2" cy="520.2"/><circle cx="1219.3" cy="513.5"/><circle cx="1211.6" cy="517.6"/><circle cx="1216.8" cy="516.6"/><circle cx="1210.3" cy="517.1"/><circle cx="1206.9" cy="527.4"/><circle cx="1206.6" cy="521.1"/><circle cx="1202.5" cy="519.3"/><circle cx="1198.8" cy="528.2"/><circle cx="1190.2" cy="535.9"/><circle cx="1189.8" cy="542.0"/><circle cx="1184.7" cy="552.2"/><circle cx="1191.7" cy="562.6"/><circle cx="1184.5" cy="568.3"/><circle cx="1183.6" cy="569.9"/><circle cx="1179.2" cy="572.9"/><circle cx="1189.7" cy="560.4"/><circle cx="1185.5" cy="559.7"/><circle cx="1188.8" cy="558.0"/><circle cx="1185.4" cy="569.4"/><circle cx="1187.8" cy="564.3"/><circle cx="1187.0" cy="566.3"/><circle cx="1185.0" cy="560.1"/><circle cx="1185.0" cy="550.3"/><circle cx="1190.7" cy="551.0"/><circle cx="1183.1" cy="558.1"/><circle cx="1187.0" cy="552.6"/><circle cx="1188.9" cy="547.0"/><circle cx="1188.6" cy="546.6"/><circle cx="1190.8" cy="538.2"/><circle cx="937.3" cy="733.3"/><circle cx="936.3" cy="731.6"/><circle cx="935.0" cy="756.0"/><circle cx="934.2" cy="755.2"/><circle cx="930.4" cy="753.2"/><circle cx="942.5" cy="735.3"/><circle cx="944.7" cy="739.1"/><circle cx="947.0" cy="747.4"/><circle cx="945.6" cy="741.0"/><circle cx="946.9" cy="737.5"/><circle cx="949.0" cy="736.8"/><circle cx="948.2" cy="742.6"/><circle cx="944.3" cy="749.4"/><circle cx="942.6" cy="723.8"/><circle cx="947.3" cy="718.8"/><circle cx="945.8" cy="715.6"/><circle cx="938.6" cy="707.3"/><circle cx="940.5" cy="702.1"/><circle cx="945.3" cy="717.7"/><circle cx="942.9" cy="702.9"/><circle cx="948.5" cy="704.4"/><circle cx="955.8" cy="701.3"/><circle cx="956.9" cy="691.4"/><circle cx="964.2" cy="686.5"/><circle cx="970.4" cy="682.1"/><circle cx="967.8" cy="691.0"/><circle cx="972.3" cy="672.7"/><circle cx="970.2" cy="679.7"/><circle cx="974.9" cy="676.2"/><circle cx="971.3" cy="681.9"/><circle cx="969.3" cy="685.3"/><circle cx="960.6" cy="695.3"/><circle cx="956.8" cy="704.7"/><circle cx="960.6" cy="675.5"/><circle cx="960.9" cy="691.5"/><circle cx="965.6" cy="676.7"/><circle cx="970.8" cy="669.4"/><circle cx="970.4" cy="670.5"/><circle cx="966.3" cy="671.6"/><circle cx="980.5" cy="662.2"/><circle cx="976.8" cy="687.2"/><circle cx="981.0" cy="685.2"/><circle cx="982.4" cy="669.1"/><circle cx="980.0" cy="664.4"/><circle cx="987.1" cy="670.1"/><circle cx="987.5" cy="658.3"/><circle cx="980.0" cy="668.5"/><circle cx="974.9" cy="672.3"/><circle cx="967.6" cy="679.0"/><circle cx="967.2" cy="672.0"/><circle cx="769.9" cy="868.3"/><circle cx="777.1" cy="857.8"/><circle cx="774.0" cy="865.3"/><circle cx="768.5" cy="873.9"/><circle cx="774.0" cy="867.7"/><circle cx="775.4" cy="865.3"/><circle cx="780.0" cy="855.3"/><circle cx="787.2" cy="850.0"/><circle cx="785.7" cy="837.7"/><circle cx="783.7" cy="841.0"/><circle cx="789.4" cy="824.0"/><circle cx="788.8" cy="818.9"/><circle cx="783.4" cy="822.5"/><circle cx="780.0" cy="831.9"/><circle cx="767.8" cy="846.3"/><circle cx="759.2" cy="835.6"/><circle cx="761.6" cy="831.2"/><circle cx="762.2" cy="829.0"/><circle cx="757.4" cy="831.9"/><circle cx="757.2" cy="833.1"/><circle cx="755.3" cy="833.5"/><circle cx="756.4" cy="836.0"/><circle cx="747.0" cy="851.8"/><circle cx="746.9" cy="852.7"/><circle cx="751.2" cy="843.4"/><circle cx="746.1" cy="838.5"/><circle cx="749.5" cy="837.0"/><circle cx="754.0" cy="833.4"/><circle cx="752.8" cy="845.5"/><circle cx="749.7" cy="854.4"/><circle cx="747.0" cy="862.1"/><circle cx="739.5" cy="876.1"/><circle cx="752.1" cy="876.9"/><circle cx="753.5" cy="865.3"/><circle cx="751.2" cy="861.3"/><circle cx="752.0" cy="843.3"/><circle cx="748.1" cy="852.8"/><circle cx="748.8" cy="858.7"/><circle cx="752.6" cy="846.3"/><circle cx="746.6" cy="854.3"/><circle cx="746.7" cy="854.9"/><circle cx="743.1" cy="866.3"/><circle cx="745.3" cy="874.7"/><circle cx="743.7" cy="881.8"/><circle cx="743.4" cy="873.8"/><circle cx="743.1" cy="859.6"/><circle cx="742.3" cy="861.7"/><circle cx="745.4" cy="850.4"/><circle cx="739.4" cy="848.0"/><circle cx="730.1" cy="848.7"/><circle cx="370.3" cy="1155.8"/><circle cx="375.1" cy="1144.4"/><circle cx="381.4" cy="1142.1"/><circle cx="376.4" cy="1152.4"/><circle cx="377.5" cy="1146.5"/><circle cx="379.7" cy="1137.3"/><circle cx="379.7" cy="1140.5"/><circle cx="382.5" cy="1144.4"/><circle cx="372.0" cy="1145.1"/><circle cx="373.7" cy="1152.3"/><circle cx="369.3" cy="1165.6"/><circle cx="365.2" cy="1162.0"/><circle cx="366.0" cy="1164.3"/><circle cx="359.7" cy="1159.1"/><circle cx="360.6" cy="1161.1"/><circle cx="359.8" cy="1158.1"/><circle cx="365.9" cy="1147.7"/><circle cx="368.4" cy="1155.9"/><circle cx="370.2" cy="1156.6"/><circle cx="364.7" cy="1165.7"/><circle cx="371.0" cy="1153.1"/><circle cx="367.2" cy="1144.1"/><circle cx="360.6" cy="1146.6"/><circle cx="356.1" cy="1149.2"/><circle cx="358.1" cy="1140.7"/><circle cx="352.5" cy="1152.4"/><circle cx="356.5" cy="1148.1"/><circle cx="352.3" cy="1154.5"/><circle cx="353.4" cy="1163.1"/><circle cx="354.1" cy="1156.4"/><circle cx="350.5" cy="1159.4"/><circle cx="343.6" cy="1155.1"/><circle cx="347.5" cy="1160.4"/><circle cx="350.0" cy="1172.3"/><circle cx="348.6" cy="1166.7"/><circle cx="349.1" cy="1174.8"/><circle cx="344.6" cy="1164.3"/><circle cx="350.2" cy="1149.1"/><circle cx="346.3" cy="1157.9"/><circle cx="347.8" cy="1167.4"/><circle cx="349.6" cy="1165.2"/><circle cx="347.3" cy="1170.3"/><circle cx="349.4" cy="1162.4"/><circle cx="348.0" cy="1163.4"/><circle cx="346.0" cy="1153.6"/><circle cx="348.3" cy="1137.5"/><circle cx="348.1" cy="1130.0"/><circle cx="348.1" cy="1143.2"/><circle cx="358.2" cy="1144.5"/><circle cx="357.2" cy="1133.3"/><circle cx="386.9" cy="1122.5"/><circle cx="392.5" cy="1128.5"/><circle cx="384.7" cy="1138.2"/><circle cx="373.8" cy="1161.2"/><circle cx="376.6" cy="1152.9"/><circle cx="370.8" cy="1152.3"/><circle cx="362.9" cy="1162.1"/><circle cx="360.6" cy="1144.7"/><circle cx="360.5" cy="1157.1"/><circle cx="354.8" cy="1156.3"/><circle cx="362.9" cy="1154.1"/><circle cx="360.4" cy="1157.3"/><circle cx="363.9" cy="1144.9"/><circle cx="363.5" cy="1127.8"/><circle cx="356.4" cy="1116.5"/><circle cx="360.2" cy="1117.1"/><circle cx="363.5" cy="1127.7"/><circle cx="363.7" cy="1130.0"/><circle cx="365.5" cy="1133.9"/><circle cx="360.7" cy="1133.9"/><circle cx="360.0" cy="1134.6"/><circle cx="356.6" cy="1135.3"/><circle cx="357.9" cy="1136.4"/><circle cx="360.6" cy="1143.4"/><circle cx="363.1" cy="1152.2"/><circle cx="366.8" cy="1165.3"/><circle cx="369.7" cy="1157.3"/><circle cx="380.1" cy="1164.5"/><circle cx="385.8" cy="1153.2"/><circle cx="386.0" cy="1139.8"/><circle cx="387.9" cy="1134.2"/><circle cx="386.1" cy="1110.9"/><circle cx="393.1" cy="1092.3"/><circle cx="388.1" cy="1101.3"/><circle cx="390.7" cy="1090.3"/><circle cx="390.7" cy="1093.2"/><circle cx="391.4" cy="1098.8"/><circle cx="394.8" cy="1092.0"/><circle cx="387.5" cy="1122.3"/><circle cx="385.8" cy="1112.1"/><circle cx="389.2" cy="1116.4"/><circle cx="386.4" cy="1145.5"/><circle cx="375.8" cy="1166.3"/><circle cx="375.6" cy="1163.6"/><circle cx="377.1" cy="1160.4"/><circle cx="378.5" cy="1144.9"/><circle cx="376.7" cy="1165.9"/><circle cx="365.1" cy="1158.2"/><circle cx="355.0" cy="1154.3"/><circle cx="359.0" cy="1148.0"/><circle cx="1244.8" cy="511.1"/><circle cx="1245.0" cy="506.8"/><circle cx="1246.4" cy="507.0"/><circle cx="1244.3" cy="507.8"/><circle cx="1247.0" cy="500.4"/><circle cx="1254.3" cy="493.7"/><circle cx="1251.7" cy="497.7"/><circle cx="1246.2" cy="506.3"/><circle cx="1252.3" cy="490.8"/><circle cx="1251.9" cy="492.5"/><circle cx="1248.4" cy="487.4"/><circle cx="1243.5" cy="487.6"/><circle cx="1245.9" cy="488.5"/><circle cx="1246.9" cy="484.9"/><circle cx="1253.2" cy="477.2"/><circle cx="1255.5" cy="477.3"/><circle cx="1253.1" cy="478.2"/><circle cx="1256.4" cy="474.2"/><circle cx="1251.1" cy="479.8"/><circle cx="1254.7" cy="476.0"/><circle cx="1260.3" cy="475.7"/><circle cx="1250.4" cy="480.1"/><circle cx="1256.0" cy="480.2"/><circle cx="1254.7" cy="480.9"/><circle cx="1255.9" cy="488.9"/><circle cx="1260.7" cy="490.7"/><circle cx="1258.1" cy="498.2"/><circle cx="1261.9" cy="483.8"/><circle cx="1261.9" cy="476.8"/><circle cx="1249.1" cy="484.4"/><circle cx="1254.6" cy="475.4"/><circle cx="1263.1" cy="474.1"/><circle cx="1265.3" cy="473.0"/><circle cx="1263.7" cy="470.9"/><circle cx="1263.8" cy="472.5"/><circle cx="1268.8" cy="480.3"/><circle cx="1275.4" cy="474.3"/><circle cx="1283.4" cy="466.7"/><circle cx="1275.1" cy="475.2"/><circle cx="1281.5" cy="466.1"/><circle cx="1285.3" cy="466.9"/><circle cx="1284.1" cy="461.5"/><circle cx="1286.5" cy="466.3"/><circle cx="1289.8" cy="470.2"/><circle cx="1295.6" cy="472.8"/><circle cx="1298.1" cy="477.8"/><circle cx="1303.0" cy="477.8"/><circle cx="1301.2" cy="475.4"/><circle cx="1297.2" cy="471.6"/><circle cx="1295.1" cy="470.1"/><circle cx="1379.4" cy="417.9"/><circle cx="1380.5" cy="415.6"/><circle cx="1375.1" cy="420.5"/><circle cx="1374.8" cy="420.9"/><circle cx="1381.6" cy="424.3"/><circle cx="1378.0" cy="428.5"/><circle cx="1376.6" cy="430.2"/><circle cx="1384.0" cy="418.6"/><circle cx="1384.1" cy="413.9"/><circle cx="1383.4" cy="416.9"/><circle cx="1381.2" cy="426.2"/><circle cx="1381.2" cy="417.9"/><circle cx="1390.5" cy="391.4"/><circle cx="1389.2" cy="391.4"/><circle cx="1393.7" cy="396.0"/><circle cx="1400.3" cy="402.0"/><circle cx="1401.7" cy="401.8"/><circle cx="1406.3" cy="398.3"/><circle cx="1400.6" cy="399.3"/><circle cx="1403.6" cy="401.3"/><circle cx="1398.6" cy="413.0"/><circle cx="1400.0" cy="401.8"/><circle cx="1402.1" cy="407.1"/><circle cx="1404.5" cy="403.3"/><circle cx="1400.9" cy="412.0"/><circle cx="1401.9" cy="411.2"/><circle cx="1400.1" cy="405.5"/><circle cx="1391.6" cy="409.1"/><circle cx="1396.6" cy="410.8"/><circle cx="1393.6" cy="412.5"/><circle cx="1392.5" cy="406.4"/><circle cx="1396.9" cy="412.7"/><circle cx="1395.2" cy="405.6"/><circle cx="1394.9" cy="389.2"/><circle cx="1395.1" cy="399.4"/><circle cx="1396.4" cy="393.6"/><circle cx="1399.5" cy="388.0"/><circle cx="1405.3" cy="381.6"/><circle cx="1414.4" cy="372.4"/><circle cx="1415.3" cy="365.6"/><circle cx="1409.5" cy="372.2"/><circle cx="1411.1" cy="364.5"/><circle cx="1413.6" cy="363.2"/><circle cx="1411.2" cy="364.5"/><circle cx="1412.9" cy="368.0"/><circle cx="1418.5" cy="366.3"/><circle cx="1415.2" cy="364.3"/><circle cx="1416.9" cy="363.1"/><circle cx="1416.1" cy="361.2"/><circle cx="1415.7" cy="362.7"/><circle cx="663.3" cy="898.2"/><circle cx="659.0" cy="911.9"/><circle cx="664.6" cy="901.4"/><circle cx="669.0" cy="896.3"/><circle cx="676.6" cy="889.7"/><circle cx="675.9" cy="897.9"/><circle cx="667.3" cy="901.7"/><circle cx="675.0" cy="906.9"/><circle cx="672.1" cy="898.6"/><circle cx="668.5" cy="906.1"/><circle cx="662.5" cy="918.1"/><circle cx="655.9" cy="927.9"/><circle cx="657.3" cy="924.3"/><circle cx="667.9" cy="919.0"/><circle cx="670.8" cy="932.0"/><circle cx="668.1" cy="937.5"/><circle cx="672.8" cy="934.8"/><circle cx="671.6" cy="933.9"/><circle cx="675.3" cy="931.8"/><circle cx="680.8" cy="917.8"/><circle cx="680.6" cy="926.9"/><circle cx="674.5" cy="938.2"/><circle cx="673.6" cy="939.2"/><circle cx="670.3" cy="941.4"/><circle cx="663.6" cy="948.1"/><circle cx="662.0" cy="949.2"/><circle cx="658.6" cy="947.0"/><circle cx="659.1" cy="951.9"/><circle cx="655.2" cy="951.7"/><circle cx="658.9" cy="942.2"/><circle cx="667.9" cy="943.3"/><circle cx="672.6" cy="941.5"/><circle cx="668.2" cy="942.2"/><circle cx="661.6" cy="934.0"/><circle cx="661.0" cy="937.3"/><circle cx="663.8" cy="948.0"/><circle cx="657.7" cy="943.9"/><circle cx="654.6" cy="951.1"/><circle cx="652.5" cy="942.1"/><circle cx="654.8" cy="937.7"/><circle cx="651.0" cy="951.8"/><circle cx="655.2" cy="943.2"/><circle cx="655.7" cy="938.8"/><circle cx="653.1" cy="934.6"/><circle cx="651.8" cy="928.6"/><circle cx="653.2" cy="934.0"/><circle cx="652.0" cy="921.2"/><circle cx="656.0" cy="913.6"/><circle cx="663.4" cy="914.5"/><circle cx="663.2" cy="928.7"/><circle cx="867.6" cy="766.6"/><circle cx="858.6" cy="777.9"/><circle cx="860.5" cy="766.8"/><circle cx="860.8" cy="766.5"/><circle cx="856.3" cy="776.0"/><circle cx="864.9" cy="775.0"/><circle cx="868.4" cy="781.5"/><circle cx="867.8" cy="790.2"/><circle cx="864.2" cy="794.3"/><circle cx="867.4" cy="803.2"/><circle cx="866.1" cy="801.6"/><circle cx="868.2" cy="799.5"/><circle cx="868.8" cy="801.1"/><circle cx="865.3" cy="800.8"/><circle cx="867.0" cy="797.4"/><circle cx="861.4" cy="795.9"/><circle cx="861.2" cy="803.9"/><circle cx="852.4" cy="813.0"/><circle cx="853.3" cy="803.3"/><circle cx="857.1" cy="803.9"/><circle cx="859.1" cy="794.4"/><circle cx="854.1" cy="805.3"/><circle cx="860.4" cy="804.1"/><circle cx="859.5" cy="800.9"/><circle cx="851.8" cy="814.1"/><circle cx="851.4" cy="805.6"/><circle cx="848.2" cy="816.2"/><circle cx="845.0" cy="815.4"/><circle cx="851.1" cy="805.7"/><circle cx="855.2" cy="802.8"/><circle cx="851.0" cy="807.3"/><circle cx="853.9" cy="799.5"/><circle cx="852.7" cy="795.8"/><circle cx="849.3" cy="796.6"/><circle cx="852.9" cy="789.9"/><circle cx="858.5" cy="782.7"/><circle cx="855.4" cy="793.7"/><circle cx="861.7" cy="783.8"/><circle cx="864.3" cy="772.1"/><circle cx="862.5" cy="770.4"/><circle cx="865.6" cy="757.4"/><circle cx="863.3" cy="755.5"/><circle cx="863.8" cy="763.4"/><circle cx="857.8" cy="791.3"/><circle cx="858.8" cy="778.2"/><circle cx="862.5" cy="764.5"/><circle cx="854.1" cy="784.7"/><circle cx="859.7" cy="773.5"/><circle cx="854.8" cy="781.2"/><circle cx="863.8" cy="779.3"/><circle cx="1063.7" cy="630.6"/><circle cx="1061.0" cy="636.4"/><circle cx="1057.7" cy="633.5"/><circle cx="1050.2" cy="626.8"/><circle cx="1048.3" cy="630.5"/><circle cx="1056.8" cy="626.0"/><circle cx="1052.1" cy="631.2"/><circle cx="1054.1" cy="630.5"/><circle cx="1063.7" cy="624.1"/><circle cx="1067.5" cy="623.8"/><circle cx="1061.7" cy="629.7"/><circle cx="1062.8" cy="641.2"/><circle cx="1054.5" cy="627.4"/><circle cx="1057.6" cy="629.5"/><circle cx="1060.6" cy="631.8"/><circle cx="1060.8" cy="633.8"/><circle cx="1062.1" cy="626.3"/><circle cx="1061.8" cy="610.5"/><circle cx="1062.1" cy="608.4"/><circle cx="1054.6" cy="621.2"/><circle cx="1050.5" cy="615.7"/><circle cx="1043.1" cy="628.4"/><circle cx="1039.0" cy="629.4"/><circle cx="1033.9" cy="633.1"/><circle cx="1036.5" cy="644.2"/><circle cx="1039.8" cy="630.3"/><circle cx="1044.3" cy="627.8"/><circle cx="1044.6" cy="622.8"/><circle cx="1037.8" cy="626.9"/><circle cx="1033.9" cy="627.7"/><circle cx="1040.8" cy="624.6"/><circle cx="1043.9" cy="633.3"/><circle cx="1036.8" cy="635.9"/><circle cx="1046.0" cy="645.5"/><circle cx="1045.9" cy="627.1"/><circle cx="1048.8" cy="638.4"/><circle cx="1043.7" cy="651.8"/><circle cx="1042.3" cy="643.9"/><circle cx="1046.8" cy="637.5"/><circle cx="1039.9" cy="645.5"/><circle cx="1045.4" cy="657.3"/><circle cx="1040.8" cy="677.5"/><circle cx="1042.2" cy="676.5"/><circle cx="1039.4" cy="675.0"/><circle cx="1036.6" cy="679.4"/><circle cx="1035.4" cy="665.3"/><circle cx="1034.5" cy="661.4"/><circle cx="1040.1" cy="660.8"/><circle cx="1046.3" cy="663.2"/><circle cx="1036.4" cy="664.5"/><circle cx="1139.0" cy="595.1"/><circle cx="1145.5" cy="594.8"/><circle cx="1142.3" cy="588.5"/><circle cx="1137.4" cy="591.3"/><circle cx="1141.2" cy="585.4"/><circle cx="1148.2" cy="593.8"/><circle cx="1148.9" cy="578.6"/><circle cx="1153.7" cy="574.6"/><circle cx="1156.6" cy="579.4"/><circle cx="1152.2" cy="582.8"/><circle cx="1153.0" cy="577.1"/><circle cx="1156.0" cy="574.2"/><circle cx="1154.2" cy="588.2"/><circle cx="1154.9" cy="585.5"/><circle cx="1154.3" cy="592.3"/><circle cx="1150.9" cy="594.2"/><circle cx="1155.7" cy="576.2"/><circle cx="1158.0" cy="572.7"/><circle cx="1162.8" cy="570.7"/><circle cx="1162.5" cy="562.2"/><circle cx="1175.4" cy="548.3"/><circle cx="1173.9" cy="544.3"/><circle cx="1172.6" cy="546.7"/><circle cx="1166.7" cy="557.9"/><circle cx="1165.5" cy="562.8"/><circle cx="1156.3" cy="565.6"/><circle cx="1154.9" cy="563.8"/><circle cx="1152.0" cy="567.9"/><circle cx="1153.8" cy="560.0"/><circle cx="1145.1" cy="570.8"/><circle cx="1143.7" cy="579.0"/><circle cx="1147.5" cy="575.7"/><circle cx="1141.2" cy="577.5"/><circle cx="1138.0" cy="588.1"/><circle cx="1130.6" cy="599.3"/><circle cx="1123.8" cy="600.0"/><circle cx="1117.6" cy="599.6"/><circle cx="1115.6" cy="603.6"/><circle cx="1113.0" cy="610.2"/><circle cx="1120.7" cy="605.6"/><circle cx="1115.6" cy="608.1"/><circle cx="1115.1" cy="606.0"/><circle cx="1120.1" cy="610.0"/><circle cx="1128.9" cy="607.7"/><circle cx="1117.2" cy="614.9"/><circle cx="1120.1" cy="607.2"/><circle cx="1117.4" cy="615.3"/><circle cx="1118.1" cy="607.2"/><circle cx="1115.5" cy="588.0"/><circle cx="1115.4" cy="579.7"/><circle cx="922.5" cy="753.0"/><circle cx="928.3" cy="747.9"/><circle cx="926.3" cy="747.6"/><circle cx="916.9" cy="745.3"/><circle cx="917.2" cy="761.9"/><circle cx="917.0" cy="765.5"/><circle cx="915.8" cy="765.5"/><circle cx="916.0" cy="762.9"/><circle cx="918.9" cy="750.8"/><circle cx="919.1" cy="759.1"/><circle cx="912.1" cy="758.6"/><circle cx="912.9" cy="761.4"/><circle cx="913.6" cy="773.1"/><circle cx="907.4" cy="769.4"/><circle cx="906.8" cy="760.8"/><circle cx="904.6" cy="759.5"/><circle cx="899.6" cy="754.5"/><circle cx="900.2" cy="768.0"/><circle cx="907.9" cy="773.2"/><circle cx="898.2" cy="773.6"/><circle cx="896.7" cy="769.0"/><circle cx="896.0" cy="756.7"/><circle cx="891.0" cy="770.2"/><circle cx="891.5" cy="756.0"/><circle cx="893.8" cy="777.8"/><circle cx="897.8" cy="769.6"/><circle cx="910.6" cy="747.0"/><circle cx="908.9" cy="753.4"/><circle cx="909.1" cy="764.4"/><circle cx="911.2" cy="768.6"/><circle cx="911.1" cy="766.8"/><circle cx="907.6" cy="762.9"/><circle cx="906.7" cy="756.3"/><circle cx="903.6" cy="759.4"/><circle cx="912.6" cy="754.9"/><circle cx="910.0" cy="762.7"/><circle cx="914.0" cy="756.2"/><circle cx="911.6" cy="756.5"/><circle cx="903.8" cy="772.3"/><circle cx="907.6" cy="753.9"/><circle cx="910.4" cy="748.3"/><circle cx="912.6" cy="748.3"/><circle cx="909.3" cy="741.0"/><circle cx="904.5" cy="755.6"/><circle cx="905.6" cy="767.5"/><circle cx="903.5" cy="771.6"/><circle cx="904.0" cy="765.3"/><circle cx="906.3" cy="748.3"/><circle cx="901.8" cy="755.7"/><circle cx="902.4" cy="760.2"/><circle cx="768.1" cy="856.2"/><circle cx="772.1" cy="865.4"/><circle cx="769.7" cy="869.1"/><circle cx="771.5" cy="864.3"/><circle cx="771.9" cy="868.9"/><circle cx="764.6" cy="868.8"/><circle cx="774.6" cy="865.3"/><circle cx="772.1" cy="852.1"/><circle cx="767.9" cy="859.3"/><circle cx="770.8" cy="860.9"/><circle cx="773.3" cy="854.2"/><circle cx="780.3" cy="840.3"/><circle cx="782.4" cy="836.6"/><circle cx="774.9" cy="849.1"/><circle cx="773.6" cy="855.7"/><circle cx="779.1" cy="853.1"/><circle cx="776.2" cy="853.4"/><circle cx="775.8" cy="865.3"/><circle cx="779.5" cy="856.3"/><circle cx="782.8" cy="847.8"/><circle cx="786.8" cy="852.7"/><circle cx="786.2" cy="856.8"/><circle cx="784.7" cy="847.8"/><circle cx="784.3" cy="854.2"/><circle cx="782.6" cy="837.4"/><circle cx="779.1" cy="848.6"/><circle cx="780.0" cy="856.9"/><circle cx="776.6" cy="855.9"/><circle cx="772.2" cy="852.7"/><circle cx="774.4" cy="852.3"/><circle cx="772.2" cy="856.3"/><circle cx="766.4" cy="857.1"/><circle cx="759.8" cy="849.3"/><circle cx="753.8" cy="844.1"/><circle cx="760.6" cy="851.0"/><circle cx="766.1" cy="842.5"/><circle cx="768.7" cy="831.4"/><circle cx="766.3" cy="835.0"/><circle cx="759.3" cy="841.3"/><circle cx="761.9" cy="829.6"/><circle cx="751.1" cy="834.3"/><circle cx="750.5" cy="835.9"/><circle cx="745.5" cy="844.0"/><circle cx="746.0" cy="837.4"/><circle cx="753.1" cy="835.0"/><circle cx="756.2" cy="848.4"/><circle cx="754.0" cy="848.1"/><circle cx="746.4" cy="851.3"/><circle cx="748.2" cy="871.3"/><circle cx="750.6" cy="871.3"/><circle cx="1173.2" cy="560.3"/><circle cx="1178.6" cy="559.1"/><circle cx="1175.9" cy="566.6"/><circle cx="1168.5" cy="580.4"/><circle cx="1167.0" cy="576.2"/><circle cx="1163.7" cy="576.1"/><circle cx="1166.6" cy="571.3"/><circle cx="1165.7" cy="576.3"/><circle cx="1163.6" cy="567.4"/><circle cx="1162.1" cy="571.1"/><circle cx="1158.7" cy="569.8"/><circle cx="1152.5" cy="570.8"/><circle cx="1153.9" cy="569.9"/><circle cx="1157.7" cy="554.6"/><circle cx="1160.4" cy="555.3"/><circle cx="1152.8" cy="566.4"/><circle cx="1148.7" cy="585.4"/><circle cx="1156.9" cy="588.0"/><circle cx="1162.6" cy="586.5"/><circle cx="1169.7" cy="579.8"/><circle cx="1173.3" cy="574.0"/><circle cx="1182.6" cy="563.5"/><circle cx="1181.4" cy="572.5"/><circle cx="1184.1" cy="568.2"/><circle cx="1178.1" cy="573.2"/><circle cx="1169.2" cy="572.3"/><circle cx="1164.7" cy="578.4"/><circle cx="1166.5" cy="582.1"/><circle cx="1168.9" cy="576.5"/><circle cx="1175.4" cy="564.5"/><circle cx="1171.9" cy="564.3"/><circle cx="1174.2" cy="562.8"/><circle cx="1179.5" cy="543.6"/><circle cx="1183.1" cy="539.8"/><circle cx="1187.5" cy="533.5"/><circle cx="1180.9" cy="549.7"/><circle cx="1183.8" cy="538.1"/><circle cx="1183.3" cy="541.7"/><circle cx="1184.7" cy="545.7"/><circle cx="1186.8" cy="552.6"/><circle cx="1185.6" cy="558.0"/><circle cx="1188.7" cy="550.9"/><circle cx="1189.3" cy="550.5"/><circle cx="1188.2" cy="550.7"/><circle cx="1187.3" cy="550.9"/><circle cx="1181.1" cy="557.3"/><circle cx="1178.1" cy="558.2"/><circle cx="1184.5" cy="537.8"/><circle cx="1188.5" cy="530.7"/><circle cx="1192.8" cy="526.4"/><circle cx="828.4" cy="824.9"/><circle cx="823.0" cy="831.6"/><circle cx="827.1" cy="828.3"/><circle cx="831.5" cy="825.3"/><circle cx="832.9" cy="822.0"/><circle cx="826.9" cy="825.0"/><circle cx="829.0" cy="817.8"/><circle cx="820.4" cy="812.1"/><circle cx="826.1" cy="806.5"/><circle cx="822.6" cy="818.3"/><circle cx="821.8" cy="807.4"/><circle cx="819.8" cy="802.0"/><circle cx="818.9" cy="795.6"/><circle cx="819.1" cy="799.0"/><circle cx="816.6" cy="799.2"/><circle cx="815.8" cy="806.0"/><circle cx="812.6" cy="814.0"/><circle cx="818.0" cy="808.8"/><circle cx="813.7" cy="809.4"/><circle cx="805.8" cy="810.4"/><circle cx="800.5" cy="812.6"/><circle cx="798.8" cy="817.9"/><circle cx="799.2" cy="820.9"/><circle cx="798.9" cy="823.3"/><circle cx="793.9" cy="832.0"/><circle cx="799.5" cy="836.9"/><circle cx="793.5" cy="844.5"/><circle cx="786.3" cy="855.8"/><circle cx="785.3" cy="852.7"/><circle cx="782.0" cy="853.2"/><circle cx="781.9" cy="845.4"/><circle cx="782.1" cy="847.4"/><circle cx="784.3" cy="845.4"/><circle cx="784.2" cy="860.5"/><circle cx="788.6" cy="858.5"/><circle cx="782.4" cy="859.4"/><circle cx="784.9" cy="836.0"/><circle cx="784.1" cy="839.7"/><circle cx="784.2" cy="840.4"/><circle cx="783.5" cy="852.2"/><circle cx="785.1" cy="848.7"/><circle cx="784.0" cy="858.7"/><circle cx="780.1" cy="857.2"/><circle cx="781.5" cy="857.4"/><circle cx="782.8" cy="859.4"/><circle cx="787.7" cy="859.2"/><circle cx="787.9" cy="858.6"/><circle cx="786.8" cy="853.5"/><circle cx="781.1" cy="849.1"/><circle cx="779.1" cy="842.7"/><circle cx="571.5" cy="981.3"/><circle cx="565.8" cy="977.8"/><circle cx="560.6" cy="982.7"/><circle cx="557.4" cy="973.3"/><circle cx="561.3" cy="970.6"/><circle cx="549.1" cy="979.8"/><circle cx="551.4" cy="977.1"/><circle cx="550.4" cy="983.7"/><circle cx="546.3" cy="991.9"/><circle cx="543.2" cy="997.3"/><circle cx="537.4" cy="1003.1"/><circle cx="542.7" cy="1008.3"/><circle cx="541.9" cy="1002.3"/><circle cx="541.9" cy="1005.1"/><circle cx="535.3" cy="1012.6"/><circle cx="530.2" cy="1023.6"/><circle cx="529.1" cy="1022.5"/><circle cx="534.2" cy="1022.9"/><circle cx="540.4" cy="1010.9"/><circle cx="537.2" cy="1016.0"/><circle cx="541.5" cy="1023.7"/><circle cx="541.9" cy="1013.2"/><circle cx="545.1" cy="1015.2"/><circle cx="543.0" cy="999.7"/><circle cx="535.4" cy="1017.8"/><circle cx="534.6" cy="1019.8"/><circle cx="537.3" cy="1038.6"/><circle cx="536.8" cy="1034.8"/><circle cx="535.8" cy="1045.6"/><circle cx="534.7" cy="1046.6"/><circle cx="539.6" cy="1037.0"/><circle cx="539.5" cy="1039.6"/><circle cx="530.1" cy="1036.3"/><circle cx="528.4" cy="1017.5"/><circle cx="533.0" cy="1003.2"/><circle cx="536.7" cy="1003.7"/><circle cx="532.6" cy="1001.4"/><circle cx="532.9" cy="1004.9"/><circle cx="537.4" cy="990.3"/><circle cx="535.8" cy="1002.5"/><circle cx="537.6" cy="997.1"/><circle cx="535.3" cy="993.3"/><circle cx="542.0" cy="978.2"/><circle cx="546.2" cy="978.3"/><circle cx="542.2" cy="980.5"/><circle cx="535.6" cy="1005.6"/><circle cx="549.8" cy="989.4"/><circle cx="554.1" cy="980.1"/><circle cx="548.9" cy="981.9"/><circle cx="539.8" cy="997.9"/><circle cx="656.0" cy="915.8"/><circle cx="655.8" cy="921.6"/><circle cx="663.5" cy="928.0"/><circle cx="671.9" cy="921.7"/><circle cx="664.4" cy="926.7"/><circle cx="662.6" cy="919.3"/><circle cx="660.2" cy="920.5"/><circle cx="660.4" cy="928.4"/><circle cx="656.3" cy="941.5"/><circle cx="656.5" cy="947.8"/><circle cx="662.0" cy="932.9"/><circle cx="669.1" cy="921.4"/><circle cx="670.9" cy="929.7"/><circle cx="675.0" cy="912.9"/><circle cx="675.7" cy="922.4"/><circle cx="675.1" cy="922.1"/><circle cx="675.4" cy="936.4"/><circle cx="673.0" cy="929.9"/><circle cx="668.0" cy="928.8"/><circle cx="666.9" cy="932.7"/><circle cx="666.6" cy="917.8"/><circle cx="659.5" cy="929.0"/><circle cx="662.7" cy="914.7"/><circle cx="666.9" cy="895.7"/><circle cx="677.3" cy="893.3"/><circle cx="669.8" cy="903.2"/><circle cx="669.7" cy="899.4"/><circle cx="668.0" cy="898.6"/><circle cx="667.5" cy="894.0"/><circle cx="665.0" cy="900.8"/><circle cx="667.3" cy="897.9"/><circle cx="665.1" cy="913.3"/><circle cx="668.3" cy="925.6"/><circle cx="662.2" cy="920.8"/><circle cx="652.5" cy="910.9"/><circle cx="650.8" cy="906.5"/><circle cx="645.9" cy="912.5"/><circle cx="645.1" cy="920.5"/><circle cx="647.6" cy="910.9"/><circle cx="654.3" cy="903.1"/><circle cx="649.8" cy="906.1"/><circle cx="648.0" cy="918.3"/><circle cx="654.9" cy="908.1"/><circle cx="652.2" cy="914.9"/><circle cx="659.7" cy="913.6"/><circle cx="655.7" cy="920.5"/><circle cx="660.7" cy="920.2"/><circle cx="663.6" cy="913.8"/><circle cx="663.2" cy="899.2"/><circle cx="660.0" cy="904.3"/><circle cx="593.4" cy="976.0"/><circle cx="587.5" cy="996.7"/><circle cx="584.6" cy="992.7"/><circle cx="583.0" cy="989.3"/><circle cx="586.5" cy="1005.2"/><circle cx="578.7" cy="1013.1"/><circle cx="579.8" cy="1003.6"/><circle cx="580.4" cy="1005.1"/><circle cx="576.8" cy="1002.3"/><circle cx="574.5" cy="1008.4"/><circle cx="576.1" cy="1010.5"/><circle cx="575.3" cy="1015.3"/><circle cx="571.6" cy="1013.8"/><circle cx="576.0" cy="1009.7"/><circle cx="566.2" cy="1015.0"/><circle cx="565.3" cy="1004.9"/><circle cx="562.7" cy="1011.1"/><circle cx="565.6" cy="1018.1"/><circle cx="564.3" cy="1015.4"/><circle cx="561.5" cy="1018.4"/><circle cx="558.2" cy="1015.4"/><circle cx="554.3" cy="1003.1"/><circle cx="550.6" cy="1011.4"/><circle cx="553.4" cy="1012.7"/><circle cx="547.5" cy="1004.2"/><circle cx="555.4" cy="1019.6"/><circle cx="559.1" cy="1012.0"/><circle cx="552.6" cy="1013.1"/><circle cx="550.5" cy="1023.1"/><circle cx="549.6" cy="1012.3"/><circle cx="544.3" cy="1021.2"/><circle cx="548.0" cy="1026.1"/><circle cx="547.3" cy="1032.5"/><circle cx="540.4" cy="1035.3"/><circle cx="535.2" cy="1037.3"/><circle cx="532.9" cy="1029.5"/><circle cx="536.0" cy="1026.4"/><circle cx="541.8" cy="1022.8"/><circle cx="540.3" cy="1014.4"/><circle cx="537.0" cy="1022.4"/><circle cx="537.4" cy="1040.3"/><circle cx="539.7" cy="1032.3"/><circle cx="535.2" cy="1031.2"/><circle cx="540.1" cy="1039.8"/><circle cx="526.6" cy="1043.6"/><circle cx="534.8" cy="1025.5"/><circle cx="534.7" cy="1030.6"/><circle cx="535.5" cy="1025.4"/><circle cx="534.4" cy="1020.3"/><circle cx="534.0" cy="1017.3"/><circle cx="663.6" cy="930.9"/><circle cx="664.2" cy="924.3"/><circle cx="663.0" cy="916.8"/><circle cx="659.2" cy="921.3"/><circle cx="659.8" cy="928.3"/><circle cx="659.4" cy="934.2"/><circle cx="662.4" cy="925.9"/><circle cx="654.8" cy="925.4"/><circle cx="653.7" cy="921.7"/><circle cx="663.6" cy="908.5"/><circle cx="665.8" cy="900.2"/><circle cx="668.9" cy="896.1"/><circle cx="673.2" cy="894.6"/><circle cx="671.4" cy="893.9"/><circle cx="678.9" cy="885.0"/><circle cx="685.4" cy="899.8"/><circle cx="680.0" cy="919.8"/><circle cx="688.0" cy="914.1"/><circle cx="692.5" cy="916.3"/><circle cx="690.9" cy="918.7"/><circle cx="685.7" cy="910.8"/><circle cx="686.3" cy="916.9"/><circle cx="687.0" cy="905.6"/><circle cx="690.8" cy="903.7"/><circle cx="694.2" cy="898.8"/><circle cx="693.0" cy="909.0"/><circle cx="699.2" cy="894.0"/><circle cx="694.2" cy="906.3"/><circle cx="695.8" cy="905.7"/><circle cx="691.4" cy="917.9"/><circle cx="692.2" cy="919.3"/><circle cx="694.0" cy="913.5"/><circle cx="695.8" cy="913.5"/><circle cx="699.0" cy="914.5"/><circle cx="693.2" cy="912.6"/><circle cx="692.0" cy="923.8"/><circle cx="689.1" cy="927.5"/><circle cx="694.0" cy="924.7"/><circle cx="704.1" cy="917.3"/><circle cx="705.6" cy="912.4"/><circle cx="707.4" cy="916.9"/><circle cx="706.8" cy="907.8"/><circle cx="708.4" cy="889.9"/><circle cx="713.3" cy="884.8"/><circle cx="709.3" cy="885.2"/><circle cx="708.0" cy="896.3"/><circle cx="709.5" cy="894.7"/><circle cx="709.5" cy="887.0"/><circle cx="706.6" cy="885.1"/><circle cx="705.6" cy="875.8"/><circle cx="494.4" cy="1025.0"/><circle cx="498.4" cy="1027.6"/><circle cx="497.8" cy="1025.4"/><circle cx="500.6" cy="1020.4"/><circle cx="505.2" cy="1014.5"/><circle cx="500.0" cy="1010.7"/><circle cx="504.5" cy="1014.2"/><circle cx="504.5" cy="1012.9"/><circle cx="503.8" cy="1011.9"/><circle cx="507.0" cy="1017.5"/><circle cx="505.7" cy="1018.2"/><circle cx="505.9" cy="1013.2"/><circle cx="502.7" cy="1012.2"/><circle cx="508.4" cy="1030.4"/><circle cx="503.1" cy="1022.5"/><circle cx="498.6" cy="1017.2"/><circle cx="499.7" cy="1013.6"/><circle cx="497.4" cy="1020.4"/><circle cx="493.7" cy="1016.9"/><circle cx="496.6" cy="1011.2"/><circle cx="495.4" cy="1035.7"/><circle cx="494.5" cy="1025.2"/><circle cx="489.4" cy="1041.3"/><circle cx="493.7" cy="1052.0"/><circle cx="494.9" cy="1070.4"/><circle cx="503.8" cy="1067.9"/><circle cx="504.4" cy="1065.6"/><circle cx="509.8" cy="1051.7"/><circle cx="511.3" cy="1042.5"/><circle cx="513.2" cy="1028.0"/><circle cx="513.3" cy="1044.0"/><circle cx="511.2" cy="1048.5"/><circle cx="515.4" cy="1031.9"/><circle cx="515.6" cy="1042.9"/><circle cx="513.8" cy="1034.9"/><circle cx="513.6" cy="1048.0"/><circle cx="515.5" cy="1045.1"/><circle cx="515.4" cy="1057.2"/><circle cx="529.4" cy="1043.5"/><circle cx="535.9" cy="1039.5"/><circle cx="537.8" cy="1043.3"/><circle cx="541.3" cy="1035.3"/><circle cx="553.0" cy="1025.5"/><circle cx="546.5" cy="1030.7"/><circle cx="545.9" cy="1027.5"/><circle cx="548.8" cy="1020.6"/><circle cx="551.2" cy="1018.2"/><circle cx="555.5" cy="1007.9"/><circle cx="552.7" cy="1009.3"/><circle cx="545.1" cy="1016.1"/><circle cx="1570.0" cy="282.3"/><circle cx="1569.5" cy="277.5"/><circle cx="1572.5" cy="277.5"/><circle cx="1564.5" cy="277.5"/><circle cx="1564.3" cy="282.8"/><circle cx="1568.0" cy="277.5"/><circle cx="1567.3" cy="277.5"/><circle cx="1567.7" cy="277.5"/><circle cx="1568.0" cy="277.5"/><circle cx="1573.6" cy="277.5"/><circle cx="1577.0" cy="277.5"/><circle cx="1575.8" cy="277.5"/><circle cx="1562.7" cy="280.2"/><circle cx="1566.8" cy="278.2"/><circle cx="1568.4" cy="280.0"/><circle cx="1567.5" cy="288.1"/><circle cx="1575.7" cy="283.6"/><circle cx="1573.2" cy="287.7"/><circle cx="1577.6" cy="285.5"/><circle cx="1574.5" cy="291.7"/><circle cx="1577.8" cy="286.8"/><circle cx="1575.9" cy="289.3"/><circle cx="1567.3" cy="299.9"/><circle cx="1565.3" cy="299.3"/><circle cx="1564.0" cy="298.3"/><circle cx="1564.4" cy="298.7"/><circle cx="1561.7" cy="299.4"/><circle cx="1561.3" cy="302.3"/><circle cx="1563.2" cy="299.5"/><circle cx="1559.5" cy="292.5"/><circle cx="1553.9" cy="297.5"/><circle cx="1549.7" cy="308.4"/><circle cx="1549.0" cy="306.7"/><circle cx="1548.3" cy="304.1"/><circle cx="1545.5" cy="306.0"/><circle cx="1539.0" cy="310.0"/><circle cx="1538.6" cy="305.3"/><circle cx="1543.2" cy="305.0"/><circle cx="1548.1" cy="299.0"/><circle cx="1542.5" cy="295.3"/><circle cx="1535.4" cy="288.4"/><circle cx="1542.4" cy="282.4"/><circle cx="1543.3" cy="279.2"/><circle cx="1542.7" cy="288.3"/><circle cx="1534.8" cy="286.7"/><circle cx="1535.5" cy="284.4"/><circle cx="1538.6" cy="290.1"/><circle cx="1542.6" cy="292.4"/><circle cx="1541.9" cy="298.3"/><circle cx="1538.3" cy="293.5"/><circle cx="361.7" cy="1143.5"/><circle cx="356.8" cy="1136.7"/><circle cx="362.5" cy="1122.0"/><circle cx="361.7" cy="1120.3"/><circle cx="368.7" cy="1118.2"/><circle cx="371.2" cy="1107.6"/><circle cx="372.4" cy="1118.4"/><circle cx="376.5" cy="1099.9"/><circle cx="378.6" cy="1104.0"/><circle cx="380.5" cy="1120.9"/><circle cx="380.5" cy="1145.0"/><circle cx="378.0" cy="1150.1"/><circle cx="375.8" cy="1154.3"/><circle cx="376.6" cy="1152.3"/><circle cx="372.8" cy="1159.4"/><circle cx="375.8" cy="1160.0"/><circle cx="384.7" cy="1153.5"/><circle cx="376.7" cy="1163.6"/><circle cx="384.1" cy="1147.2"/><circle cx="383.3" cy="1133.1"/><circle cx="376.2" cy="1136.1"/><circle cx="366.5" cy="1124.2"/><circle cx="370.5" cy="1142.8"/><circle cx="370.7" cy="1130.9"/><circle cx="372.8" cy="1122.3"/><circle cx="368.3" cy="1134.1"/><circle cx="371.5" cy="1130.6"/><circle cx="375.3" cy="1115.0"/><circle cx="378.6" cy="1108.2"/><circle cx="373.8" cy="1104.6"/><circle cx="379.0" cy="1099.3"/><circle cx="382.4" cy="1100.4"/><circle cx="379.6" cy="1100.0"/><circle cx="367.3" cy="1105.2"/><circle cx="368.6" cy="1103.2"/><circle cx="367.5" cy="1111.6"/><circle cx="369.0" cy="1104.7"/><circle cx="369.3" cy="1105.3"/><circle cx="362.9" cy="1133.7"/><circle cx="367.1" cy="1141.3"/><circle cx="365.9" cy="1159.7"/><circle cx="372.1" cy="1163.6"/><circle cx="371.5" cy="1145.4"/><circle cx="368.4" cy="1161.2"/><circle cx="378.8" cy="1161.3"/><circle cx="372.2" cy="1146.0"/><circle cx="372.1" cy="1142.1"/><circle cx="371.9" cy="1131.4"/><circle cx="374.8" cy="1152.1"/><circle cx="372.7" cy="1144.4"/><circle cx="347.9" cy="1123.8"/><circle cx="351.4" cy="1135.9"/><circle cx="349.9" cy="1165.5"/><circle cx="348.4" cy="1172.2"/><circle cx="347.9" cy="1158.5"/><circle cx="345.9" cy="1156.3"/><circle cx="350.7" cy="1134.0"/><circle cx="347.9" cy="1134.6"/><circle cx="350.9" cy="1136.6"/><circle cx="354.7" cy="1132.7"/><circle cx="353.7" cy="1145.4"/><circle cx="361.4" cy="1145.0"/><circle cx="362.1" cy="1135.7"/><circle cx="371.6" cy="1134.5"/><circle cx="374.4" cy="1115.3"/><circle cx="377.1" cy="1140.7"/><circle cx="376.4" cy="1138.9"/><circle cx="383.3" cy="1132.7"/><circle cx="387.1" cy="1152.0"/><circle cx="381.9" cy="1146.6"/><circle cx="384.9" cy="1145.7"/><circle cx="385.1" cy="1143.7"/><circle cx="385.7" cy="1147.3"/><circle cx="383.6" cy="1145.8"/><circle cx="384.7" cy="1132.7"/><circle cx="386.7" cy="1106.3"/><circle cx="389.5" cy="1102.8"/><circle cx="384.3" cy="1122.1"/><circle cx="379.0" cy="1149.0"/><circle cx="375.8" cy="1164.0"/><circle cx="375.5" cy="1151.5"/><circle cx="374.5" cy="1163.4"/><circle cx="373.1" cy="1143.5"/><circle cx="374.9" cy="1147.9"/><circle cx="376.7" cy="1165.7"/><circle cx="373.4" cy="1151.4"/><circle cx="374.6" cy="1143.2"/><circle cx="374.1" cy="1143.4"/><circle cx="370.5" cy="1157.2"/><circle cx="370.0" cy="1161.3"/><circle cx="371.1" cy="1164.9"/><circle cx="369.8" cy="1158.4"/><circle cx="367.5" cy="1150.1"/><circle cx="369.5" cy="1150.6"/><circle cx="364.7" cy="1136.8"/><circle cx="360.9" cy="1120.2"/><circle cx="356.9" cy="1113.3"/><circle cx="360.1" cy="1117.1"/><circle cx="357.5" cy="1117.7"/><circle cx="357.7" cy="1121.9"/><circle cx="453.4" cy="1052.1"/><circle cx="452.3" cy="1076.4"/><circle cx="453.8" cy="1069.0"/><circle cx="451.2" cy="1066.9"/><circle cx="454.2" cy="1067.9"/><circle cx="454.3" cy="1069.1"/><circle cx="462.4" cy="1066.5"/><circle cx="468.3" cy="1045.7"/><circle cx="469.2" cy="1046.2"/><circle cx="471.9" cy="1036.0"/><circle cx="468.0" cy="1052.8"/><circle cx="464.0" cy="1053.8"/><circle cx="465.3" cy="1057.2"/><circle cx="463.0" cy="1035.6"/><circle cx="466.1" cy="1035.3"/><circle cx="462.6" cy="1036.4"/><circle cx="457.3" cy="1041.0"/><circle cx="457.1" cy="1046.7"/><circle cx="450.0" cy="1061.6"/><circle cx="453.6" cy="1069.6"/><circle cx="455.8" cy="1054.7"/><circle cx="449.9" cy="1079.9"/><circle cx="452.9" cy="1040.6"/><circle cx="451.3" cy="1053.9"/><circle cx="443.1" cy="1066.4"/><circle cx="438.9" cy="1059.7"/><circle cx="429.5" cy="1064.5"/><circle cx="428.1" cy="1070.3"/><circle cx="429.6" cy="1076.8"/><circle cx="439.7" cy="1086.6"/><circle cx="432.2" cy="1085.5"/><circle cx="427.0" cy="1093.2"/><circle cx="428.4" cy="1115.6"/><circle cx="424.4" cy="1124.2"/><circle cx="424.0" cy="1101.8"/><circle cx="429.1" cy="1097.7"/><circle cx="421.6" cy="1113.1"/><circle cx="419.0" cy="1118.6"/><circle cx="415.2" cy="1122.8"/><circle cx="414.8" cy="1135.2"/><circle cx="411.1" cy="1132.4"/><circle cx="410.4" cy="1138.3"/><circle cx="411.9" cy="1117.9"/><circle cx="410.2" cy="1104.2"/><circle cx="412.6" cy="1114.3"/><circle cx="416.5" cy="1094.1"/><circle cx="411.2" cy="1089.4"/><circle cx="411.9" cy="1092.2"/><circle cx="412.4" cy="1090.1"/><circle cx="412.3" cy="1101.6"/><circle cx="1200.4" cy="551.2"/><circle cx="1200.4" cy="554.7"/><circle cx="1199.4" cy="558.3"/><circle cx="1205.1" cy="551.5"/><circle cx="1203.6" cy="552.9"/><circle cx="1206.4" cy="548.0"/><circle cx="1206.8" cy="543.1"/><circle cx="1206.5" cy="547.0"/><circle cx="1202.9" cy="548.7"/><circle cx="1196.5" cy="549.0"/><circle cx="1196.9" cy="552.4"/><circle cx="1192.3" cy="555.3"/><circle cx="1188.3" cy="560.7"/><circle cx="1189.4" cy="562.8"/><circle cx="1188.5" cy="553.8"/><circle cx="1186.1" cy="546.4"/><circle cx="1183.1" cy="548.3"/><circle cx="1187.9" cy="540.2"/><circle cx="1184.5" cy="544.2"/><circle cx="1175.5" cy="564.3"/><circle cx="1168.7" cy="575.9"/><circle cx="1173.0" cy="579.6"/><circle cx="1172.6" cy="575.6"/><circle cx="1171.1" cy="579.4"/><circle cx="1168.3" cy="575.7"/><circle cx="1169.9" cy="571.4"/><circle cx="1172.9" cy="563.5"/><circle cx="1174.1" cy="555.9"/><circle cx="1173.6" cy="571.1"/><circle cx="1168.9" cy="565.8"/><circle cx="1161.9" cy="569.0"/><circle cx="1169.0" cy="561.0"/><circle cx="1173.1" cy="557.0"/><circle cx="1170.4" cy="572.7"/><circle cx="1175.1" cy="556.8"/><circle cx="1170.8" cy="562.6"/><circle cx="1173.7" cy="559.1"/><circle cx="1175.1" cy="561.9"/><circle cx="1173.6" cy="569.8"/><circle cx="1169.9" cy="577.5"/><circle cx="1173.9" cy="576.3"/><circle cx="1172.4" cy="577.1"/><circle cx="1162.7" cy="585.4"/><circle cx="1156.5" cy="575.8"/><circle cx="1159.8" cy="567.2"/><circle cx="1161.4" cy="566.5"/><circle cx="1153.7" cy="565.5"/><circle cx="1152.6" cy="569.5"/><circle cx="1152.9" cy="560.7"/><circle cx="1150.6" cy="563.0"/><circle cx="1037.5" cy="663.1"/><circle cx="1039.4" cy="654.6"/><circle cx="1035.8" cy="661.5"/><circle cx="1037.6" cy="650.8"/><circle cx="1042.1" cy="652.1"/><circle cx="1042.6" cy="653.0"/><circle cx="1046.8" cy="652.8"/><circle cx="1046.6" cy="653.0"/><circle cx="1052.9" cy="663.0"/><circle cx="1040.9" cy="665.3"/><circle cx="1030.1" cy="667.3"/><circle cx="1028.5" cy="659.7"/><circle cx="1030.9" cy="659.6"/><circle cx="1032.6" cy="645.0"/><circle cx="1031.9" cy="650.9"/><circle cx="1025.3" cy="638.8"/><circle cx="1025.4" cy="671.0"/><circle cx="1022.4" cy="671.8"/><circle cx="1025.3" cy="683.3"/><circle cx="1028.1" cy="678.5"/><circle cx="1028.2" cy="683.5"/><circle cx="1029.1" cy="687.7"/><circle cx="1026.2" cy="688.2"/><circle cx="1024.5" cy="683.5"/><circle cx="1024.0" cy="691.3"/><circle cx="1024.7" cy="690.5"/><circle cx="1025.1" cy="690.7"/><circle cx="1024.4" cy="688.6"/><circle cx="1015.1" cy="698.4"/><circle cx="1012.2" cy="695.2"/><circle cx="1008.3" cy="704.1"/><circle cx="1007.7" cy="703.0"/><circle cx="1009.1" cy="701.9"/><circle cx="1010.1" cy="697.2"/><circle cx="1015.1" cy="697.6"/><circle cx="1016.7" cy="689.1"/><circle cx="1014.9" cy="679.9"/><circle cx="1014.5" cy="663.3"/><circle cx="1011.5" cy="667.6"/><circle cx="1018.2" cy="666.8"/><circle cx="1015.7" cy="674.5"/><circle cx="1018.1" cy="675.8"/><circle cx="1022.1" cy="666.0"/><circle cx="1027.0" cy="647.4"/><circle cx="1027.1" cy="654.2"/><circle cx="1029.6" cy="647.9"/><circle cx="1021.0" cy="640.9"/><circle cx="1016.4" cy="646.2"/><circle cx="1025.0" cy="635.3"/><circle cx="1031.3" cy="631.7"/><circle cx="311.9" cy="1146.2"/><circle cx="320.2" cy="1147.5"/><circle cx="321.2" cy="1169.2"/><circle cx="320.8" cy="1174.7"/><circle cx="318.7" cy="1177.8"/><circle cx="322.6" cy="1172.8"/><circle cx="314.3" cy="1179.1"/><circle cx="317.5" cy="1160.5"/><circle cx="315.4" cy="1166.4"/><circle cx="304.9" cy="1170.9"/><circle cx="298.0" cy="1164.3"/><circle cx="299.8" cy="1172.2"/><circle cx="304.9" cy="1164.0"/><circle cx="307.1" cy="1148.5"/><circle cx="300.7" cy="1156.9"/><circle cx="298.9" cy="1151.6"/><circle cx="290.8" cy="1157.0"/><circle cx="300.5" cy="1164.6"/><circle cx="296.0" cy="1176.1"/><circle cx="287.7" cy="1176.2"/><circle cx="288.0" cy="1184.7"/><circle cx="287.7" cy="1181.7"/><circle cx="289.8" cy="1184.9"/><circle cx="287.3" cy="1183.8"/><circle cx="292.5" cy="1182.3"/><circle cx="289.3" cy="1183.8"/><circle cx="290.2" cy="1183.6"/><circle cx="288.9" cy="1184.4"/><circle cx="287.7" cy="1180.9"/><circle cx="290.0" cy="1184.2"/><circle cx="292.3" cy="1183.5"/><circle cx="290.3" cy="1183.5"/><circle cx="288.2" cy="1182.3"/><circle cx="286.4" cy="1184.1"/><circle cx="288.9" cy="1180.8"/><circle cx="290.6" cy="1185.4"/><circle cx="295.6" cy="1175.8"/><circle cx="292.5" cy="1173.5"/><circle cx="290.1" cy="1185.6"/><circle cx="286.8" cy="1173.4"/><circle cx="285.9" cy="1172.1"/><circle cx="293.6" cy="1170.4"/><circle cx="295.5" cy="1176.8"/><circle cx="291.6" cy="1169.6"/><circle cx="290.0" cy="1182.0"/><circle cx="294.3" cy="1174.9"/><circle cx="288.8" cy="1185.3"/><circle cx="293.6" cy="1174.0"/><circle cx="300.7" cy="1163.7"/><circle cx="303.9" cy="1160.1"/><circle cx="553.5" cy="998.1"/><circle cx="552.4" cy="1007.2"/><circle cx="563.8" cy="986.5"/><circle cx="564.0" cy="977.2"/><circle cx="564.8" cy="973.4"/><circle cx="566.4" cy="972.5"/><circle cx="564.7" cy="980.0"/><circle cx="567.8" cy="969.6"/><circle cx="570.9" cy="959.2"/><circle cx="568.0" cy="967.5"/><circle cx="572.8" cy="967.5"/><circle cx="584.2" cy="951.9"/><circle cx="586.0" cy="948.9"/><circle cx="578.1" cy="960.7"/><circle cx="579.0" cy="963.0"/><circle cx="579.5" cy="966.6"/><circle cx="579.1" cy="955.0"/><circle cx="580.5" cy="953.8"/><circle cx="578.2" cy="968.9"/><circle cx="579.0" cy="971.9"/><circle cx="586.9" cy="964.3"/><circle cx="589.5" cy="965.1"/><circle cx="588.0" cy="961.2"/><circle cx="585.6" cy="964.9"/><circle cx="590.0" cy="967.9"/><circle cx="581.6" cy="968.9"/><circle cx="585.8" cy="966.2"/><circle cx="590.9" cy="967.9"/><circle cx="592.9" cy="973.8"/><circle cx="599.3" cy="966.6"/><circle cx="596.3" cy="957.5"/><circle cx="598.4" cy="969.7"/><circle cx="600.3" cy="967.6"/><circle cx="602.5" cy="958.8"/><circle cx="604.4" cy="970.4"/><circle cx="606.1" cy="964.7"/><circle cx="607.8" cy="973.8"/><circle cx="609.3" cy="983.2"/><circle cx="610.3" cy="982.3"/><circle cx="607.6" cy="987.1"/><circle cx="610.6" cy="984.3"/><circle cx="615.4" cy="977.4"/><circle cx="608.9" cy="977.1"/><circle cx="616.3" cy="953.1"/><circle cx="614.9" cy="959.1"/><circle cx="620.2" cy="949.1"/><circle cx="622.1" cy="944.4"/><circle cx="622.6" cy="939.6"/><circle cx="624.2" cy="941.9"/><circle cx="621.1" cy="951.1"/><circle cx="1508.3" cy="311.3"/><circle cx="1505.7" cy="316.4"/><circle cx="1509.1" cy="314.5"/><circle cx="1507.8" cy="303.3"/><circle cx="1505.9" cy="297.6"/><circle cx="1503.4" cy="301.2"/><circle cx="1504.1" cy="325.2"/><circle cx="1500.2" cy="324.0"/><circle cx="1495.1" cy="325.3"/><circle cx="1493.9" cy="333.6"/><circle cx="1485.2" cy="345.6"/><circle cx="1488.0" cy="340.1"/><circle cx="1485.0" cy="343.3"/><circle cx="1487.3" cy="340.8"/><circle cx="1486.6" cy="341.3"/><circle cx="1481.8" cy="346.1"/><circle cx="1484.3" cy="345.0"/><circle cx="1479.2" cy="347.9"/><circle cx="1478.8" cy="350.4"/><circle cx="1476.9" cy="357.3"/><circle cx="1481.7" cy="353.0"/><circle cx="1482.8" cy="351.3"/><circle cx="1482.6" cy="350.3"/><circle cx="1476.2" cy="353.9"/><circle cx="1481.6" cy="344.2"/><circle cx="1485.0" cy="332.9"/><circle cx="1486.4" cy="345.4"/><circle cx="1486.6" cy="336.8"/><circle cx="1487.8" cy="335.0"/><circle cx="1491.4" cy="329.0"/><circle cx="1483.6" cy="330.4"/><circle cx="1486.2" cy="336.2"/><circle cx="1487.5" cy="335.6"/><circle cx="1490.5" cy="332.4"/><circle cx="1488.5" cy="335.3"/><circle cx="1493.3" cy="328.6"/><circle cx="1495.5" cy="322.5"/><circle cx="1492.2" cy="325.8"/><circle cx="1486.3" cy="323.5"/><circle cx="1480.9" cy="322.8"/><circle cx="1476.9" cy="341.7"/><circle cx="1479.5" cy="340.6"/><circle cx="1473.6" cy="328.1"/><circle cx="1475.5" cy="322.5"/><circle cx="1480.2" cy="316.5"/><circle cx="1474.3" cy="318.2"/><circle cx="1467.5" cy="330.7"/><circle cx="1470.6" cy="325.0"/><circle cx="1473.7" cy="319.0"/><circle cx="1472.6" cy="321.0"/><circle cx="676.2" cy="933.4"/><circle cx="678.4" cy="930.8"/><circle cx="678.2" cy="918.1"/><circle cx="683.2" cy="915.6"/><circle cx="697.1" cy="922.0"/><circle cx="702.3" cy="918.8"/><circle cx="700.0" cy="919.2"/><circle cx="705.4" cy="910.7"/><circle cx="702.8" cy="907.9"/><circle cx="705.1" cy="912.7"/><circle cx="708.0" cy="911.8"/><circle cx="703.5" cy="915.3"/><circle cx="703.7" cy="910.3"/><circle cx="705.2" cy="919.5"/><circle cx="703.7" cy="913.6"/><circle cx="704.3" cy="917.5"/><circle cx="701.4" cy="919.4"/><circle cx="702.4" cy="912.5"/><circle cx="698.4" cy="922.3"/><circle cx="698.7" cy="924.4"/><circle cx="708.5" cy="913.9"/><circle cx="707.1" cy="915.8"/><circle cx="704.1" cy="919.5"/><circle cx="706.2" cy="900.1"/><circle cx="705.1" cy="892.2"/><circle cx="710.8" cy="870.7"/><circle cx="713.5" cy="880.7"/><circle cx="719.6" cy="899.0"/><circle cx="720.9" cy="889.3"/><circle cx="720.7" cy="882.2"/><circle cx="725.7" cy="882.7"/><circle cx="730.1" cy="883.9"/><circle cx="733.6" cy="872.1"/><circle cx="733.3" cy="878.3"/><circle cx="728.3" cy="878.2"/><circle cx="730.6" cy="873.5"/><circle cx="725.8" cy="879.0"/><circle cx="723.7" cy="884.5"/><circle cx="719.6" cy="894.9"/><circle cx="720.9" cy="901.2"/><circle cx="710.4" cy="905.3"/><circle cx="706.3" cy="909.2"/><circle cx="711.6" cy="907.6"/><circle cx="710.4" cy="912.1"/><circle cx="704.2" cy="918.6"/><circle cx="699.9" cy="914.5"/><circle cx="698.8" cy="913.0"/><circle cx="704.0" cy="912.4"/><circle cx="699.5" cy="908.8"/><circle cx="700.0" cy="916.4"/><circle cx="805.5" cy="834.8"/><circle cx="805.1" cy="835.1"/><circle cx="805.3" cy="820.8"/><circle cx="816.0" cy="811.9"/><circle cx="814.5" cy="804.7"/><circle cx="813.9" cy="817.1"/><circle cx="810.4" cy="822.9"/><circle cx="814.9" cy="826.8"/><circle cx="813.1" cy="815.3"/><circle cx="814.8" cy="818.3"/><circle cx="813.3" cy="816.3"/><circle cx="821.0" cy="799.5"/><circle cx="818.7" cy="796.7"/><circle cx="811.6" cy="796.3"/><circle cx="807.9" cy="808.0"/><circle cx="800.0" cy="803.0"/><circle cx="801.1" cy="810.6"/><circle cx="792.1" cy="811.9"/><circle cx="786.6" cy="812.0"/><circle cx="785.8" cy="816.1"/><circle cx="782.8" cy="816.0"/><circle cx="785.9" cy="812.9"/><circle cx="789.1" cy="810.4"/><circle cx="791.2" cy="818.9"/><circle cx="785.0" cy="846.3"/><circle cx="783.4" cy="844.8"/><circle cx="782.6" cy="849.1"/><circle cx="777.1" cy="853.4"/><circle cx="774.4" cy="866.6"/><circle cx="766.6" cy="873.0"/><circle cx="765.1" cy="868.2"/><circle cx="765.6" cy="866.0"/><circle cx="765.7" cy="867.9"/><circle cx="771.1" cy="861.0"/><circle cx="778.5" cy="834.8"/><circle cx="786.5" cy="838.8"/><circle cx="793.5" cy="835.6"/><circle cx="794.6" cy="827.2"/><circle cx="800.6" cy="814.6"/><circle cx="796.9" cy="817.1"/><circle cx="797.9" cy="819.1"/><circle cx="792.6" cy="820.2"/><circle cx="794.7" cy="827.9"/><circle cx="798.0" cy="828.8"/><circle cx="796.8" cy="825.7"/><circle cx="794.4" cy="826.7"/><circle cx="796.7" cy="821.4"/><circle cx="805.8" cy="807.9"/><circle cx="809.4" cy="804.1"/><circle cx="808.7" cy="801.9"/><circle cx="1192.5" cy="526.5"/><circle cx="1186.4" cy="544.4"/><circle cx="1187.4" cy="537.7"/><circle cx="1187.6" cy="536.6"/><circle cx="1183.3" cy="537.8"/><circle cx="1192.3" cy="538.2"/><circle cx="1184.2" cy="531.9"/><circle cx="1180.2" cy="535.4"/><circle cx="1183.7" cy="538.6"/><circle cx="1188.3" cy="529.8"/><circle cx="1185.1" cy="529.4"/><circle cx="1184.6" cy="530.5"/><circle cx="1185.2" cy="534.5"/><circle cx="1186.5" cy="534.8"/><circle cx="1187.0" cy="541.3"/><circle cx="1184.3" cy="530.8"/><circle cx="1186.4" cy="542.4"/><circle cx="1180.0" cy="556.5"/><circle cx="1180.3" cy="562.2"/><circle cx="1177.1" cy="563.5"/><circle cx="1176.7" cy="575.0"/><circle cx="1179.9" cy="553.5"/><circle cx="1177.5" cy="549.7"/><circle cx="1171.7" cy="555.5"/><circle cx="1163.3" cy="552.6"/><circle cx="1152.8" cy="552.5"/><circle cx="1148.0" cy="556.8"/><circle cx="1151.9" cy="555.3"/><circle cx="1151.2" cy="555.9"/><circle cx="1149.2" cy="558.6"/><circle cx="1148.1" cy="573.6"/><circle cx="1150.0" cy="570.6"/><circle cx="1145.6" cy="569.4"/><circle cx="1149.2" cy="568.9"/><circle cx="1144.6" cy="570.5"/><circle cx="1143.1" cy="570.4"/><circle cx="1138.4" cy="567.4"/><circle cx="1140.5" cy="574.2"/><circle cx="1149.2" cy="562.4"/><circle cx="1145.1" cy="559.6"/><circle cx="1145.1" cy="558.8"/><circle cx="1144.0" cy="559.2"/><circle cx="1137.1" cy="561.7"/><circle cx="1131.9" cy="568.5"/><circle cx="1128.7" cy="574.9"/><circle cx="1126.0" cy="570.6"/><circle cx="1121.9" cy="575.8"/><circle cx="1120.3" cy="586.2"/><circle cx="1122.5" cy="581.6"/><circle cx="1119.2" cy="577.0"/><circle cx="1157.5" cy="564.7"/><circle cx="1151.3" cy="567.7"/><circle cx="1157.1" cy="559.1"/><circle cx="1154.8" cy="555.4"/><circle cx="1155.4" cy="551.5"/><circle cx="1159.3" cy="547.8"/><circle cx="1152.7" cy="555.4"/><circle cx="1138.4" cy="560.8"/><circle cx="1139.6" cy="561.7"/><circle cx="1137.0" cy="561.1"/><circle cx="1139.2" cy="584.0"/><circle cx="1135.5" cy="585.5"/><circle cx="1133.4" cy="590.6"/><circle cx="1133.4" cy="594.4"/><circle cx="1140.6" cy="587.8"/><circle cx="1139.3" cy="591.3"/><circle cx="1148.6" cy="582.8"/><circle cx="1156.1" cy="585.6"/><circle cx="1143.7" cy="587.5"/><circle cx="1139.3" cy="593.3"/><circle cx="1145.1" cy="589.8"/><circle cx="1145.8" cy="593.0"/><circle cx="1147.3" cy="588.4"/><circle cx="1143.2" cy="598.0"/><circle cx="1140.9" cy="583.8"/><circle cx="1137.1" cy="583.4"/><circle cx="1136.9" cy="588.7"/><circle cx="1139.9" cy="590.1"/><circle cx="1136.5" cy="604.2"/><circle cx="1141.8" cy="601.0"/><circle cx="1139.1" cy="602.6"/><circle cx="1138.1" cy="598.9"/><circle cx="1137.9" cy="594.7"/><circle cx="1140.7" cy="588.7"/><circle cx="1142.9" cy="589.5"/><circle cx="1143.5" cy="592.5"/><circle cx="1138.9" cy="593.3"/><circle cx="1135.7" cy="600.3"/><circle cx="1135.7" cy="597.6"/><circle cx="1143.5" cy="599.7"/><circle cx="1142.2" cy="597.1"/><circle cx="1145.2" cy="591.9"/><circle cx="1149.7" cy="587.9"/><circle cx="1148.5" cy="581.2"/><circle cx="1149.6" cy="586.2"/><circle cx="1147.8" cy="591.9"/><circle cx="1148.3" cy="588.6"/><circle cx="1142.8" cy="599.8"/><circle cx="1154.1" cy="589.6"/><circle cx="1149.2" cy="586.2"/><circle cx="377.3" cy="1154.7"/><circle cx="378.6" cy="1147.2"/><circle cx="383.9" cy="1151.1"/><circle cx="391.0" cy="1156.0"/><circle cx="393.1" cy="1146.6"/><circle cx="396.4" cy="1151.0"/><circle cx="396.4" cy="1147.8"/><circle cx="395.7" cy="1142.6"/><circle cx="393.8" cy="1148.9"/><circle cx="398.6" cy="1150.4"/><circle cx="395.6" cy="1130.4"/><circle cx="401.6" cy="1115.5"/><circle cx="395.1" cy="1119.1"/><circle cx="392.6" cy="1132.2"/><circle cx="388.1" cy="1132.1"/><circle cx="379.9" cy="1145.5"/><circle cx="387.2" cy="1139.1"/><circle cx="389.6" cy="1129.7"/><circle cx="392.4" cy="1131.2"/><circle cx="384.8" cy="1137.0"/><circle cx="383.8" cy="1112.3"/><circle cx="384.5" cy="1102.3"/><circle cx="389.3" cy="1103.2"/><circle cx="385.0" cy="1126.8"/><circle cx="389.6" cy="1115.3"/><circle cx="390.7" cy="1096.3"/><circle cx="385.9" cy="1098.3"/><circle cx="393.5" cy="1086.7"/><circle cx="381.6" cy="1103.8"/><circle cx="386.2" cy="1116.3"/><circle cx="382.4" cy="1115.9"/><circle cx="386.6" cy="1123.7"/><circle cx="388.5" cy="1117.0"/><circle cx="399.1" cy="1089.1"/><circle cx="401.0" cy="1101.2"/><circle cx="397.0" cy="1105.2"/><circle cx="399.6" cy="1109.4"/><circle cx="407.6" cy="1095.6"/><circle cx="412.6" cy="1087.8"/><circle cx="411.0" cy="1089.0"/><circle cx="405.7" cy="1099.7"/><circle cx="407.4" cy="1098.3"/><circle cx="406.6" cy="1095.9"/><circle cx="409.6" cy="1092.3"/><circle cx="407.4" cy="1078.8"/><circle cx="408.7" cy="1090.0"/><circle cx="406.2" cy="1095.2"/><circle cx="405.0" cy="1098.6"/><circle cx="401.8" cy="1083.3"/><circle cx="397.4" cy="1083.5"/><circle cx="473.2" cy="1071.7"/><circle cx="471.5" cy="1076.8"/><circle cx="471.3" cy="1075.2"/><circle cx="472.4" cy="1071.5"/><circle cx="473.9" cy="1064.2"/><circle cx="467.0" cy="1066.2"/><circle cx="475.4" cy="1051.7"/><circle cx="479.5" cy="1062.8"/><circle cx="477.1" cy="1067.4"/><circle cx="466.8" cy="1081.1"/><circle cx="473.7" cy="1078.0"/><circle cx="464.8" cy="1078.7"/><circle cx="461.4" cy="1082.5"/><circle cx="462.7" cy="1077.3"/><circle cx="461.3" cy="1069.8"/><circle cx="463.8" cy="1070.1"/><circle cx="465.4" cy="1063.8"/><circle cx="467.6" cy="1059.2"/><circle cx="468.9" cy="1056.6"/><circle cx="465.9" cy="1047.3"/><circle cx="457.5" cy="1038.9"/><circle cx="459.6" cy="1072.2"/><circle cx="452.2" cy="1069.0"/><circle cx="452.1" cy="1107.2"/><circle cx="451.2" cy="1095.6"/><circle cx="453.1" cy="1102.7"/><circle cx="440.5" cy="1099.7"/><circle cx="446.1" cy="1083.1"/><circle cx="445.6" cy="1076.8"/><circle cx="449.0" cy="1058.8"/><circle cx="450.4" cy="1060.2"/><circle cx="452.9" cy="1063.1"/><circle cx="453.6" cy="1043.7"/><circle cx="452.2" cy="1046.8"/><circle cx="454.5" cy="1042.7"/><circle cx="455.2" cy="1054.1"/><circle cx="454.7" cy="1072.5"/><circle cx="458.5" cy="1054.0"/><circle cx="455.8" cy="1069.0"/><circle cx="453.6" cy="1083.5"/><circle cx="451.1" cy="1084.1"/><circle cx="455.7" cy="1064.0"/><circle cx="456.0" cy="1058.9"/><circle cx="456.8" cy="1076.7"/><circle cx="459.0" cy="1060.8"/><circle cx="463.3" cy="1052.9"/><circle cx="464.0" cy="1064.7"/><circle cx="462.6" cy="1076.0"/><circle cx="463.4" cy="1065.9"/><circle cx="462.0" cy="1052.5"/><circle cx="1433.9" cy="277.5"/><circle cx="1538.3" cy="277.5"/><circle cx="1596.2" cy="283.4"/><circle cx="1463.2" cy="277.5"/><circle cx="1541.1" cy="277.5"/><circle cx="1532.7" cy="277.5"/><circle cx="1537.9" cy="277.5"/><circle cx="1548.8" cy="278.3"/><circle cx="1578.3" cy="277.5"/><circle cx="1596.2" cy="277.5"/><circle cx="1518.6" cy="277.5"/><circle cx="1591.5" cy="277.5"/><circle cx="1520.0" cy="277.5"/><circle cx="1584.1" cy="277.5"/><circle cx="1519.4" cy="284.9"/><circle cx="1566.8" cy="277.5"/><circle cx="1456.6" cy="277.5"/><circle cx="1511.7" cy="286.9"/><circle cx="1497.1" cy="277.5"/><circle cx="1476.1" cy="286.5"/><circle cx="1516.7" cy="277.5"/><circle cx="1514.1" cy="281.2"/><circle cx="1523.4" cy="277.5"/><circle cx="1554.7" cy="277.5"/><circle cx="1527.5" cy="277.5"/><circle cx="1534.7" cy="277.5"/><circle cx="1566.5" cy="277.5"/><circle cx="1471.2" cy="277.5"/><circle cx="1475.8" cy="277.5"/><circle cx="1433.2" cy="280.3"/><circle cx="1563.0" cy="277.5"/><circle cx="1457.3" cy="277.5"/><circle cx="1563.7" cy="277.5"/><circle cx="1553.2" cy="288.1"/><circle cx="1549.6" cy="290.5"/><circle cx="1479.0" cy="277.5"/><circle cx="1522.9" cy="277.5"/><circle cx="1572.6" cy="277.5"/><circle cx="1514.1" cy="283.5"/><circle cx="1550.2" cy="277.5"/></g>
<line x1="285.3" y1="1199.5" x2="1888.9" y2="47.0" stroke="#00f" stroke-width="8" stroke-linecap="round"/>
<line x1="285.3" y1="1199.5" x2="1717.1" y2="47.0" stroke="#f00" stroke-width="7" stroke-linecap="round" stroke-dasharray="36.97 20.03" stroke-dashoffset="3.59"/><line x1="285.3" y1="1199.5" x2="1888.9" y2="185.3" stroke="#f00" stroke-width="7" stroke-linecap="round" stroke-dasharray="34.08 18.46" stroke-dashoffset="3.31"/>
<circle cx="382" cy="124.0" r="15" class="pt"/>
<line x1="322" y1="193.3" x2="444" y2="193.3" stroke="#00f" stroke-width="7" stroke-linecap="round"/>
<text x="475.5" y="143.8" class="tt" style="font-size:54.7px">Random tree (RT) model</text>
<text x="475" y="212.8" class="tt" style="font-size:54.7px">Line of perfect agreement (1:1)</text>
<text x="782" y="405.7" text-anchor="middle" class="tk" style="font-size:54.4px"><tspan font-style="italic">R</tspan><tspan font-size="36" dx="-2.5" dy="-16">2</tspan><tspan dx="2.5" dy="16"> = 0.9994 (</tspan><tspan font-weight="bold">training set</tspan>)</text>
<text x="781" y="470.0" text-anchor="middle" class="tk" style="font-size:54.3px"><tspan font-style="italic">y</tspan> = 0.9994 <tspan font-style="italic">x</tspan> + 0.6450</text>
<path transform="translate(0,0)" d="M 840.8 532.0 C 842.4 535.0, 848.3 543.9, 850.5 550.0 C 852.7 556.1, 853.9 563.0, 853.9 568.9 C 853.9 574.8, 852.7 578.3, 850.6 585.2 C 848.5 592.1, 844.2 602.9, 841.4 610.2 C 838.6 617.5, 835.5 623.9, 833.8 629.0 C 832.0 634.1, 830.6 638.2, 830.9 641.0 C 831.2 643.8, 832.7 645.6, 835.5 645.6 C 838.3 645.6, 838.9 646.7, 847.6 641.0 C 856.3 635.3, 872.7 623.5, 887.7 611.5 C 902.7 599.5, 921.1 582.9, 937.8 568.9 C 954.5 554.9, 975.6 537.2, 988.0 527.5 C 1000.4 517.8, 1006.8 513.2, 1012.0 510.5 C 1017.2 507.8, 1019.0 509.8, 1019.5 511.5 C 1020.0 513.2, 1018.2 515.6, 1015.0 521.0 C 1011.8 526.4, 1008.7 532.7, 1000.0 543.8 C 991.3 554.9, 972.2 575.6, 962.9 587.7 C 953.6 599.8, 948.1 608.6, 944.1 616.5 C 940.1 624.4, 938.9 629.9, 939.1 635.3 C 939.3 640.7, 942.1 645.8, 945.4 649.1 C 948.7 652.5, 953.0 653.6, 959.1 655.4 C 965.2 657.2, 977.9 659.0, 981.7 659.7" fill="none" stroke="#000" stroke-width="6.2" stroke-linecap="butt" stroke-linejoin="round"/>
<path transform="translate(0,0)" d="M 816.9 506.4 L 848.6 525.2 L 832.8 539.2 Z" fill="#000" stroke="#000" stroke-width="1.5" stroke-linejoin="round"/>
<ellipse cx="1457.0" cy="693.0" rx="62" ry="62" fill="#fff" stroke="#000" stroke-width="5"/>
<text x="1458.0" y="712.0" text-anchor="middle" class="dg">RSG</text>
<ellipse cx="1597.5" cy="686.0" rx="62" ry="62" fill="#fff" stroke="#000" stroke-width="5"/>
<text x="1600.0" y="705.0" text-anchor="middle" class="dg">VN</text>
<ellipse cx="1342.0" cy="772.0" rx="62" ry="62" fill="#fff" stroke="#000" stroke-width="5"/>
<text x="1345.0" y="790.5" text-anchor="middle" class="dg">GT</text>
<ellipse cx="1311.0" cy="912.0" rx="62.5" ry="62.5" fill="#fff" stroke="#000" stroke-width="5"/>
<text x="1314.8" y="931.6" text-anchor="middle" class="dg">PA</text>
<ellipse cx="1355.0" cy="1040.0" rx="61.5" ry="61" fill="#fff" stroke="#000" stroke-width="5"/>
<text x="1357.7" y="1060.3" text-anchor="middle" class="dg">AT</text>
<ellipse cx="1468.3" cy="1112.0" rx="62.5" ry="62.5" fill="#fff" stroke="#000" stroke-width="5"/>
<text x="1471.5" y="1133.3" text-anchor="middle" class="dg">WD</text>
<ellipse cx="1610.4" cy="1114.0" rx="61.5" ry="61.5" fill="#fff" stroke="#000" stroke-width="5"/>
<text x="1612.5" y="1135.0" text-anchor="middle" class="dg">WS</text>
<ellipse cx="1782.2" cy="899.3" rx="82.7" ry="62.5" fill="#fff" stroke="#000" stroke-width="5"/>
<text x="1781.3" y="919.6" text-anchor="middle" class="dg">WTOP</text>
<circle cx="1535.7" cy="900.0" r="70.5" fill="#ff0" stroke="#000" stroke-width="5.5"/>
<text x="1511.2" y="915.6" class="dgb" textLength="53.5" lengthAdjust="spacingAndGlyphs">RT</text>
<polygon points="1382.0,919.5 1416.0,919.5 1416.0,926.5 1460.0,910.5 1416.0,894.5 1416.0,901.5 1382.0,901.5" fill="#000"/>
<polygon points="1469.4,761.6 1480.5,793.4 1473.9,795.7 1503.6,831.9 1504.1,785.1 1497.5,787.4 1486.4,755.6" fill="#000"/>
<polygon points="1575.2,750.7 1564.1,782.6 1557.5,780.3 1558.2,827.1 1587.7,790.8 1581.1,788.5 1592.2,756.5" fill="#000"/>
<polygon points="1386.9,828.2 1413.6,849.3 1409.3,854.8 1453.7,869.6 1429.2,829.7 1424.8,835.2 1398.1,814.0" fill="#000"/>
<polygon points="1416.8,1002.0 1442.7,979.0 1447.3,984.3 1469.6,943.1 1426.1,960.3 1430.7,965.6 1404.8,988.6" fill="#000"/>
<polygon points="1497.1,1050.0 1508.9,1018.2 1515.5,1020.6 1515.8,973.8 1485.5,1009.5 1492.1,1011.9 1480.3,1043.8" fill="#000"/>
<polygon points="1596.9,1044.1 1586.5,1012.7 1593.1,1010.5 1564.0,973.8 1562.8,1020.6 1569.4,1018.4 1579.9,1049.7" fill="#000"/>
<polygon points="1615.0,911.5 1650.0,911.5 1650.0,918.5 1694.0,902.5 1650.0,886.5 1650.0,893.5 1615.0,893.5" fill="#000"/>
<circle cx="1786" cy="521" r="67.3" fill="none" stroke="#000" stroke-width="6"/>
<text x="1787" y="548.5" text-anchor="middle" class="tk" style="font-size:95px">a</text>
<text transform="translate(1160.0,432.6) rotate(-38.83)" class="rt">+12% Error Line</text>
<text transform="translate(1402.9,590.0) rotate(-32.60)" class="rt">-12% Error Line</text>
<rect x="285.3" y="1490.5" width="1603.6" height="1152.5" fill="none" stroke="#000" stroke-width="6"/>
<line x1="285.3" y1="2643.0" x2="285.3" y2="2661.5" stroke="#000" stroke-width="4" stroke-linecap="round"/>
<line x1="267.3" y1="2643.0" x2="285.3" y2="2643.0" stroke="#000" stroke-width="4" stroke-linecap="round"/>
<text x="284.5" y="2735.7" text-anchor="middle" class="tk">0</text>
<text x="240.5" y="2661.7" text-anchor="end" class="tk">0</text>
<line x1="606.0" y1="2643.0" x2="606.0" y2="2661.5" stroke="#000" stroke-width="4" stroke-linecap="round"/>
<line x1="267.3" y1="2412.5" x2="285.3" y2="2412.5" stroke="#000" stroke-width="4" stroke-linecap="round"/>
<text x="605.2" y="2735.7" text-anchor="middle" class="tk">500</text>
<text x="240.5" y="2431.2" text-anchor="end" class="tk">500</text>
<line x1="926.7" y1="2643.0" x2="926.7" y2="2661.5" stroke="#000" stroke-width="4" stroke-linecap="round"/>
<line x1="267.3" y1="2182.0" x2="285.3" y2="2182.0" stroke="#000" stroke-width="4" stroke-linecap="round"/>
<text x="925.9" y="2735.7" text-anchor="middle" class="tk">1000</text>
<text x="240.5" y="2200.7" text-anchor="end" class="tk">1000</text>
<line x1="1247.5" y1="2643.0" x2="1247.5" y2="2661.5" stroke="#000" stroke-width="4" stroke-linecap="round"/>
<line x1="267.3" y1="1951.5" x2="285.3" y2="1951.5" stroke="#000" stroke-width="4" stroke-linecap="round"/>
<text x="1246.7" y="2735.7" text-anchor="middle" class="tk">1500</text>
<text x="240.5" y="1970.2" text-anchor="end" class="tk">1500</text>
<line x1="1568.2" y1="2643.0" x2="1568.2" y2="2661.5" stroke="#000" stroke-width="4" stroke-linecap="round"/>
<line x1="267.3" y1="1721.0" x2="285.3" y2="1721.0" stroke="#000" stroke-width="4" stroke-linecap="round"/>
<text x="1567.4" y="2735.7" text-anchor="middle" class="tk">2000</text>
<text x="240.5" y="1739.7" text-anchor="end" class="tk">2000</text>
<line x1="1888.9" y1="2643.0" x2="1888.9" y2="2661.5" stroke="#000" stroke-width="4" stroke-linecap="round"/>
<line x1="267.3" y1="1490.5" x2="285.3" y2="1490.5" stroke="#000" stroke-width="4" stroke-linecap="round"/>
<text x="1888.1" y="2735.7" text-anchor="middle" class="tk">2500</text>
<text x="240.5" y="1509.2" text-anchor="end" class="tk">2500</text>
<text x="1086" y="2838.5" text-anchor="middle" class="tt" style="font-size:54.3px">Actual wind turbine output power (kW)</text>
<text transform="translate(68,2066.1) rotate(-90)" x="0" y="0" text-anchor="middle" class="tt" style="font-size:54.4px">Predicted wind turbine output power (kW)</text>
<g class="sq"><rect x="280.0" y="2602.1"/><rect x="1399.6" y="1823.6"/><rect x="1462.7" y="1789.3"/><rect x="1501.1" y="1869.1"/><rect x="770.2" y="2280.7"/><rect x="1567.5" y="1733.8"/><rect x="499.7" y="2467.4"/><rect x="304.3" y="2611.0"/><rect x="472.0" y="2455.2"/><rect x="1227.1" y="1847.0"/><rect x="1548.3" y="1820.7"/><rect x="329.0" y="2571.4"/><rect x="1053.1" y="2011.4"/><rect x="281.1" y="2591.5"/><rect x="1298.1" y="1823.6"/><rect x="371.8" y="2557.4"/><rect x="1303.2" y="1837.1"/><rect x="682.6" y="2324.7"/><rect x="1403.2" y="1804.8"/><rect x="272.2" y="2601.6"/><rect x="1159.9" y="1907.4"/><rect x="543.0" y="2392.5"/><rect x="1533.9" y="1888.1"/><rect x="1236.9" y="1925.2"/><rect x="809.4" y="2239.6"/><rect x="405.2" y="2498.0"/><rect x="325.7" y="2566.1"/><rect x="1477.6" y="1717.1"/><rect x="565.4" y="2453.0"/><rect x="1312.8" y="1795.5"/><rect x="883.8" y="2163.2"/><rect x="1540.3" y="1774.9"/><rect x="1573.3" y="1703.2"/><rect x="635.2" y="2384.0"/><rect x="1085.1" y="2019.8"/><rect x="1370.4" y="1885.6"/><rect x="296.1" y="2612.5"/><rect x="1242.4" y="1946.0"/><rect x="1548.0" y="1856.7"/><rect x="1556.2" y="1784.3"/><rect x="291.1" y="2583.5"/><rect x="1058.4" y="2064.5"/><rect x="355.9" y="2560.7"/><rect x="278.1" y="2603.8"/><rect x="1310.6" y="1847.0"/><rect x="1074.8" y="2095.4"/><rect x="1082.6" y="1997.6"/><rect x="666.8" y="2308.8"/><rect x="1120.5" y="1968.0"/><rect x="1292.2" y="1890.5"/><rect x="1321.4" y="1867.6"/><rect x="701.2" y="2337.9"/><rect x="1553.2" y="1832.1"/><rect x="678.0" y="2290.1"/><rect x="1112.8" y="2022.2"/><rect x="383.3" y="2529.7"/><rect x="1464.5" y="1869.5"/><rect x="323.1" y="2593.0"/><rect x="663.9" y="2365.0"/><rect x="791.5" y="2229.4"/><rect x="763.3" y="2260.3"/><rect x="541.4" y="2413.3"/><rect x="606.3" y="2394.4"/><rect x="1200.2" y="1823.6"/><rect x="1506.9" y="1728.9"/><rect x="708.0" y="2331.7"/><rect x="1513.8" y="1820.7"/><rect x="1255.8" y="1877.6"/><rect x="291.3" y="2610.2"/><rect x="1528.2" y="1804.8"/><rect x="438.7" y="2471.9"/><rect x="1529.9" y="1856.6"/><rect x="1332.2" y="1782.5"/><rect x="989.2" y="2071.6"/><rect x="304.9" y="2579.9"/><rect x="1267.1" y="1940.7"/><rect x="601.4" y="2360.7"/><rect x="729.3" y="2342.4"/><rect x="1142.1" y="1988.1"/><rect x="1206.3" y="1847.0"/><rect x="1471.8" y="1847.0"/><rect x="1421.4" y="1804.8"/><rect x="1207.8" y="1886.0"/><rect x="1019.6" y="2051.8"/><rect x="1553.7" y="1793.0"/><rect x="1253.6" y="1809.8"/><rect x="1272.1" y="1888.1"/><rect x="1175.3" y="1956.2"/><rect x="281.1" y="2611.7"/><rect x="1505.6" y="1847.0"/><rect x="787.2" y="2258.0"/><rect x="544.0" y="2415.3"/><rect x="1571.8" y="1758.4"/><rect x="1197.1" y="2010.1"/><rect x="873.2" y="2136.2"/><rect x="1316.3" y="1847.0"/><rect x="1412.9" y="1860.9"/><rect x="1224.2" y="1936.2"/><rect x="1325.7" y="1856.6"/><rect x="308.2" y="2588.1"/><rect x="1546.7" y="1820.7"/><rect x="1291.7" y="1837.1"/><rect x="1548.4" y="1804.8"/><rect x="1345.8" y="1755.9"/><rect x="910.7" y="2137.7"/><rect x="444.3" y="2476.9"/><rect x="408.3" y="2547.0"/><rect x="732.3" y="2292.1"/><rect x="1245.0" y="1898.4"/><rect x="322.2" y="2600.5"/><rect x="1506.4" y="1851.4"/><rect x="1540.7" y="1758.4"/><rect x="1476.0" y="1755.9"/><rect x="1378.6" y="1758.4"/><rect x="1286.2" y="1968.0"/><rect x="1185.5" y="1888.1"/><rect x="1079.9" y="1990.5"/><rect x="1550.5" y="1733.8"/><rect x="1335.6" y="1773.5"/><rect x="534.5" y="2421.9"/><rect x="1474.6" y="1756.9"/><rect x="1018.1" y="2042.3"/><rect x="511.5" y="2475.9"/><rect x="1342.6" y="1898.4"/><rect x="1341.3" y="1932.3"/><rect x="1464.1" y="1867.6"/><rect x="1408.4" y="1828.4"/><rect x="888.1" y="2189.9"/><rect x="1334.7" y="1867.6"/><rect x="1102.1" y="2060.9"/><rect x="631.7" y="2335.7"/><rect x="291.9" y="2579.3"/><rect x="1274.4" y="1874.5"/><rect x="924.2" y="2174.3"/><rect x="327.8" y="2575.7"/><rect x="504.5" y="2445.3"/><rect x="355.7" y="2604.3"/><rect x="953.4" y="2173.7"/><rect x="1104.3" y="1951.5"/><rect x="1251.7" y="1893.7"/><rect x="288.7" y="2588.0"/><rect x="1238.3" y="1890.2"/><rect x="1322.2" y="1860.1"/><rect x="1292.6" y="1898.4"/><rect x="803.9" y="2215.7"/><rect x="1530.4" y="1847.0"/><rect x="1155.8" y="2054.7"/><rect x="1185.4" y="1938.6"/><rect x="564.5" y="2372.7"/><rect x="1193.2" y="1936.2"/><rect x="1415.6" y="1888.1"/><rect x="301.3" y="2593.4"/><rect x="304.0" y="2590.9"/><rect x="814.5" y="2251.6"/><rect x="1293.3" y="1917.3"/><rect x="312.2" y="2591.1"/><rect x="846.8" y="2230.9"/><rect x="1277.9" y="1990.5"/><rect x="336.4" y="2561.0"/><rect x="1250.1" y="1917.8"/><rect x="562.9" y="2383.8"/><rect x="1305.0" y="1823.6"/><rect x="1567.4" y="1728.9"/><rect x="1188.9" y="1855.3"/><rect x="1172.9" y="1943.8"/><rect x="1220.8" y="1823.9"/><rect x="312.0" y="2600.2"/><rect x="794.9" y="2263.2"/><rect x="688.4" y="2353.6"/><rect x="503.7" y="2506.0"/><rect x="1440.5" y="1845.7"/><rect x="1503.2" y="1877.6"/><rect x="488.8" y="2456.6"/><rect x="1382.7" y="1823.6"/><rect x="779.1" y="2295.5"/><rect x="1415.1" y="1877.6"/><rect x="671.1" y="2362.9"/><rect x="1091.3" y="1973.9"/><rect x="293.6" y="2612.4"/><rect x="598.6" y="2382.1"/><rect x="1542.8" y="1860.6"/><rect x="1182.8" y="2044.0"/><rect x="1553.3" y="1804.8"/><rect x="1210.6" y="1912.5"/><rect x="549.0" y="2412.3"/><rect x="308.5" y="2584.2"/><rect x="1199.6" y="1912.5"/><rect x="1487.5" y="1870.8"/><rect x="873.7" y="2175.6"/><rect x="1038.3" y="1990.5"/><rect x="1256.9" y="1997.6"/><rect x="1341.0" y="1894.3"/><rect x="280.2" y="2610.2"/><rect x="340.8" y="2598.9"/><rect x="1354.6" y="1958.2"/><rect x="375.6" y="2555.8"/><rect x="501.2" y="2506.9"/><rect x="1259.9" y="1820.7"/><rect x="633.9" y="2363.4"/><rect x="1145.0" y="1990.5"/><rect x="1417.1" y="1717.1"/><rect x="1345.1" y="1961.4"/><rect x="780.2" y="2242.0"/><rect x="1125.3" y="2071.5"/><rect x="814.4" y="2216.2"/><rect x="326.1" y="2594.4"/><rect x="1562.3" y="1831.3"/><rect x="321.0" y="2569.2"/><rect x="1089.7" y="2043.0"/><rect x="280.8" y="2590.5"/><rect x="1473.8" y="1820.7"/><rect x="1332.4" y="1820.9"/><rect x="559.1" y="2385.9"/><rect x="1546.8" y="1856.6"/><rect x="956.2" y="2136.6"/><rect x="339.6" y="2595.6"/><rect x="443.3" y="2500.9"/><rect x="1154.3" y="1997.6"/><rect x="1017.4" y="2041.1"/><rect x="1455.2" y="1838.9"/><rect x="1417.6" y="1769.1"/><rect x="1503.2" y="1867.6"/><rect x="1268.7" y="1867.6"/><rect x="902.6" y="2181.4"/><rect x="1034.4" y="2130.6"/><rect x="518.5" y="2442.1"/><rect x="704.5" y="2320.1"/><rect x="1548.2" y="1733.8"/><rect x="1265.9" y="1874.8"/><rect x="1036.5" y="2057.1"/><rect x="729.6" y="2306.5"/><rect x="732.6" y="2298.6"/><rect x="1471.5" y="1820.7"/><rect x="1500.8" y="1804.8"/><rect x="1534.2" y="1709.3"/><rect x="1259.8" y="1837.1"/><rect x="1482.7" y="1787.2"/><rect x="324.6" y="2597.6"/><rect x="427.1" y="2507.3"/><rect x="1322.5" y="1877.7"/><rect x="1510.3" y="1755.9"/><rect x="1256.9" y="1889.6"/><rect x="696.9" y="2315.1"/><rect x="1288.5" y="1956.4"/><rect x="314.8" y="2614.0"/><rect x="1215.3" y="1837.1"/><rect x="1482.9" y="1820.7"/><rect x="1208.8" y="1888.1"/><rect x="1340.0" y="1823.6"/><rect x="1415.8" y="1837.3"/><rect x="1150.4" y="1917.3"/><rect x="1184.1" y="2031.2"/><rect x="1321.1" y="1936.2"/><rect x="341.9" y="2605.4"/><rect x="1219.0" y="1936.2"/><rect x="282.0" y="2614.2"/><rect x="1320.2" y="1787.2"/><rect x="278.6" y="2610.5"/><rect x="1365.5" y="1942.3"/><rect x="1308.8" y="1917.3"/><rect x="711.2" y="2330.6"/><rect x="1447.2" y="1733.8"/><rect x="333.7" y="2598.6"/><rect x="1186.7" y="1867.6"/><rect x="677.8" y="2290.3"/><rect x="809.6" y="2265.7"/><rect x="1549.4" y="1804.8"/><rect x="1300.6" y="1858.6"/><rect x="276.4" y="2605.1"/><rect x="1263.2" y="1979.3"/><rect x="1337.5" y="1769.1"/><rect x="1402.0" y="1885.5"/><rect x="891.6" y="2133.4"/><rect x="1469.9" y="1755.9"/><rect x="1175.6" y="1898.4"/><rect x="435.9" y="2502.5"/><rect x="1178.3" y="1936.2"/><rect x="1211.8" y="1966.4"/><rect x="895.1" y="2152.4"/><rect x="1542.6" y="1774.9"/><rect x="1492.4" y="1780.0"/><rect x="471.4" y="2470.3"/><rect x="1456.9" y="1717.1"/><rect x="1050.4" y="2113.6"/><rect x="841.6" y="2223.0"/><rect x="480.1" y="2520.8"/><rect x="1493.0" y="1870.9"/><rect x="1452.6" y="1820.7"/><rect x="776.5" y="2238.1"/><rect x="1332.4" y="1955.3"/><rect x="1376.2" y="1852.7"/><rect x="1386.9" y="1788.9"/><rect x="1145.8" y="1955.3"/><rect x="294.5" y="2612.1"/><rect x="328.4" y="2610.9"/><rect x="329.3" y="2566.0"/><rect x="1456.0" y="1736.1"/><rect x="1441.0" y="1856.6"/><rect x="1264.1" y="1911.5"/><rect x="1529.6" y="1867.6"/><rect x="1230.6" y="1898.4"/><rect x="1336.9" y="1898.4"/><rect x="361.6" y="2554.1"/><rect x="1287.0" y="1823.6"/><rect x="333.6" y="2584.5"/><rect x="577.7" y="2406.4"/><rect x="913.6" y="2146.6"/><rect x="1081.3" y="2031.5"/><rect x="1511.7" y="1828.4"/><rect x="1394.7" y="1769.1"/><rect x="423.0" y="2543.3"/><rect x="1359.1" y="1805.6"/><rect x="1500.6" y="1826.2"/><rect x="1297.5" y="1777.1"/><rect x="287.6" y="2610.7"/><rect x="817.6" y="2239.6"/><rect x="467.5" y="2460.5"/><rect x="1218.5" y="1877.6"/><rect x="1385.2" y="1804.4"/><rect x="621.8" y="2363.8"/><rect x="569.5" y="2401.9"/><rect x="1179.6" y="2011.4"/><rect x="1301.1" y="1784.9"/><rect x="287.4" y="2602.9"/><rect x="1433.9" y="1755.9"/><rect x="1459.7" y="1758.4"/><rect x="491.5" y="2477.9"/><rect x="1432.9" y="1820.7"/><rect x="290.5" y="2611.7"/><rect x="1230.0" y="1874.8"/><rect x="1206.9" y="1984.8"/><rect x="650.1" y="2315.4"/><rect x="658.0" y="2369.5"/><rect x="318.6" y="2587.2"/><rect x="297.2" y="2595.0"/><rect x="698.4" y="2335.2"/><rect x="1309.2" y="1951.5"/><rect x="1520.4" y="1755.9"/><rect x="310.8" y="2585.6"/><rect x="283.0" y="2609.2"/><rect x="1256.5" y="1955.3"/><rect x="1482.7" y="1862.5"/><rect x="1221.6" y="1832.2"/><rect x="1090.6" y="1963.7"/><rect x="1291.9" y="1874.8"/><rect x="1268.5" y="1894.3"/><rect x="1154.6" y="2045.5"/><rect x="394.9" y="2572.6"/><rect x="539.0" y="2466.6"/><rect x="1294.7" y="1828.4"/><rect x="809.3" y="2203.6"/><rect x="454.3" y="2466.8"/><rect x="974.6" y="2067.3"/><rect x="914.1" y="2168.3"/><rect x="1534.6" y="1867.6"/><rect x="1014.9" y="2017.3"/><rect x="1213.4" y="1988.1"/><rect x="350.3" y="2573.2"/><rect x="1456.2" y="1773.5"/><rect x="1297.8" y="1965.0"/><rect x="713.3" y="2265.1"/><rect x="440.9" y="2516.8"/><rect x="1224.1" y="1936.2"/><rect x="1301.1" y="1856.6"/><rect x="624.5" y="2382.0"/><rect x="1454.4" y="1808.8"/><rect x="1146.9" y="1997.6"/><rect x="878.7" y="2130.3"/><rect x="458.1" y="2479.1"/><rect x="1366.0" y="1856.6"/><rect x="1395.7" y="1898.4"/><rect x="1445.5" y="1856.6"/><rect x="583.1" y="2425.7"/><rect x="400.8" y="2563.9"/><rect x="1336.5" y="1847.0"/><rect x="1396.0" y="1879.2"/><rect x="1487.9" y="1755.9"/><rect x="732.5" y="2296.0"/><rect x="1406.9" y="1823.6"/><rect x="1230.0" y="1979.3"/><rect x="1258.8" y="1809.8"/><rect x="1166.5" y="1912.5"/><rect x="1424.1" y="1885.1"/><rect x="279.2" y="2613.4"/><rect x="557.3" y="2418.8"/><rect x="344.3" y="2546.2"/><rect x="1082.1" y="2070.9"/><rect x="1404.3" y="1837.1"/><rect x="290.4" y="2604.1"/><rect x="391.5" y="2509.7"/><rect x="1265.6" y="1873.4"/><rect x="640.3" y="2392.8"/><rect x="1284.7" y="1823.6"/><rect x="1412.6" y="1820.7"/><rect x="1228.6" y="1972.3"/><rect x="1243.5" y="1909.4"/><rect x="1368.9" y="1728.9"/><rect x="537.8" y="2472.9"/><rect x="304.2" y="2592.5"/><rect x="1101.3" y="2039.7"/><rect x="1525.3" y="1888.1"/><rect x="1130.2" y="1977.0"/><rect x="1300.6" y="1936.2"/><rect x="1322.6" y="1968.0"/><rect x="403.2" y="2543.7"/><rect x="1290.0" y="1856.6"/><rect x="463.6" y="2504.0"/><rect x="1337.6" y="1877.6"/><rect x="323.5" y="2568.5"/><rect x="1340.1" y="1780.0"/><rect x="1457.1" y="1847.0"/><rect x="1381.2" y="1856.6"/><rect x="1459.3" y="1837.1"/><rect x="282.9" y="2609.4"/><rect x="1520.6" y="1894.3"/><rect x="1492.6" y="1755.9"/><rect x="366.0" y="2587.9"/><rect x="1551.6" y="1733.8"/><rect x="351.7" y="2542.4"/><rect x="1201.7" y="1903.6"/><rect x="1511.3" y="1828.4"/><rect x="1434.5" y="1804.6"/><rect x="1284.0" y="1912.5"/><rect x="1302.0" y="1837.1"/><rect x="801.4" y="2273.3"/><rect x="290.6" y="2608.9"/><rect x="1215.5" y="1942.3"/><rect x="1479.9" y="1809.8"/><rect x="1152.5" y="1917.7"/><rect x="469.2" y="2522.9"/><rect x="1478.8" y="1831.4"/><rect x="1287.9" y="1804.8"/><rect x="1472.9" y="1867.6"/><rect x="320.6" y="2583.6"/><rect x="1355.7" y="1733.8"/><rect x="885.2" y="2178.2"/><rect x="730.4" y="2299.1"/><rect x="362.2" y="2539.6"/><rect x="844.7" y="2196.0"/><rect x="1056.6" y="2112.5"/><rect x="596.5" y="2363.9"/><rect x="548.5" y="2435.7"/><rect x="1469.0" y="1888.1"/><rect x="1379.4" y="1936.2"/><rect x="1549.4" y="1787.2"/><rect x="873.0" y="2204.5"/><rect x="462.8" y="2510.4"/><rect x="1441.0" y="1880.8"/><rect x="533.9" y="2422.1"/><rect x="1275.0" y="1916.8"/><rect x="1542.9" y="1724.3"/><rect x="1230.8" y="1867.6"/><rect x="1470.5" y="1877.6"/><rect x="1304.6" y="1839.6"/><rect x="1157.7" y="1997.6"/><rect x="1571.1" y="1804.8"/><rect x="656.2" y="2348.9"/><rect x="379.9" y="2526.4"/><rect x="360.3" y="2534.5"/><rect x="946.3" y="2125.9"/><rect x="1453.7" y="1832.1"/><rect x="1478.1" y="1755.9"/><rect x="1377.7" y="1799.5"/><rect x="310.8" y="2582.3"/><rect x="1016.9" y="2136.9"/><rect x="909.9" y="2166.1"/><rect x="1317.8" y="1769.1"/><rect x="1460.8" y="1717.1"/><rect x="1174.6" y="1942.3"/><rect x="1479.0" y="1804.8"/><rect x="332.0" y="2598.6"/><rect x="1357.2" y="1936.2"/><rect x="693.6" y="2331.8"/><rect x="897.2" y="2139.4"/><rect x="1267.2" y="1987.6"/><rect x="1001.0" y="2118.5"/><rect x="1355.3" y="1773.5"/><rect x="328.5" y="2595.1"/><rect x="1006.9" y="2114.1"/><rect x="1496.0" y="1753.3"/><rect x="1456.0" y="1831.8"/><rect x="1303.0" y="1962.3"/><rect x="1516.1" y="1856.6"/><rect x="1100.5" y="2076.0"/><rect x="811.1" y="2246.3"/><rect x="294.8" y="2591.2"/><rect x="738.1" y="2290.6"/><rect x="408.7" y="2504.8"/><rect x="1234.9" y="1887.4"/><rect x="1084.2" y="2042.2"/><rect x="323.1" y="2609.7"/><rect x="1186.9" y="1996.9"/><rect x="364.2" y="2551.5"/><rect x="1502.6" y="1733.8"/><rect x="649.5" y="2335.7"/><rect x="353.2" y="2538.7"/><rect x="1041.0" y="2069.4"/><rect x="1234.4" y="1921.1"/><rect x="1467.6" y="1832.1"/><rect x="1549.9" y="1828.4"/><rect x="356.9" y="2553.5"/><rect x="1262.3" y="1885.6"/><rect x="500.4" y="2485.6"/><rect x="1213.9" y="1870.2"/><rect x="1444.0" y="1856.6"/><rect x="1152.4" y="1967.5"/><rect x="1389.2" y="1837.1"/><rect x="1214.2" y="1958.2"/><rect x="1197.5" y="1912.5"/><rect x="1474.0" y="1870.9"/><rect x="1490.9" y="1889.2"/><rect x="1386.1" y="1784.3"/><rect x="1462.7" y="1804.8"/><rect x="1544.0" y="1847.1"/><rect x="1492.6" y="1759.1"/><rect x="1223.4" y="1936.2"/><rect x="397.8" y="2538.3"/><rect x="648.3" y="2371.1"/><rect x="344.4" y="2581.3"/><rect x="879.8" y="2176.4"/><rect x="332.4" y="2585.7"/><rect x="779.8" y="2227.2"/><rect x="459.8" y="2537.6"/><rect x="1160.7" y="1936.2"/><rect x="1139.1" y="1920.0"/><rect x="717.1" y="2341.8"/><rect x="863.3" y="2174.2"/><rect x="1277.2" y="1787.2"/><rect x="770.0" y="2262.5"/><rect x="1459.0" y="1885.9"/><rect x="1165.2" y="1951.5"/><rect x="1465.0" y="1733.8"/><rect x="1551.8" y="1769.1"/><rect x="494.5" y="2465.6"/><rect x="982.6" y="2131.8"/><rect x="955.2" y="2080.2"/><rect x="1319.3" y="1834.6"/><rect x="1103.5" y="2017.3"/><rect x="1571.8" y="1834.4"/><rect x="1111.9" y="2011.4"/><rect x="562.9" y="2366.3"/><rect x="1460.2" y="1825.7"/><rect x="852.5" y="2154.0"/><rect x="1203.7" y="1959.3"/><rect x="1212.2" y="2019.8"/><rect x="388.7" y="2545.5"/><rect x="1069.0" y="2049.4"/><rect x="1509.7" y="1804.8"/><rect x="483.0" y="2490.9"/><rect x="1381.8" y="1944.5"/><rect x="1224.7" y="1936.2"/><rect x="1359.9" y="1780.0"/><rect x="312.3" y="2614.1"/><rect x="830.6" y="2206.5"/><rect x="586.6" y="2452.8"/><rect x="985.3" y="2139.2"/><rect x="1089.1" y="1997.6"/><rect x="1286.2" y="1966.4"/><rect x="849.2" y="2174.6"/><rect x="1161.7" y="1997.6"/><rect x="966.2" y="2080.4"/><rect x="675.3" y="2362.8"/><rect x="293.3" y="2610.8"/><rect x="1214.8" y="1913.5"/><rect x="1513.5" y="1804.8"/><rect x="1269.7" y="1951.5"/><rect x="1175.6" y="1958.2"/><rect x="1530.5" y="1820.7"/><rect x="1145.4" y="1946.5"/><rect x="1486.7" y="1809.8"/><rect x="309.1" y="2595.4"/><rect x="1408.7" y="1755.9"/><rect x="1203.0" y="1958.2"/><rect x="1225.2" y="1979.3"/><rect x="1155.4" y="1946.5"/><rect x="1418.0" y="1733.8"/><rect x="316.4" y="2581.2"/><rect x="1496.5" y="1775.4"/><rect x="501.2" y="2498.9"/><rect x="1470.0" y="1852.3"/><rect x="737.6" y="2309.6"/><rect x="1572.5" y="1718.4"/><rect x="1216.0" y="1867.6"/><rect x="1145.6" y="1990.5"/><rect x="343.5" y="2547.7"/><rect x="933.8" y="2133.6"/><rect x="631.8" y="2370.5"/><rect x="1533.5" y="1837.1"/><rect x="1353.5" y="1912.5"/><rect x="503.2" y="2496.2"/><rect x="294.9" y="2575.9"/><rect x="1301.5" y="1823.6"/><rect x="1270.4" y="1943.7"/><rect x="1214.2" y="1966.4"/><rect x="1491.0" y="1888.1"/><rect x="806.7" y="2202.8"/><rect x="1408.0" y="1755.9"/><rect x="1241.3" y="1787.2"/><rect x="731.8" y="2266.1"/><rect x="302.6" y="2577.7"/><rect x="1294.4" y="1966.4"/><rect x="358.6" y="2604.2"/><rect x="370.4" y="2536.3"/><rect x="332.8" y="2610.2"/><rect x="1567.6" y="1780.0"/><rect x="1507.1" y="1708.6"/><rect x="1194.6" y="1936.2"/><rect x="778.6" y="2304.6"/><rect x="719.8" y="2282.2"/><rect x="1384.0" y="1917.3"/><rect x="1069.7" y="2104.7"/><rect x="347.8" y="2601.7"/><rect x="974.9" y="2138.2"/><rect x="1338.6" y="1942.3"/><rect x="1566.3" y="1709.3"/><rect x="304.7" y="2612.8"/><rect x="1276.9" y="1966.4"/><rect x="1226.6" y="1793.9"/><rect x="1523.3" y="1703.9"/><rect x="756.7" y="2241.9"/><rect x="1138.0" y="1988.1"/><rect x="907.0" y="2175.3"/><rect x="1534.2" y="1847.0"/><rect x="1357.8" y="1898.4"/><rect x="1238.0" y="1941.6"/><rect x="1160.9" y="2048.9"/><rect x="1330.4" y="1894.3"/><rect x="872.3" y="2185.5"/><rect x="930.8" y="2201.0"/><rect x="599.8" y="2435.7"/><rect x="1165.3" y="2066.9"/><rect x="1384.6" y="1837.1"/><rect x="1236.7" y="1828.4"/><rect x="328.0" y="2563.0"/><rect x="1272.5" y="1979.3"/><rect x="1373.1" y="1889.6"/><rect x="1462.1" y="1804.8"/><rect x="673.7" y="2354.0"/><rect x="1360.3" y="1888.1"/><rect x="292.5" y="2609.5"/><rect x="274.1" y="2609.9"/><rect x="388.6" y="2519.9"/><rect x="1413.1" y="1733.8"/><rect x="734.5" y="2330.8"/><rect x="315.1" y="2596.5"/><rect x="369.4" y="2549.4"/><rect x="737.8" y="2304.9"/><rect x="1365.0" y="1958.2"/><rect x="1570.7" y="1703.2"/><rect x="1391.4" y="1835.6"/><rect x="1343.8" y="1942.3"/><rect x="328.2" y="2593.5"/><rect x="915.4" y="2168.0"/><rect x="1168.9" y="2049.2"/><rect x="1259.0" y="1892.4"/><rect x="1572.7" y="1804.8"/><rect x="1476.1" y="1880.7"/><rect x="1035.5" y="2150.3"/><rect x="1383.2" y="1898.8"/><rect x="1374.0" y="1808.9"/><rect x="1238.6" y="1837.1"/><rect x="1475.3" y="1870.9"/><rect x="1188.6" y="1877.6"/><rect x="1392.6" y="1837.1"/><rect x="327.3" y="2555.5"/><rect x="1427.0" y="1856.6"/><rect x="761.9" y="2282.8"/><rect x="1248.4" y="1966.4"/><rect x="1106.7" y="2059.2"/><rect x="929.7" y="2197.9"/><rect x="1479.2" y="1766.4"/><rect x="1437.9" y="1866.5"/><rect x="274.0" y="2612.4"/><rect x="1500.0" y="1804.8"/><rect x="1189.9" y="1913.5"/><rect x="1073.2" y="2067.4"/><rect x="540.5" y="2457.5"/><rect x="1395.2" y="1832.1"/><rect x="989.4" y="2073.5"/><rect x="1411.9" y="1733.8"/><rect x="1535.4" y="1720.1"/><rect x="284.0" y="2613.0"/><rect x="1190.8" y="2021.0"/><rect x="980.6" y="2116.9"/><rect x="1332.4" y="1900.8"/><rect x="291.4" y="2610.3"/><rect x="1521.9" y="1728.9"/><rect x="1183.7" y="1965.1"/><rect x="1359.3" y="1909.6"/><rect x="1221.1" y="1917.3"/><rect x="1549.1" y="1787.2"/><rect x="1315.2" y="1758.4"/><rect x="1504.1" y="1787.2"/><rect x="1522.0" y="1733.8"/><rect x="595.6" y="2341.0"/><rect x="949.0" y="2161.5"/><rect x="1165.1" y="1966.4"/><rect x="1081.2" y="2106.9"/><rect x="1356.0" y="1888.1"/><rect x="1157.7" y="1942.6"/><rect x="791.3" y="2241.8"/><rect x="1365.1" y="1898.4"/><rect x="1563.3" y="1773.5"/><rect x="1337.8" y="1892.5"/><rect x="1456.0" y="1856.6"/><rect x="1271.6" y="1837.1"/><rect x="1448.7" y="1820.7"/><rect x="1346.4" y="1898.4"/><rect x="1371.2" y="1895.4"/><rect x="747.3" y="2269.3"/><rect x="593.7" y="2357.6"/><rect x="1560.5" y="1755.9"/><rect x="1215.5" y="1951.5"/><rect x="1193.6" y="1876.0"/><rect x="1237.9" y="2017.3"/><rect x="1445.5" y="1874.8"/><rect x="724.3" y="2333.5"/><rect x="951.1" y="2160.2"/><rect x="540.5" y="2444.9"/><rect x="1529.8" y="1856.6"/><rect x="321.4" y="2590.6"/><rect x="691.6" y="2335.8"/><rect x="1222.0" y="1942.3"/><rect x="1566.3" y="1843.6"/><rect x="1496.6" y="1870.9"/><rect x="1348.6" y="1877.6"/><rect x="1440.1" y="1917.3"/><rect x="964.9" y="2072.0"/><rect x="1048.0" y="2020.6"/><rect x="571.1" y="2433.1"/><rect x="1484.2" y="1888.1"/><rect x="1235.5" y="1979.3"/><rect x="301.9" y="2602.1"/><rect x="1305.8" y="1874.8"/><rect x="356.3" y="2584.6"/><rect x="1178.0" y="2008.7"/><rect x="1407.5" y="1842.1"/><rect x="305.3" y="2609.5"/><rect x="335.2" y="2557.3"/><rect x="1353.8" y="1933.8"/><rect x="583.6" y="2356.3"/><rect x="1335.3" y="1844.4"/><rect x="1372.4" y="1804.8"/><rect x="1350.5" y="1898.7"/><rect x="973.3" y="2186.9"/><rect x="1174.2" y="2008.5"/><rect x="1298.2" y="1832.2"/><rect x="1267.0" y="1862.7"/><rect x="1116.4" y="1961.8"/><rect x="302.8" y="2595.1"/><rect x="1563.5" y="1728.9"/><rect x="1491.6" y="1818.7"/><rect x="1280.3" y="1891.9"/><rect x="576.1" y="2415.5"/><rect x="356.8" y="2539.3"/><rect x="1329.2" y="1861.4"/><rect x="459.6" y="2497.2"/><rect x="1313.2" y="1784.3"/><rect x="688.2" y="2354.8"/><rect x="1237.3" y="1820.7"/><rect x="636.2" y="2392.9"/><rect x="441.6" y="2522.0"/><rect x="1350.0" y="1820.7"/><rect x="615.7" y="2411.2"/><rect x="1450.5" y="1765.7"/><rect x="1148.1" y="1951.5"/><rect x="1141.0" y="2023.3"/><rect x="1290.2" y="1913.5"/><rect x="1417.8" y="1753.5"/><rect x="751.7" y="2304.7"/><rect x="1441.2" y="1747.7"/><rect x="1453.2" y="1733.8"/><rect x="1562.2" y="1837.1"/><rect x="496.7" y="2465.0"/><rect x="1115.3" y="2075.9"/><rect x="1325.3" y="1789.7"/><rect x="477.5" y="2515.1"/><rect x="449.9" y="2480.3"/><rect x="937.7" y="2131.1"/><rect x="1100.5" y="2041.8"/><rect x="1295.6" y="1864.4"/><rect x="355.2" y="2582.0"/><rect x="1489.1" y="1828.4"/><rect x="1512.4" y="1773.5"/><rect x="1314.3" y="1972.3"/><rect x="542.2" y="2434.0"/><rect x="1089.4" y="2118.8"/><rect x="1507.2" y="1728.9"/><rect x="517.9" y="2472.5"/><rect x="1143.8" y="2052.9"/><rect x="956.5" y="2109.1"/><rect x="948.1" y="2157.3"/><rect x="1259.2" y="1912.5"/><rect x="1468.2" y="1733.8"/><rect x="1336.0" y="1837.1"/><rect x="1264.6" y="1780.2"/><rect x="557.3" y="2435.2"/><rect x="1383.3" y="1806.6"/><rect x="303.7" y="2590.4"/><rect x="1362.7" y="1893.0"/><rect x="1377.3" y="1892.5"/><rect x="1167.1" y="2061.3"/><rect x="1188.4" y="1968.0"/><rect x="1262.5" y="1971.7"/><rect x="325.1" y="2591.6"/><rect x="606.5" y="2417.0"/><rect x="1029.7" y="2155.4"/><rect x="1457.1" y="1892.5"/><rect x="1265.5" y="1889.6"/><rect x="1293.0" y="1968.0"/><rect x="523.1" y="2428.2"/><rect x="1439.5" y="1913.5"/><rect x="349.6" y="2535.4"/><rect x="1351.6" y="1809.8"/><rect x="1530.8" y="1820.7"/><rect x="1184.3" y="1898.4"/><rect x="1298.1" y="1877.6"/><rect x="290.0" y="2593.8"/><rect x="869.5" y="2210.6"/><rect x="1485.7" y="1774.9"/><rect x="1489.3" y="1796.5"/><rect x="1481.8" y="1733.8"/><rect x="1252.2" y="1847.0"/><rect x="1274.2" y="1870.9"/><rect x="1515.3" y="1811.2"/><rect x="1336.0" y="1873.4"/><rect x="1460.1" y="1769.1"/><rect x="1520.7" y="1702.4"/><rect x="288.6" y="2610.6"/><rect x="1239.9" y="1958.2"/><rect x="1009.3" y="2144.7"/><rect x="1484.2" y="1787.2"/><rect x="1568.5" y="1755.9"/><rect x="1526.9" y="1874.8"/><rect x="970.1" y="2051.2"/><rect x="1415.6" y="1714.7"/><rect x="853.9" y="2159.4"/><rect x="1239.0" y="1988.1"/><rect x="1412.7" y="1820.9"/><rect x="1463.6" y="1889.6"/><rect x="1500.9" y="1714.7"/><rect x="743.5" y="2305.9"/><rect x="286.8" y="2610.6"/><rect x="1412.6" y="1917.3"/><rect x="1331.6" y="1820.7"/><rect x="1139.8" y="1979.3"/><rect x="897.6" y="2131.8"/><rect x="572.1" y="2368.3"/><rect x="1269.7" y="1870.9"/><rect x="626.3" y="2365.7"/><rect x="1168.0" y="1877.6"/><rect x="1332.6" y="1851.0"/><rect x="308.2" y="2609.8"/><rect x="320.1" y="2565.4"/><rect x="1528.9" y="1877.6"/><rect x="1171.4" y="1907.4"/><rect x="604.9" y="2394.2"/><rect x="284.8" y="2605.7"/><rect x="484.8" y="2477.5"/><rect x="881.9" y="2152.7"/><rect x="948.1" y="2108.2"/><rect x="314.9" y="2603.9"/><rect x="1487.1" y="1787.2"/><rect x="395.0" y="2522.6"/><rect x="308.6" y="2574.9"/><rect x="1495.8" y="1764.4"/><rect x="546.4" y="2456.7"/><rect x="1507.9" y="1717.1"/><rect x="348.4" y="2557.5"/><rect x="1395.1" y="1847.0"/><rect x="520.6" y="2471.8"/><rect x="1272.2" y="1966.4"/><rect x="1402.1" y="1787.2"/><rect x="640.5" y="2373.6"/><rect x="542.7" y="2440.7"/><rect x="1013.0" y="2021.0"/><rect x="318.4" y="2602.8"/><rect x="1418.1" y="1769.0"/><rect x="1353.3" y="1898.4"/><rect x="602.9" y="2427.2"/><rect x="755.1" y="2309.4"/><rect x="648.0" y="2352.5"/><rect x="1502.5" y="1832.1"/><rect x="1263.9" y="1825.3"/><rect x="1428.8" y="1892.4"/><rect x="1486.4" y="1856.6"/><rect x="1296.8" y="1780.0"/><rect x="1507.1" y="1877.6"/><rect x="1499.2" y="1755.9"/><rect x="362.8" y="2607.4"/><rect x="459.2" y="2518.6"/><rect x="1011.9" y="2027.2"/><rect x="323.0" y="2565.2"/><rect x="1257.7" y="1986.1"/><rect x="1280.1" y="1774.9"/><rect x="917.5" y="2139.2"/><rect x="1353.0" y="1784.3"/><rect x="1148.3" y="1997.6"/><rect x="787.9" y="2194.1"/><rect x="1315.2" y="1850.1"/><rect x="411.3" y="2566.5"/><rect x="582.7" y="2380.4"/><rect x="1534.4" y="1781.7"/><rect x="598.4" y="2405.1"/><rect x="688.9" y="2296.9"/><rect x="370.4" y="2541.4"/><rect x="336.2" y="2601.5"/><rect x="503.3" y="2462.0"/><rect x="1268.6" y="1917.3"/><rect x="1320.7" y="1952.4"/><rect x="910.3" y="2137.9"/><rect x="1399.6" y="1856.6"/><rect x="644.3" y="2388.5"/><rect x="1256.2" y="1942.3"/><rect x="310.5" y="2592.0"/><rect x="1139.0" y="1972.3"/><rect x="997.3" y="2177.7"/><rect x="357.4" y="2594.0"/><rect x="1443.7" y="1837.1"/><rect x="1149.7" y="2009.8"/><rect x="1045.5" y="2124.3"/><rect x="1520.3" y="1769.1"/><rect x="1169.8" y="1951.5"/><rect x="1370.4" y="1780.0"/><rect x="1067.3" y="2133.2"/><rect x="896.5" y="2217.6"/><rect x="934.5" y="2118.7"/><rect x="870.1" y="2142.2"/><rect x="374.5" y="2591.7"/><rect x="342.8" y="2570.3"/><rect x="1348.1" y="1943.3"/><rect x="1235.5" y="1976.2"/><rect x="541.4" y="2447.2"/><rect x="1245.8" y="1847.0"/><rect x="647.7" y="2356.7"/><rect x="347.9" y="2584.3"/><rect x="952.2" y="2103.1"/><rect x="359.6" y="2559.8"/><rect x="362.2" y="2537.5"/><rect x="503.2" y="2473.4"/><rect x="1210.7" y="1990.5"/><rect x="404.6" y="2521.3"/><rect x="791.8" y="2195.3"/><rect x="282.8" y="2595.3"/><rect x="605.5" y="2367.3"/><rect x="1163.4" y="2047.5"/><rect x="1505.8" y="1825.2"/><rect x="1552.2" y="1772.9"/><rect x="320.5" y="2587.1"/><rect x="1264.7" y="1903.9"/><rect x="1288.7" y="1936.2"/><rect x="1456.2" y="1890.2"/><rect x="599.8" y="2405.0"/><rect x="1193.0" y="2011.4"/><rect x="1129.7" y="1968.0"/><rect x="1146.4" y="2066.7"/><rect x="354.3" y="2560.0"/><rect x="1167.8" y="1990.5"/><rect x="1111.2" y="2106.8"/><rect x="1337.9" y="1917.3"/><rect x="1138.8" y="1990.5"/><rect x="745.3" y="2334.0"/><rect x="328.2" y="2607.8"/><rect x="382.4" y="2526.9"/><rect x="1350.6" y="1871.3"/><rect x="1064.8" y="2066.2"/><rect x="1454.5" y="1912.5"/><rect x="1256.3" y="1972.3"/><rect x="784.9" y="2272.6"/><rect x="1163.8" y="1899.7"/><rect x="1400.3" y="1856.6"/><rect x="1316.3" y="1778.9"/><rect x="766.4" y="2289.9"/><rect x="1559.8" y="1769.1"/><rect x="1519.0" y="1839.8"/><rect x="1496.9" y="1780.0"/><rect x="1274.3" y="1874.7"/><rect x="629.2" y="2373.6"/><rect x="1257.1" y="1917.3"/><rect x="1322.3" y="1948.8"/><rect x="1532.2" y="1740.7"/><rect x="1012.8" y="2158.2"/><rect x="1215.0" y="1942.3"/><rect x="283.0" y="2608.8"/><rect x="1307.9" y="1912.5"/><rect x="275.4" y="2611.8"/><rect x="323.5" y="2589.6"/><rect x="300.3" y="2611.5"/><rect x="508.0" y="2483.2"/><rect x="573.0" y="2463.5"/><rect x="413.7" y="2574.6"/><rect x="1144.3" y="1936.7"/><rect x="354.1" y="2594.3"/><rect x="336.4" y="2593.0"/><rect x="688.8" y="2298.0"/><rect x="820.1" y="2148.6"/><rect x="973.7" y="2136.5"/><rect x="376.0" y="2557.3"/><rect x="1296.7" y="1847.0"/><rect x="1430.0" y="1856.6"/><rect x="1266.1" y="1997.6"/><rect x="344.9" y="2563.6"/><rect x="1311.5" y="1979.3"/><rect x="711.6" y="2322.4"/><rect x="355.6" y="2602.5"/><rect x="1320.6" y="1803.5"/><rect x="1564.1" y="1798.2"/><rect x="1385.0" y="1804.8"/><rect x="810.2" y="2173.7"/><rect x="1362.8" y="1930.7"/><rect x="1407.7" y="1832.8"/><rect x="1088.2" y="2051.0"/><rect x="461.1" y="2494.3"/><rect x="1358.3" y="1856.6"/><rect x="1339.2" y="1804.8"/><rect x="1241.6" y="1984.1"/><rect x="1461.4" y="1733.9"/><rect x="1276.9" y="1990.7"/><rect x="542.5" y="2479.2"/><rect x="1214.1" y="1936.2"/><rect x="1389.8" y="1820.7"/><rect x="415.4" y="2539.7"/><rect x="1231.5" y="1858.5"/><rect x="1329.0" y="1958.2"/><rect x="1236.5" y="1898.4"/><rect x="1114.1" y="2069.8"/><rect x="1090.8" y="2019.8"/><rect x="1001.5" y="2165.8"/><rect x="1261.5" y="1912.5"/><rect x="313.2" y="2603.8"/><rect x="295.5" y="2594.2"/><rect x="527.9" y="2462.6"/><rect x="751.6" y="2304.2"/><rect x="990.6" y="2170.2"/><rect x="743.7" y="2261.5"/><rect x="549.0" y="2390.3"/><rect x="1209.4" y="1996.8"/><rect x="291.9" y="2613.6"/><rect x="1233.7" y="1809.8"/><rect x="335.3" y="2610.6"/><rect x="740.0" y="2260.7"/><rect x="1272.9" y="1988.1"/><rect x="1502.6" y="1733.8"/><rect x="480.3" y="2512.8"/><rect x="814.2" y="2214.4"/><rect x="479.0" y="2453.6"/><rect x="1454.7" y="1861.9"/><rect x="1440.1" y="1717.1"/><rect x="1173.5" y="2027.7"/><rect x="307.4" y="2589.7"/><rect x="782.1" y="2262.4"/><rect x="1399.7" y="1809.8"/><rect x="1153.6" y="1917.3"/><rect x="614.3" y="2389.6"/><rect x="373.0" y="2580.7"/><rect x="1415.2" y="1717.1"/><rect x="301.5" y="2608.0"/><rect x="1508.4" y="1832.1"/><rect x="434.4" y="2524.7"/><rect x="1119.2" y="2047.2"/><rect x="293.1" y="2602.6"/><rect x="333.4" y="2552.5"/><rect x="564.4" y="2366.8"/><rect x="817.9" y="2261.8"/><rect x="1140.0" y="1936.2"/><rect x="1350.2" y="1861.2"/><rect x="1412.6" y="1853.5"/><rect x="1560.8" y="1780.0"/><rect x="1215.3" y="1874.8"/><rect x="1081.0" y="2047.8"/><rect x="1244.0" y="1832.1"/><rect x="1108.6" y="2061.5"/><rect x="323.0" y="2573.1"/><rect x="1480.3" y="1867.6"/><rect x="301.6" y="2572.7"/><rect x="324.4" y="2587.5"/><rect x="1438.0" y="1892.5"/><rect x="1324.8" y="1936.2"/><rect x="1276.8" y="1917.3"/><rect x="1316.7" y="1809.8"/><rect x="1516.4" y="1803.3"/><rect x="436.5" y="2530.6"/><rect x="1520.3" y="1857.9"/><rect x="484.7" y="2450.5"/><rect x="412.4" y="2568.7"/><rect x="1348.7" y="1847.0"/><rect x="317.4" y="2611.6"/><rect x="310.2" y="2570.4"/><rect x="1504.6" y="1717.1"/><rect x="1193.0" y="1931.9"/><rect x="912.0" y="2170.3"/><rect x="1249.1" y="1804.8"/><rect x="904.7" y="2216.2"/><rect x="1308.8" y="1958.2"/><rect x="1409.1" y="1755.9"/><rect x="1089.8" y="2035.9"/><rect x="876.9" y="2134.4"/><rect x="1303.0" y="1890.1"/><rect x="322.6" y="2609.3"/><rect x="1220.3" y="1836.7"/><rect x="575.3" y="2401.3"/><rect x="1066.8" y="1972.3"/><rect x="448.5" y="2471.4"/><rect x="768.3" y="2219.5"/><rect x="1012.6" y="2171.4"/><rect x="1548.0" y="1809.8"/><rect x="1348.0" y="1828.4"/><rect x="279.2" y="2611.3"/><rect x="334.6" y="2575.7"/><rect x="443.5" y="2482.8"/><rect x="875.2" y="2130.7"/><rect x="932.5" y="2209.3"/><rect x="659.5" y="2367.7"/><rect x="1281.7" y="1804.8"/><rect x="1502.3" y="1727.6"/><rect x="312.2" y="2587.9"/><rect x="930.5" y="2148.5"/><rect x="359.2" y="2553.5"/><rect x="485.2" y="2482.9"/><rect x="414.7" y="2527.9"/><rect x="1404.9" y="1766.3"/><rect x="1231.0" y="2009.0"/><rect x="1322.4" y="1758.6"/><rect x="1187.8" y="2047.2"/><rect x="943.4" y="2163.9"/><rect x="471.5" y="2449.1"/><rect x="1459.1" y="1850.2"/><rect x="1539.6" y="1847.0"/><rect x="504.0" y="2425.4"/><rect x="344.6" y="2575.3"/><rect x="1230.0" y="1880.0"/><rect x="1337.9" y="1913.3"/><rect x="1146.2" y="2019.8"/><rect x="324.3" y="2604.7"/><rect x="1496.9" y="1755.9"/><rect x="1399.5" y="1801.2"/><rect x="943.1" y="2130.3"/><rect x="1402.1" y="1798.3"/><rect x="1406.8" y="1897.9"/><rect x="589.5" y="2338.6"/><rect x="899.6" y="2220.5"/><rect x="1052.8" y="2080.1"/><rect x="921.0" y="2101.0"/><rect x="1488.2" y="1728.9"/><rect x="1443.7" y="1838.0"/><rect x="1464.0" y="1800.2"/><rect x="1354.0" y="1902.8"/><rect x="1536.4" y="1820.7"/><rect x="737.6" y="2277.7"/><rect x="1039.4" y="2118.4"/><rect x="512.8" y="2496.3"/><rect x="277.5" y="2613.8"/><rect x="1481.8" y="1823.6"/><rect x="368.0" y="2586.6"/><rect x="1267.2" y="1787.2"/><rect x="1419.8" y="1877.6"/><rect x="1213.3" y="1990.5"/><rect x="432.4" y="2511.1"/><rect x="842.9" y="2220.3"/><rect x="284.9" y="2599.0"/><rect x="1127.9" y="1958.2"/><rect x="709.7" y="2356.4"/><rect x="1150.3" y="2033.7"/><rect x="528.6" y="2457.8"/><rect x="935.9" y="2129.1"/><rect x="1303.4" y="1990.5"/><rect x="772.6" y="2258.7"/><rect x="1279.5" y="1820.7"/><rect x="1388.7" y="1867.1"/><rect x="450.0" y="2490.6"/><rect x="1103.0" y="1958.8"/><rect x="1296.8" y="1867.6"/><rect x="1455.8" y="1820.7"/><rect x="557.7" y="2382.7"/><rect x="1234.0" y="1877.6"/><rect x="577.4" y="2411.1"/><rect x="1344.9" y="1932.6"/><rect x="627.3" y="2369.4"/><rect x="1469.8" y="1828.4"/><rect x="285.3" y="2604.5"/><rect x="653.6" y="2315.7"/><rect x="309.4" y="2573.2"/><rect x="1480.9" y="1728.9"/><rect x="837.1" y="2246.6"/><rect x="275.8" y="2609.2"/><rect x="686.6" y="2363.6"/><rect x="1548.7" y="1780.4"/><rect x="1206.4" y="1912.5"/><rect x="1252.2" y="1804.8"/><rect x="1195.5" y="1966.0"/><rect x="335.9" y="2609.2"/><rect x="760.3" y="2237.4"/><rect x="744.5" y="2281.6"/><rect x="1532.6" y="1717.1"/><rect x="1191.5" y="1961.2"/><rect x="1084.7" y="2119.0"/><rect x="1271.0" y="1946.5"/><rect x="1506.5" y="1809.8"/><rect x="302.6" y="2581.1"/><rect x="1224.5" y="1951.5"/><rect x="980.1" y="2177.7"/><rect x="1218.3" y="1974.6"/><rect x="518.2" y="2481.5"/><rect x="387.7" y="2551.4"/><rect x="718.6" y="2328.8"/><rect x="1245.3" y="1917.3"/><rect x="1363.1" y="1946.5"/><rect x="1508.2" y="1883.4"/><rect x="556.1" y="2448.2"/><rect x="1326.3" y="1894.3"/><rect x="1130.6" y="2081.9"/><rect x="999.9" y="2187.4"/><rect x="1309.6" y="1929.7"/><rect x="508.2" y="2464.6"/><rect x="1492.7" y="1856.3"/><rect x="1332.1" y="1857.4"/><rect x="625.1" y="2346.5"/><rect x="355.3" y="2540.7"/><rect x="1281.8" y="1847.0"/><rect x="1560.7" y="1810.4"/><rect x="1264.1" y="1903.6"/><rect x="648.3" y="2354.0"/><rect x="1362.0" y="1902.0"/><rect x="1206.0" y="1847.0"/><rect x="291.0" y="2603.6"/><rect x="677.2" y="2332.1"/><rect x="1301.5" y="1812.5"/><rect x="1298.3" y="1917.3"/><rect x="1443.2" y="1867.3"/><rect x="1264.6" y="1847.0"/><rect x="1476.7" y="1733.8"/><rect x="1377.0" y="1804.8"/><rect x="1394.0" y="1758.4"/><rect x="987.8" y="2108.6"/><rect x="309.8" y="2594.5"/><rect x="339.9" y="2548.8"/><rect x="1455.3" y="1728.5"/><rect x="1316.2" y="1856.6"/><rect x="1200.6" y="1958.2"/><rect x="635.5" y="2349.2"/><rect x="1383.0" y="1912.5"/><rect x="299.0" y="2609.2"/><rect x="739.6" y="2314.8"/><rect x="1457.9" y="1824.1"/><rect x="563.2" y="2436.3"/><rect x="278.8" y="2596.8"/><rect x="1353.4" y="1894.3"/><rect x="314.7" y="2561.4"/><rect x="321.6" y="2592.3"/><rect x="319.3" y="2580.5"/><rect x="796.5" y="2210.5"/><rect x="1536.3" y="1824.8"/><rect x="1083.7" y="1951.5"/><rect x="476.1" y="2453.9"/><rect x="1262.4" y="1787.2"/><rect x="1501.7" y="1832.2"/><rect x="301.4" y="2610.0"/><rect x="1300.1" y="1829.4"/><rect x="1516.6" y="1733.8"/><rect x="1083.7" y="2002.9"/><rect x="1539.7" y="1787.2"/><rect x="1488.6" y="1804.8"/><rect x="867.6" y="2205.4"/><rect x="1463.9" y="1804.8"/><rect x="1142.1" y="1960.1"/><rect x="472.9" y="2528.9"/><rect x="652.8" y="2369.8"/><rect x="337.2" y="2567.3"/><rect x="330.5" y="2613.3"/><rect x="1214.4" y="1847.0"/><rect x="509.6" y="2466.4"/><rect x="1555.5" y="1755.9"/><rect x="1392.6" y="1719.3"/><rect x="590.6" y="2433.5"/><rect x="1385.8" y="1788.2"/><rect x="274.8" y="2611.2"/><rect x="1560.8" y="1823.6"/><rect x="1406.2" y="1733.8"/><rect x="1039.1" y="2142.2"/><rect x="978.9" y="2128.2"/><rect x="1365.3" y="1804.8"/><rect x="430.4" y="2495.4"/><rect x="958.6" y="2067.8"/><rect x="1506.9" y="1820.7"/><rect x="1470.9" y="1769.1"/><rect x="311.0" y="2598.9"/><rect x="338.8" y="2606.5"/><rect x="1217.3" y="2017.3"/><rect x="1455.3" y="1709.3"/><rect x="1549.0" y="1839.8"/><rect x="1420.9" y="1714.7"/><rect x="942.3" y="2136.3"/><rect x="1372.7" y="1787.2"/><rect x="893.1" y="2138.4"/><rect x="1302.1" y="1785.2"/><rect x="605.2" y="2361.1"/><rect x="1433.3" y="1717.1"/><rect x="347.6" y="2551.0"/><rect x="336.8" y="2598.0"/><rect x="978.7" y="2118.0"/><rect x="760.1" y="2308.2"/><rect x="1457.5" y="1894.3"/><rect x="1566.6" y="1728.4"/><rect x="1430.8" y="1930.7"/><rect x="1289.9" y="1832.2"/><rect x="1232.3" y="1913.5"/><rect x="1493.3" y="1890.9"/><rect x="1302.0" y="1891.3"/><rect x="1050.7" y="2093.9"/><rect x="340.9" y="2565.3"/><rect x="792.4" y="2243.5"/><rect x="1074.3" y="2096.6"/><rect x="359.7" y="2534.1"/><rect x="1450.7" y="1733.8"/><rect x="1181.8" y="1878.0"/><rect x="1180.5" y="1889.7"/><rect x="1532.2" y="1769.3"/><rect x="840.0" y="2209.3"/><rect x="513.5" y="2459.5"/><rect x="1272.3" y="1823.6"/><rect x="1266.5" y="1784.3"/><rect x="925.0" y="2155.7"/><rect x="1035.2" y="2124.9"/><rect x="317.9" y="2612.6"/><rect x="665.3" y="2348.9"/><rect x="364.4" y="2573.3"/><rect x="1400.8" y="1756.1"/><rect x="930.5" y="2149.3"/><rect x="1211.9" y="1847.0"/><rect x="1317.5" y="1769.1"/><rect x="1019.5" y="2134.1"/><rect x="1333.6" y="1875.3"/><rect x="285.8" y="2607.5"/><rect x="1508.4" y="1856.6"/><rect x="616.3" y="2344.4"/><rect x="717.2" y="2275.6"/><rect x="1500.1" y="1758.4"/><rect x="1471.5" y="1837.1"/><rect x="365.3" y="2596.3"/><rect x="1404.3" y="1917.3"/><rect x="440.5" y="2507.3"/><rect x="617.7" y="2371.4"/><rect x="1309.2" y="1884.8"/><rect x="814.6" y="2199.1"/><rect x="1417.5" y="1804.8"/><rect x="1434.7" y="1840.8"/><rect x="1498.8" y="1847.0"/><rect x="1065.6" y="2018.0"/><rect x="949.5" y="2124.9"/><rect x="1346.0" y="1785.5"/><rect x="303.1" y="2593.0"/><rect x="339.5" y="2609.8"/><rect x="1555.1" y="1832.2"/><rect x="1465.8" y="1898.4"/><rect x="762.9" y="2287.5"/><rect x="354.7" y="2591.3"/><rect x="1376.5" y="1912.5"/><rect x="527.7" y="2438.9"/><rect x="621.4" y="2406.9"/><rect x="535.1" y="2418.7"/><rect x="793.8" y="2243.1"/><rect x="1428.4" y="1787.2"/><rect x="887.9" y="2212.2"/><rect x="432.5" y="2525.1"/><rect x="1395.5" y="1767.5"/><rect x="905.2" y="2139.1"/><rect x="1343.1" y="1936.2"/><rect x="345.4" y="2563.6"/><rect x="1377.1" y="1804.8"/><rect x="609.5" y="2420.5"/><rect x="1439.8" y="1769.1"/><rect x="441.7" y="2541.2"/><rect x="651.2" y="2335.1"/><rect x="341.9" y="2588.4"/><rect x="1148.0" y="1942.3"/><rect x="1362.1" y="1898.4"/><rect x="673.1" y="2342.3"/><rect x="1158.7" y="1936.2"/><rect x="934.7" y="2137.2"/><rect x="775.6" y="2238.7"/><rect x="343.0" y="2565.9"/><rect x="1494.6" y="1733.8"/><rect x="1420.6" y="1867.6"/><rect x="923.6" y="2200.2"/><rect x="302.4" y="2573.5"/><rect x="944.2" y="2195.5"/><rect x="357.1" y="2543.1"/><rect x="1268.1" y="1809.8"/><rect x="330.7" y="2588.1"/><rect x="844.8" y="2230.6"/><rect x="304.4" y="2601.1"/><rect x="1492.3" y="1870.9"/><rect x="609.2" y="2350.5"/><rect x="1272.8" y="1888.1"/><rect x="1339.0" y="1958.2"/><rect x="1242.2" y="2010.5"/><rect x="1356.5" y="1820.7"/><rect x="1361.2" y="1755.9"/><rect x="1494.6" y="1856.6"/><rect x="653.9" y="2340.9"/><rect x="581.7" y="2420.3"/><rect x="1522.3" y="1847.0"/><rect x="536.5" y="2399.1"/><rect x="1082.9" y="2011.4"/><rect x="1398.6" y="1820.7"/><rect x="1267.9" y="1990.5"/><rect x="1266.4" y="1936.2"/><rect x="516.9" y="2490.2"/><rect x="936.8" y="2110.4"/><rect x="1342.6" y="1942.3"/><rect x="1470.6" y="1879.6"/><rect x="302.9" y="2593.2"/><rect x="465.6" y="2525.3"/><rect x="672.6" y="2307.7"/><rect x="1133.4" y="2081.3"/><rect x="1440.7" y="1758.4"/><rect x="368.1" y="2538.1"/><rect x="1059.4" y="1997.6"/><rect x="286.1" y="2610.3"/><rect x="479.2" y="2471.0"/><rect x="350.0" y="2552.4"/><rect x="1241.6" y="1912.5"/><rect x="1357.1" y="1755.9"/><rect x="345.6" y="2604.1"/><rect x="1422.4" y="1834.7"/><rect x="1075.7" y="2032.0"/><rect x="600.8" y="2412.7"/><rect x="694.2" y="2351.5"/><rect x="709.8" y="2325.6"/><rect x="1093.7" y="2083.0"/><rect x="356.9" y="2571.4"/><rect x="294.1" y="2600.0"/><rect x="1434.9" y="1912.5"/><rect x="366.4" y="2592.4"/><rect x="1358.5" y="1769.1"/><rect x="1427.6" y="1733.8"/><rect x="1401.2" y="1755.9"/><rect x="1516.2" y="1717.1"/><rect x="1426.4" y="1809.8"/><rect x="362.3" y="2561.8"/><rect x="276.1" y="2598.8"/><rect x="780.8" y="2260.2"/><rect x="726.7" y="2328.6"/><rect x="1506.6" y="1856.2"/><rect x="1029.4" y="2044.3"/><rect x="549.7" y="2403.8"/><rect x="1091.6" y="1966.4"/><rect x="1289.9" y="1820.7"/><rect x="1458.2" y="1787.2"/><rect x="1145.6" y="1936.2"/><rect x="358.1" y="2540.9"/><rect x="1211.5" y="1847.1"/><rect x="807.0" y="2236.4"/><rect x="300.0" y="2609.7"/><rect x="839.3" y="2224.0"/><rect x="1569.2" y="1780.0"/><rect x="725.4" y="2262.6"/><rect x="1268.2" y="1865.3"/><rect x="529.8" y="2446.0"/><rect x="852.1" y="2210.4"/><rect x="1279.3" y="1847.0"/><rect x="767.8" y="2271.4"/><rect x="1258.7" y="2011.4"/><rect x="1448.1" y="1791.2"/><rect x="1457.6" y="1898.4"/><rect x="1495.0" y="1786.9"/><rect x="960.0" y="2145.1"/><rect x="1058.3" y="2049.4"/><rect x="322.0" y="2610.2"/><rect x="381.6" y="2557.8"/><rect x="880.4" y="2201.7"/><rect x="1106.3" y="2091.0"/><rect x="1314.7" y="1804.8"/><rect x="1261.4" y="1974.6"/><rect x="1210.4" y="1867.6"/><rect x="1505.5" y="1877.6"/><rect x="1367.3" y="1809.8"/><rect x="1403.8" y="1820.7"/><rect x="1302.1" y="1809.8"/><rect x="1383.3" y="1769.1"/><rect x="1157.5" y="1972.3"/><rect x="716.7" y="2324.6"/><rect x="1485.5" y="1733.8"/><rect x="1501.2" y="1856.6"/><rect x="1013.3" y="2064.7"/><rect x="300.5" y="2612.7"/><rect x="858.1" y="2239.8"/><rect x="546.6" y="2415.0"/><rect x="1237.5" y="1867.8"/><rect x="1344.0" y="1936.2"/><rect x="1535.8" y="1760.4"/><rect x="814.2" y="2248.7"/><rect x="278.3" y="2606.6"/><rect x="1405.3" y="1917.3"/><rect x="292.6" y="2588.7"/><rect x="1236.1" y="1874.6"/><rect x="384.8" y="2537.3"/><rect x="1302.4" y="1837.1"/><rect x="282.1" y="2597.6"/><rect x="901.5" y="2154.0"/><rect x="1184.1" y="1779.8"/><rect x="921.0" y="2041.0"/><rect x="919.2" y="2086.4"/><rect x="919.2" y="2064.3"/><rect x="905.0" y="2111.3"/><rect x="764.3" y="2349.5"/><rect x="780.0" y="2202.3"/><rect x="1040.2" y="1898.1"/><rect x="1329.0" y="1701.5"/><rect x="1555.5" y="1843.9"/><rect x="408.9" y="2452.4"/><rect x="562.4" y="2483.4"/><rect x="1518.9" y="1894.8"/><rect x="1390.6" y="1947.3"/><rect x="1286.1" y="1731.4"/></g>
<line x1="285.3" y1="2643.0" x2="1888.9" y2="1490.5" stroke="#00f" stroke-width="8" stroke-linecap="round"/>
<line x1="285.3" y1="2643.0" x2="1538.1" y2="1490.5" stroke="#f00" stroke-width="7" stroke-linecap="round" stroke-dasharray="39.13 21.20" stroke-dashoffset="3.80"/><line x1="285.3" y1="2643.0" x2="1888.9" y2="1813.2" stroke="#f00" stroke-width="7" stroke-linecap="round" stroke-dasharray="32.43 17.56" stroke-dashoffset="3.15"/>
<rect x="369" y="1554.4" width="28" height="28" class="sq"/>
<line x1="322" y1="1636.8" x2="444" y2="1636.8" stroke="#00f" stroke-width="7" stroke-linecap="round"/>
<text x="475.5" y="1587.3" class="tt" style="font-size:54.7px">Random tree (RT) model</text>
<text x="475" y="1656.3" class="tt" style="font-size:54.7px">Line of perfect agreement (1:1)</text>
<text x="782" y="1773.0" text-anchor="middle" class="tk" style="font-size:54.4px"><tspan font-style="italic">R</tspan><tspan font-size="36" dx="-2.5" dy="-16">2</tspan><tspan dx="2.5" dy="16"> = 0.9960 (</tspan><tspan font-weight="bold">testing set</tspan>)</text>
<text x="779.5" y="1837.3" text-anchor="middle" class="tk" style="font-size:54.3px"><tspan font-style="italic">y</tspan> = 0.9986 <tspan font-style="italic">x</tspan> + 2.2995</text>
<path transform="translate(0,1368.8)" d="M 840.8 532.0 C 842.4 535.0, 848.3 543.9, 850.5 550.0 C 852.7 556.1, 853.9 563.0, 853.9 568.9 C 853.9 574.8, 852.7 578.3, 850.6 585.2 C 848.5 592.1, 844.2 602.9, 841.4 610.2 C 838.6 617.5, 835.5 623.9, 833.8 629.0 C 832.0 634.1, 830.6 638.2, 830.9 641.0 C 831.2 643.8, 832.7 645.6, 835.5 645.6 C 838.3 645.6, 838.9 646.7, 847.6 641.0 C 856.3 635.3, 872.7 623.5, 887.7 611.5 C 902.7 599.5, 921.1 582.9, 937.8 568.9 C 954.5 554.9, 975.6 537.2, 988.0 527.5 C 1000.4 517.8, 1006.8 513.2, 1012.0 510.5 C 1017.2 507.8, 1019.0 509.8, 1019.5 511.5 C 1020.0 513.2, 1018.2 515.6, 1015.0 521.0 C 1011.8 526.4, 1008.7 532.7, 1000.0 543.8 C 991.3 554.9, 972.2 575.6, 962.9 587.7 C 953.6 599.8, 948.1 608.6, 944.1 616.5 C 940.1 624.4, 938.9 629.9, 939.1 635.3 C 939.3 640.7, 942.1 645.8, 945.4 649.1 C 948.7 652.5, 953.0 653.6, 959.1 655.4 C 965.2 657.2, 977.9 659.0, 981.7 659.7" fill="none" stroke="#000" stroke-width="6.2" stroke-linecap="butt" stroke-linejoin="round"/>
<path transform="translate(0,1368.8)" d="M 816.9 506.4 L 848.6 525.2 L 832.8 539.2 Z" fill="#000" stroke="#000" stroke-width="1.5" stroke-linejoin="round"/>
<ellipse cx="1452.0" cy="2137.0" rx="62" ry="62" fill="#fff" stroke="#000" stroke-width="5"/>
<text x="1453.0" y="2156.0" text-anchor="middle" class="dg">RSG</text>
<ellipse cx="1592.5" cy="2130.0" rx="62" ry="62" fill="#fff" stroke="#000" stroke-width="5"/>
<text x="1595.0" y="2149.0" text-anchor="middle" class="dg">VN</text>
<ellipse cx="1337.0" cy="2216.0" rx="62" ry="62" fill="#fff" stroke="#000" stroke-width="5"/>
<text x="1340.0" y="2234.5" text-anchor="middle" class="dg">GT</text>
<ellipse cx="1306.0" cy="2356.0" rx="62.5" ry="62.5" fill="#fff" stroke="#000" stroke-width="5"/>
<text x="1309.8" y="2375.6" text-anchor="middle" class="dg">PA</text>
<ellipse cx="1350.0" cy="2484.0" rx="61.5" ry="61" fill="#fff" stroke="#000" stroke-width="5"/>
<text x="1352.7" y="2504.3" text-anchor="middle" class="dg">AT</text>
<ellipse cx="1463.3" cy="2556.0" rx="62.5" ry="62.5" fill="#fff" stroke="#000" stroke-width="5"/>
<text x="1466.5" y="2577.3" text-anchor="middle" class="dg">WD</text>
<ellipse cx="1605.4" cy="2558.0" rx="61.5" ry="61.5" fill="#fff" stroke="#000" stroke-width="5"/>
<text x="1607.5" y="2579.0" text-anchor="middle" class="dg">WS</text>
<ellipse cx="1777.2" cy="2343.3" rx="82.7" ry="62.5" fill="#fff" stroke="#000" stroke-width="5"/>
<text x="1776.3" y="2363.6" text-anchor="middle" class="dg">WTOP</text>
<circle cx="1530.7" cy="2344.0" r="70.5" fill="#ff0" stroke="#000" stroke-width="5.5"/>
<text x="1506.2" y="2359.6" class="dgb" textLength="53.5" lengthAdjust="spacingAndGlyphs">RT</text>
<polygon points="1377.0,2363.5 1411.0,2363.5 1411.0,2370.5 1455.0,2354.5 1411.0,2338.5 1411.0,2345.5 1377.0,2345.5" fill="#000"/>
<polygon points="1464.4,2205.6 1475.5,2237.4 1468.9,2239.7 1498.6,2275.9 1499.1,2229.1 1492.5,2231.4 1481.4,2199.6" fill="#000"/>
<polygon points="1570.2,2194.7 1559.1,2226.6 1552.5,2224.3 1553.2,2271.1 1582.7,2234.8 1576.1,2232.5 1587.2,2200.5" fill="#000"/>
<polygon points="1381.9,2272.2 1408.6,2293.3 1404.3,2298.8 1448.7,2313.6 1424.2,2273.7 1419.8,2279.2 1393.1,2258.0" fill="#000"/>
<polygon points="1411.8,2446.0 1437.7,2423.0 1442.3,2428.3 1464.6,2387.1 1421.1,2404.3 1425.7,2409.6 1399.8,2432.6" fill="#000"/>
<polygon points="1492.1,2494.0 1503.9,2462.2 1510.5,2464.6 1510.8,2417.8 1480.5,2453.5 1487.1,2455.9 1475.3,2487.8" fill="#000"/>
<polygon points="1591.9,2488.1 1581.5,2456.7 1588.1,2454.5 1559.0,2417.8 1557.8,2464.6 1564.4,2462.4 1574.9,2493.7" fill="#000"/>
<polygon points="1610.0,2355.5 1645.0,2355.5 1645.0,2362.5 1689.0,2346.5 1645.0,2330.5 1645.0,2337.5 1610.0,2337.5" fill="#000"/>
<circle cx="1781" cy="1722" r="67.3" fill="none" stroke="#000" stroke-width="6"/>
<text x="1783" y="1754.4" text-anchor="middle" class="tk" style="font-size:95px">b</text>
<text transform="translate(500.9,2385.8) rotate(-42.60)" class="rt">+28% Error Line</text>
<text transform="translate(739.0,2501.4) rotate(-28.00)" class="rt">-28% Error Line</text>
</svg></body></html>
